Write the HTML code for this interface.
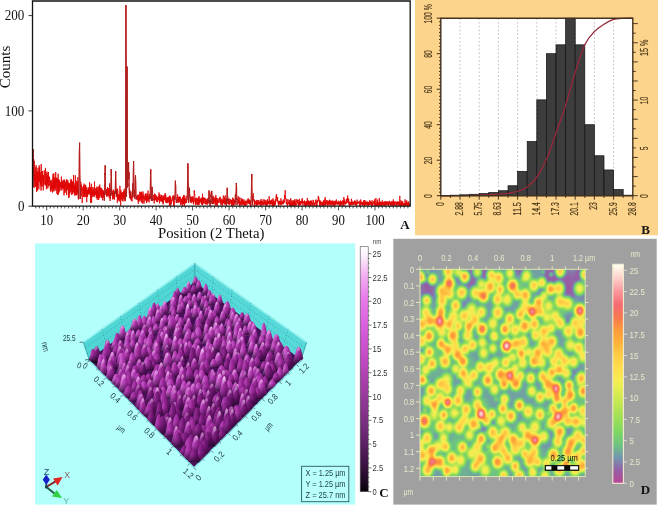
<!DOCTYPE html>
<html><head><meta charset="utf-8"><title>Figure</title>
<style>
html,body{margin:0;padding:0;background:#fff;}
body{width:658px;height:506px;overflow:hidden;font-family:"Liberation Sans",sans-serif;}
svg{display:block;filter:blur(0.4px);}
</style></head><body>
<svg width="658" height="506" viewBox="0 0 658 506">
<rect width="658" height="506" fill="#ffffff"/>
<g id="panel_a">
<rect x="0" y="0" width="414" height="243" fill="#fff"/>
<polyline points="33.2,149 33.3,158.5 33.5,164.3 33.6,174.2 33.7,159.1 33.8,176.8 34,176.9 34.1,187.9 34.2,160.8 34.4,173.3 34.5,180.9 34.6,178.2 34.7,174 34.9,178.8 35,178.7 35.1,186.3 35.2,173.9 35.4,176.6 35.5,175.7 35.6,186.9 35.8,167.4 35.9,176.6 36,180 36.1,165.2 36.3,178 36.4,185.8 36.5,180.3 36.6,191.8 36.8,171.5 36.9,180.5 37,182.5 37.2,171.5 37.3,188.1 37.4,174.9 37.5,190.7 37.7,182.2 37.8,185.5 37.9,169.4 38.1,167.7 38.2,180.4 38.3,171.9 38.4,179.5 38.6,175.1 38.7,183.1 38.8,188.8 38.9,189.4 39.1,176.4 39.2,165.3 39.3,177.2 39.5,181.9 39.6,167.5 39.7,177.5 39.8,178.3 40,177.5 40.1,179.8 40.2,180.9 40.4,185.4 40.5,176.2 40.6,179.8 40.7,172.2 40.9,181.5 41,190.6 41.1,180 41.2,164 41.4,181.7 41.5,184.7 41.6,186.5 41.8,185.7 41.9,181.4 42,186.6 42.1,171 42.3,181.4 42.4,179.2 42.5,171.5 42.7,171.1 42.8,181.2 42.9,178 43,175.3 43.2,181.2 43.3,190.4 43.4,176.3 43.5,175 43.7,177.8 43.8,185.6 43.9,181.4 44.1,183.7 44.2,182.1 44.3,170.3 44.4,171.7 44.6,176.7 44.7,177.4 44.8,176.7 44.9,180.7 45.1,181.1 45.2,184.5 45.3,179.4 45.5,167.9 45.6,175.9 45.7,182.8 45.8,183.6 46,185.8 46.1,178.9 46.2,178.8 46.4,189.2 46.5,178.4 46.6,184.3 46.7,173.2 46.9,180.3 47,171.6 47.1,183.9 47.2,182.9 47.4,179.7 47.5,175.3 47.6,178.3 47.8,188.4 47.9,180.5 48,181.4 48.1,184 48.3,185.2 48.4,172 48.5,183.9 48.7,186.4 48.8,178.3 48.9,181.1 49,182.3 49.2,177.6 49.3,179.3 49.4,180 49.5,176.7 49.7,180.5 49.8,185.5 49.9,184.1 50.1,185 50.2,181.1 50.3,188.1 50.4,190.7 50.6,181.8 50.7,189.6 50.8,191.8 50.9,180.4 51.1,186.3 51.2,179.8 51.3,185.4 51.5,188.7 51.6,189.4 51.7,185.4 51.8,184.2 52,187.2 52.1,184.3 52.2,191.1 52.4,182.8 52.5,192.5 52.6,184 52.7,179.2 52.9,177.1 53,173.9 53.1,191.4 53.2,179 53.4,176.7 53.5,177.9 53.6,188.2 53.8,175 53.9,173.4 54,191.3 54.1,180.8 54.3,177.5 54.4,187.1 54.5,180.4 54.7,189.2 54.8,187.8 54.9,187.9 55,182.6 55.2,184.1 55.3,178.7 55.4,188.6 55.5,184.4 55.7,172 55.8,180.9 55.9,190.8 56.1,180.4 56.2,178.8 56.3,181.9 56.4,182.4 56.6,177.7 56.7,183.4 56.8,193.7 57,191.2 57.1,180.4 57.2,185.5 57.3,178.3 57.5,182.8 57.6,188.2 57.7,178.7 57.8,184.1 58,195 58.1,173.8 58.2,194.3 58.4,181.2 58.5,179.7 58.6,183.8 58.7,193.2 58.9,179.4 59,192 59.1,191.6 59.2,186.6 59.4,180.7 59.5,183.3 59.6,180.7 59.8,187.1 59.9,185.8 60,190.7 60.1,186.6 60.3,182 60.4,186.5 60.5,182.7 60.7,188 60.8,188.1 60.9,185 61,186.2 61.2,182.2 61.3,184.4 61.4,176.6 61.5,186.4 61.7,186.5 61.8,190.6 61.9,185.3 62.1,182 62.2,189.2 62.3,185.8 62.4,182 62.6,186.2 62.7,188.2 62.8,180.8 63,185.2 63.1,183.7 63.2,179.9 63.3,180.1 63.5,187.5 63.6,188.4 63.7,184.5 63.8,186.5 64,195.3 64.1,179.7 64.2,185.9 64.4,182.4 64.5,191.8 64.6,179.8 64.7,189 64.9,186.7 65,193 65.1,187 65.3,187.3 65.4,187.2 65.5,184.2 65.6,186 65.8,181.6 65.9,188.7 66,191.2 66.1,186.5 66.3,183.4 66.4,180.5 66.5,179.4 66.7,195.1 66.8,184.8 66.9,179.6 67,186.4 67.2,189.2 67.3,185.2 67.4,189.2 67.5,183.7 67.7,186.9 67.8,180.2 67.9,184.5 68.1,190.3 68.2,184 68.3,182.5 68.4,189.7 68.6,189 68.7,198 68.8,182.8 69,189.9 69.1,197.2 69.2,195.5 69.3,188.2 69.5,183.6 69.6,187.7 69.7,185 69.8,192.5 70,193.6 70.1,183.2 70.2,185.1 70.4,187.6 70.5,181.4 70.6,191.9 70.7,189.5 70.9,182.7 71,179 71.1,187.5 71.3,179.8 71.4,190.4 71.5,186.1 71.6,188.5 71.8,195.1 71.9,186.6 72,183.5 72.1,188.5 72.3,188.2 72.4,181.4 72.5,193.7 72.7,192.2 72.8,191 72.9,193.5 73,181.8 73.2,186.6 73.3,192 73.4,190.9 73.5,175 73.7,190.9 73.8,191.7 73.9,186.8 74.1,185.3 74.2,187.2 74.3,192.4 74.4,193.6 74.6,185.6 74.7,188.6 74.8,195.8 75,183.1 75.1,184.9 75.2,189.6 75.3,175.4 75.5,187.5 75.6,191.6 75.7,194.7 75.8,187.1 76,195.1 76.1,186.9 76.2,195.2 76.4,189.1 76.5,189.3 76.6,180.8 76.7,193.5 76.9,195.1 77,187 77.1,193.9 77.3,191.5 77.4,187 77.5,185.5 77.6,181.6 77.8,192.3 77.9,177.3 78,180.2 78.1,190 78.3,199.2 78.4,189.5 78.5,188.8 78.7,199.2 78.8,188.2 78.9,187.7 79,185.6 79.2,170 79.3,155.1 79.4,149.7 79.6,142.7 79.7,153.4 79.8,167.1 79.9,175.8 80.1,181.8 80.2,190.3 80.3,198.8 80.4,186.9 80.6,196.5 80.7,189 80.8,181.9 81,189.7 81.1,194.8 81.2,196 81.3,184.6 81.5,189.8 81.6,187.4 81.7,185.8 81.8,190 82,191.1 82.1,193.9 82.2,203.1 82.4,190.9 82.5,190.2 82.6,190.7 82.7,188.2 82.9,190.5 83,189.3 83.1,186.7 83.3,193.8 83.4,191.3 83.5,197 83.6,186 83.8,190 83.9,188.1 84,183.6 84.1,185.6 84.3,190.5 84.4,186.9 84.5,196.4 84.7,188.5 84.8,189.8 84.9,197.2 85,184.7 85.2,193.4 85.3,187.5 85.4,192.2 85.6,186.3 85.7,185 85.8,194 85.9,197 86.1,191.1 86.2,187 86.3,192.2 86.4,193.2 86.6,188.6 86.7,202.2 86.8,193.5 87,196.5 87.1,189.5 87.2,193.8 87.3,195.4 87.5,192.3 87.6,196.9 87.7,190.9 87.8,193.7 88,192.5 88.1,193.9 88.2,187.2 88.4,191.4 88.5,188.8 88.6,189 88.7,194.4 88.9,188.7 89,189.7 89.1,189.8 89.3,192.8 89.4,192.9 89.5,188 89.6,182.3 89.8,194.6 89.9,189.1 90,192.8 90.1,188.1 90.3,189.5 90.4,187 90.5,202.7 90.7,193.8 90.8,195.4 90.9,191.9 91,194.4 91.2,192.4 91.3,188.7 91.4,183.8 91.6,202.9 91.7,192.8 91.8,190.3 91.9,191.6 92.1,193 92.2,197.1 92.3,195.4 92.4,188.8 92.6,187.4 92.7,191.3 92.8,195.1 93,191.4 93.1,192.7 93.2,189.6 93.3,191.3 93.5,191.5 93.6,191.1 93.7,196.6 93.9,188.6 94,187.2 94.1,196.6 94.2,190.3 94.4,195.9 94.5,181.5 94.6,188.4 94.7,193 94.9,188.1 95,193.8 95.1,194.6 95.3,194.4 95.4,192.7 95.5,193.4 95.6,191.6 95.8,194.6 95.9,189.2 96,188.2 96.1,194.2 96.3,197.9 96.4,189.5 96.5,187.9 96.7,193 96.8,197.4 96.9,191.3 97,186.5 97.2,199.7 97.3,190.6 97.4,193.7 97.6,195.8 97.7,190.6 97.8,197.6 97.9,191.4 98.1,187.5 98.2,191.9 98.3,196 98.4,199.5 98.6,197.6 98.7,199.8 98.8,186.5 99,193.7 99.1,196.7 99.2,197.7 99.3,196.9 99.5,194.1 99.6,197.7 99.7,184.6 99.9,195.7 100,195.8 100.1,191.7 100.2,187.4 100.4,187.9 100.5,194.8 100.6,192 100.7,192.4 100.9,191 101,189.4 101.1,196.6 101.3,197.8 101.4,192.4 101.5,197.6 101.6,187.9 101.8,193 101.9,197 102,194.4 102.1,195.1 102.3,193.7 102.4,189.7 102.5,198.7 102.7,200.3 102.8,192 102.9,193.9 103,192.7 103.2,191.7 103.3,194 103.4,190.4 103.6,196.7 103.7,193.2 103.8,196.5 103.9,197.6 104.1,191.2 104.2,191.3 104.3,200.6 104.4,197.2 104.6,190.5 104.7,183.6 104.8,182.8 105,173.2 105.1,175.1 105.2,165.3 105.3,181 105.5,185.9 105.6,190 105.7,190 105.9,191.4 106,194.9 106.1,191 106.2,193.5 106.4,189 106.5,196.5 106.6,195.8 106.7,191.4 106.9,189.2 107,193.3 107.1,196.5 107.3,194.3 107.4,195.7 107.5,187 107.6,190.7 107.8,189.4 107.9,192.9 108,196 108.2,189.8 108.3,188 108.4,191.9 108.5,194.1 108.7,190.2 108.8,195.4 108.9,191.3 109,196.7 109.2,197.6 109.3,192.1 109.4,193 109.6,183.4 109.7,195.2 109.8,194.1 109.9,198.3 110.1,201 110.2,199 110.3,192.6 110.4,198.5 110.6,190.2 110.7,188.5 110.8,192.4 111,180.4 111.1,178.1 111.2,169.2 111.3,174.5 111.5,176.6 111.6,190.7 111.7,189.8 111.9,195.5 112,194.9 112.1,192.3 112.2,193.9 112.4,191 112.5,192 112.6,191.8 112.7,199.5 112.9,192.6 113,192.3 113.1,197.3 113.3,193.3 113.4,198.7 113.5,189.6 113.6,195.5 113.8,195 113.9,190.6 114,195.3 114.2,192.7 114.3,198.4 114.4,196.8 114.5,199.7 114.7,195.6 114.8,191.3 114.9,194 115,191.3 115.2,193.5 115.3,191.4 115.4,182.7 115.6,172 115.7,171.2 115.8,177.8 115.9,183.4 116.1,191.9 116.2,194.1 116.3,190.3 116.4,197 116.6,194.4 116.7,189.5 116.8,194.7 117,192.7 117.1,197.2 117.2,188.4 117.3,202.9 117.5,199.1 117.6,198.8 117.7,189.7 117.9,194 118,196.1 118.1,199.6 118.2,194 118.4,194.9 118.5,197.6 118.6,200.4 118.7,199.1 118.9,194.6 119,194.3 119.1,195.1 119.3,195.9 119.4,201.4 119.5,195.2 119.6,198.9 119.8,195.3 119.9,185.9 120,197.7 120.2,198.9 120.3,192.2 120.4,194.3 120.5,197.7 120.7,205.6 120.8,195.7 120.9,189.8 121,191.8 121.2,197.9 121.3,197.8 121.4,197.1 121.6,192.8 121.7,199.6 121.8,196 121.9,198.8 122.1,194.8 122.2,200.9 122.3,194.5 122.5,197.4 122.6,196.5 122.7,194 122.8,192 123,201.4 123.1,192.5 123.2,194 123.3,196.8 123.5,191.2 123.6,195.2 123.7,191.6 123.9,197.8 124,198.8 124.1,191.9 124.2,188.8 124.4,193.9 124.5,193 124.6,197.5 124.7,200.3 124.9,196.7 125,191.1 125.1,201.2 125.3,197.5 125.4,200.2 125.5,182.2 125.6,140.2 125.8,73 125.9,5.1 126,23.6 126.2,103.6 126.3,168.8 126.4,193.4 126.5,196.9 126.7,167 126.8,120.2 126.9,66.6 127,81.9 127.2,142.2 127.3,180.5 127.4,186.1 127.6,187.3 127.7,183.7 127.8,186 127.9,173.8 128.1,175.7 128.2,177.2 128.3,170.1 128.5,166.5 128.6,162.3 128.7,172.8 128.8,179.3 129,172.3 129.1,182.6 129.2,187.5 129.3,193.1 129.5,195.3 129.6,189 129.7,195.8 129.9,197.3 130,197.7 130.1,191.3 130.2,198.3 130.4,194.5 130.5,195.7 130.6,195.8 130.7,199.4 130.9,194.5 131,191.5 131.1,196.8 131.3,199.5 131.4,200.7 131.5,196.1 131.6,197.5 131.8,197 131.9,196.7 132,201.4 132.2,194.3 132.3,196 132.4,197 132.5,196 132.7,183.6 132.8,196 132.9,197.2 133,186.7 133.2,183.8 133.3,174 133.4,167.7 133.6,161 133.7,168.1 133.8,179.7 133.9,186.1 134.1,193.2 134.2,192.7 134.3,195.7 134.5,198.2 134.6,190.8 134.7,198.5 134.8,194.8 135,196.1 135.1,195.1 135.2,185.7 135.3,179.9 135.5,175.4 135.6,179.2 135.7,180.1 135.9,188.6 136,194.2 136.1,197.8 136.2,199.5 136.4,197.8 136.5,196.4 136.6,197.5 136.8,197.6 136.9,198.6 137,196.1 137.1,196.5 137.3,199.5 137.4,194.9 137.5,194.8 137.6,194.8 137.8,197.6 137.9,197.8 138,200.5 138.2,195 138.3,203.8 138.4,198.5 138.5,198.3 138.7,194.7 138.8,197.3 138.9,200.3 139,201.7 139.2,199.6 139.3,197.1 139.4,197.2 139.6,198 139.7,199.5 139.8,191.7 139.9,194.4 140.1,200.8 140.2,197.4 140.3,192.6 140.5,195.8 140.6,198.9 140.7,195.5 140.8,199.8 141,197.5 141.1,192.9 141.2,191.9 141.3,202.7 141.5,195.5 141.6,191.8 141.7,199.2 141.9,196.8 142,193.1 142.1,199.1 142.2,196.3 142.4,197.8 142.5,203.4 142.6,196.6 142.8,196.3 142.9,194.9 143,191.5 143.1,195.7 143.3,198.8 143.4,196.4 143.5,197.1 143.6,194.7 143.8,202 143.9,201.2 144,203.8 144.2,196 144.3,197.9 144.4,199.7 144.5,199.9 144.7,199.5 144.8,200.6 144.9,198.8 145.1,199.3 145.2,193.8 145.3,196.9 145.4,200.3 145.6,199.6 145.7,194.4 145.8,196.6 145.9,197.1 146.1,195.3 146.2,193.3 146.3,201.5 146.5,196.5 146.6,203 146.7,196.6 146.8,199.1 147,200 147.1,200.2 147.2,196 147.3,198.5 147.5,199.6 147.6,194.4 147.7,201.1 147.9,201.7 148,190.6 148.1,199.2 148.2,199.7 148.4,200.2 148.5,198.5 148.6,195.9 148.8,196 148.9,196.6 149,199 149.1,202.4 149.3,197.4 149.4,193.9 149.5,195.2 149.6,198.7 149.8,195.9 149.9,199 150,197.2 150.2,198.2 150.3,190.5 150.4,181.7 150.5,175.2 150.7,169.4 150.8,169.4 150.9,178.4 151.1,190.5 151.2,196.8 151.3,199 151.4,200.7 151.6,197.8 151.7,193.6 151.8,193.7 151.9,189.8 152.1,186.9 152.2,188 152.3,193 152.5,189.9 152.6,194.2 152.7,200.7 152.8,198.1 153,200.1 153.1,198.4 153.2,195 153.3,195.7 153.5,195.5 153.6,195.5 153.7,195.4 153.9,196.5 154,197.3 154.1,198.9 154.2,203.4 154.4,198.7 154.5,193.6 154.6,200.1 154.8,200.3 154.9,195.8 155,198.4 155.1,200 155.3,194.3 155.4,196.9 155.5,196 155.6,200.2 155.8,197.3 155.9,197.6 156,196.5 156.2,195.5 156.3,195.6 156.4,198.2 156.5,196.8 156.7,201.9 156.8,197 156.9,196.9 157.1,199.8 157.2,200.9 157.3,198.9 157.4,202.1 157.6,197.9 157.7,198 157.8,201.4 157.9,198.7 158.1,195.9 158.2,195.9 158.3,196.1 158.5,199.3 158.6,199.8 158.7,199.9 158.8,197.3 159,192.5 159.1,195.1 159.2,194.6 159.4,195.2 159.5,203.3 159.6,199.5 159.7,200.1 159.9,195.6 160,194.4 160.1,200.8 160.2,198.9 160.4,197.5 160.5,200.3 160.6,200.7 160.8,200 160.9,196.6 161,201.5 161.1,196 161.3,198.8 161.4,197 161.5,194.9 161.6,200.9 161.8,201.3 161.9,197.9 162,201.8 162.2,201 162.3,199.4 162.4,198.7 162.5,202.4 162.7,200.1 162.8,197.6 162.9,195.6 163.1,204.4 163.2,195.7 163.3,196.8 163.4,201.9 163.6,203.1 163.7,198.1 163.8,200.3 163.9,198.8 164.1,196.9 164.2,200.2 164.3,198.8 164.5,198 164.6,196.9 164.7,194.6 164.8,194.8 165,198.6 165.1,199.9 165.2,193 165.4,197.6 165.5,198.2 165.6,202.2 165.7,195 165.9,201.4 166,200.5 166.1,202.8 166.2,199.6 166.4,199.2 166.5,197.7 166.6,201.7 166.8,199.6 166.9,202.7 167,202.6 167.1,201.6 167.3,203.1 167.4,197.8 167.5,202 167.6,197.4 167.8,197 167.9,202.5 168,199.3 168.2,200.7 168.3,202.4 168.4,200.3 168.5,200.1 168.7,197.6 168.8,196.8 168.9,200.2 169.1,200.6 169.2,198.1 169.3,196.5 169.4,205.8 169.6,196.2 169.7,200 169.8,195.6 169.9,200.6 170.1,201.7 170.2,199.5 170.3,196.6 170.5,199.5 170.6,205.6 170.7,197.8 170.8,203.7 171,202.1 171.1,202.6 171.2,204.3 171.4,202.8 171.5,201.2 171.6,201.2 171.7,199.8 171.9,200.5 172,201.6 172.1,200.1 172.2,197.2 172.4,197.3 172.5,199.4 172.6,198.1 172.8,197.4 172.9,196.3 173,195.4 173.1,200.5 173.3,200.4 173.4,196 173.5,195.8 173.7,195.9 173.8,205.7 173.9,196.4 174,205.9 174.2,197.9 174.3,199.7 174.4,199.7 174.5,200.1 174.7,196.4 174.8,200 174.9,195.3 175.1,193.5 175.2,189 175.3,183.2 175.4,180.7 175.6,184.7 175.7,184.9 175.8,190.5 175.9,196.8 176.1,196.9 176.2,197.3 176.3,203 176.5,200.3 176.6,201 176.7,202.2 176.8,199.1 177,202 177.1,201 177.2,199.3 177.4,199.1 177.5,199.2 177.6,194.4 177.7,201.2 177.9,199.4 178,203 178.1,198.8 178.2,197.1 178.4,197 178.5,201.6 178.6,200.7 178.8,196.9 178.9,200.3 179,197.7 179.1,202.5 179.3,196.6 179.4,197.5 179.5,198.9 179.7,202 179.8,200.5 179.9,199.7 180,199.4 180.2,200.4 180.3,200.6 180.4,199.6 180.5,196.7 180.7,205.1 180.8,203.5 180.9,203.9 181.1,201.8 181.2,204.4 181.3,198.8 181.4,199.9 181.6,200.8 181.7,201.8 181.8,199.8 181.9,199.8 182.1,199.4 182.2,202 182.3,198.6 182.5,203.8 182.6,197.2 182.7,205.9 182.8,201.7 183,203.2 183.1,198.3 183.2,203.9 183.4,195.8 183.5,204 183.6,195.3 183.7,199.2 183.9,200.2 184,199.2 184.1,195 184.2,198.1 184.4,205.7 184.5,197.4 184.6,199.8 184.8,204.2 184.9,198.5 185,203.3 185.1,199.9 185.3,199.8 185.4,201.9 185.5,198.8 185.7,202.8 185.8,199.9 185.9,201.7 186,200.8 186.2,195.8 186.3,200.1 186.4,203 186.5,200.7 186.7,202.3 186.8,200.3 186.9,200 187.1,200 187.2,199.3 187.3,198.5 187.4,190.8 187.6,180.1 187.7,173.1 187.8,163.3 188,164.6 188.1,170.2 188.2,181.6 188.3,194.6 188.5,197.4 188.6,202.8 188.7,201.2 188.8,197.2 189,191.2 189.1,188.7 189.2,188.8 189.4,190.4 189.5,187.8 189.6,192.4 189.7,194.4 189.9,197.6 190,197.8 190.1,198.7 190.2,198.5 190.4,201.6 190.5,198.2 190.6,201.8 190.8,200.4 190.9,196.2 191,199.8 191.1,203.3 191.3,197.1 191.4,198.3 191.5,197.9 191.7,200.2 191.8,199.8 191.9,201.2 192,202.3 192.2,197.1 192.3,201.5 192.4,201.8 192.5,201.7 192.7,196.3 192.8,198.6 192.9,201.5 193.1,197.2 193.2,199.5 193.3,198.6 193.4,204.4 193.6,198.5 193.7,200.9 193.8,201.4 194,199.6 194.1,195 194.2,190.5 194.3,192.4 194.5,190.9 194.6,195.1 194.7,194.1 194.8,195.5 195,202.6 195.1,201.3 195.2,198.7 195.4,204.8 195.5,201.3 195.6,199.4 195.7,204.7 195.9,201.7 196,200.7 196.1,197.8 196.2,203.8 196.4,198.3 196.5,200.1 196.6,198.1 196.8,198.2 196.9,200.1 197,199.7 197.1,204.8 197.3,204 197.4,203.2 197.5,201.7 197.7,198.7 197.8,205 197.9,201.6 198,203.9 198.2,204.5 198.3,197.5 198.4,200.7 198.5,197.2 198.7,198.2 198.8,203 198.9,205.1 199.1,196.2 199.2,201.9 199.3,203.5 199.4,199.4 199.6,200.6 199.7,202.5 199.8,201.7 200,200.6 200.1,200.8 200.2,199.3 200.3,201.8 200.5,201.8 200.6,199.6 200.7,200.3 200.8,198.5 201,201.6 201.1,199.6 201.2,203.6 201.4,197.6 201.5,204.2 201.6,200.6 201.7,203 201.9,200.3 202,199.4 202.1,204.7 202.3,201.5 202.4,205 202.5,193.8 202.6,202.1 202.8,204.6 202.9,202.6 203,198.1 203.1,197.7 203.3,198.2 203.4,202.8 203.5,201.4 203.7,197.4 203.8,202.7 203.9,201.9 204,203.2 204.2,203.7 204.3,198.4 204.4,199.7 204.5,200.1 204.7,199.8 204.8,198 204.9,197.8 205.1,201.2 205.2,201.9 205.3,203.4 205.4,198.8 205.6,202.3 205.7,204.5 205.8,201.8 206,201.1 206.1,199.3 206.2,199 206.3,202.8 206.5,203 206.6,201.9 206.7,203.9 206.8,201.5 207,200.2 207.1,201.1 207.2,204.8 207.4,203.9 207.5,198.4 207.6,203.5 207.7,199.6 207.9,199.8 208,201.9 208.1,203.4 208.3,200.5 208.4,202.3 208.5,199.4 208.6,196.6 208.8,195.5 208.9,191.7 209,190.5 209.1,192.2 209.3,193.5 209.4,197.5 209.5,202.5 209.7,200.8 209.8,201.5 209.9,202.5 210,205.8 210.2,199.6 210.3,199.8 210.4,199.9 210.5,200.6 210.7,204 210.8,200.7 210.9,202.4 211.1,194.2 211.2,197.7 211.3,191.9 211.4,193.8 211.6,191.6 211.7,191 211.8,190.9 212,194.5 212.1,197.8 212.2,204.1 212.3,198.5 212.5,203.3 212.6,197.9 212.7,197.4 212.8,199.6 213,199.3 213.1,204.1 213.2,195.8 213.4,201 213.5,199.3 213.6,203.3 213.7,201.6 213.9,204 214,199.7 214.1,201.4 214.3,200.9 214.4,198.5 214.5,200.4 214.6,200.9 214.8,201.4 214.9,197.2 215,202.7 215.1,198.9 215.3,205.7 215.4,203.4 215.5,200.6 215.7,201.8 215.8,195.1 215.9,196 216,204.8 216.2,203.8 216.3,201.8 216.4,197.8 216.6,199.1 216.7,200.8 216.8,204.6 216.9,203.3 217.1,205.9 217.2,204.8 217.3,200.6 217.4,199.9 217.6,204.3 217.7,201.3 217.8,198.1 218,201.2 218.1,202.2 218.2,200.3 218.3,200.4 218.5,201.4 218.6,202.7 218.7,202.5 218.8,201.4 219,202.7 219.1,198.8 219.2,199.7 219.4,199.3 219.5,197.3 219.6,198.3 219.7,198.6 219.9,200.8 220,202 220.1,196.8 220.3,203 220.4,202.9 220.5,203.5 220.6,201.2 220.8,200.8 220.9,199.5 221,202.1 221.1,205.3 221.3,201 221.4,199.6 221.5,201.6 221.7,201.9 221.8,200.5 221.9,198.7 222,201.8 222.2,204.7 222.3,202.9 222.4,202 222.6,205.5 222.7,199.9 222.8,203.3 222.9,200.6 223.1,201.3 223.2,202.4 223.3,195.5 223.4,202.9 223.6,203.1 223.7,201.1 223.8,200 224,201.7 224.1,203.8 224.2,200.3 224.3,200.5 224.5,197.4 224.6,202.2 224.7,201.3 224.9,202.9 225,204.9 225.1,201.6 225.2,195.4 225.4,203.9 225.5,203.2 225.6,204.2 225.7,199 225.9,203.1 226,200.6 226.1,203.6 226.3,201.6 226.4,203.1 226.5,205.9 226.6,200.9 226.8,198.5 226.9,200.9 227,192.4 227.1,188.4 227.3,187.8 227.4,188 227.5,196 227.7,196.1 227.8,197.2 227.9,203.7 228,201.8 228.2,198.9 228.3,201.6 228.4,202.9 228.6,203.7 228.7,201.5 228.8,202.1 228.9,200.6 229.1,205 229.2,199.7 229.3,198.6 229.4,200.6 229.6,203.4 229.7,204.5 229.8,203 230,203.8 230.1,202.7 230.2,200.6 230.3,199.3 230.5,201.5 230.6,203 230.7,202.8 230.9,200.7 231,199.6 231.1,202.6 231.2,202.2 231.4,203.5 231.5,201.5 231.6,200 231.7,205.9 231.9,200.8 232,203.1 232.1,205.9 232.3,201.3 232.4,202.1 232.5,201.2 232.6,204.7 232.8,197.6 232.9,201.7 233,202.7 233.1,198.9 233.3,200.7 233.4,200.3 233.5,199.6 233.7,205.9 233.8,198.6 233.9,202.7 234,201.4 234.2,200.1 234.3,203.4 234.4,201.4 234.6,200.5 234.7,202.1 234.8,201 234.9,205.2 235.1,204.4 235.2,204.3 235.3,201.3 235.4,194.4 235.6,201.2 235.7,201.3 235.8,199.5 236,194.5 236.1,190.9 236.2,190.2 236.3,183.1 236.5,185.5 236.6,186.9 236.7,197 236.9,200.1 237,198.5 237.1,204.8 237.2,201 237.4,201.3 237.5,201.8 237.6,201.4 237.7,201.5 237.9,201.2 238,202.9 238.1,196.9 238.3,196.2 238.4,199.8 238.5,200.9 238.6,199.5 238.8,203.6 238.9,201.7 239,202.6 239.2,200.2 239.3,203.9 239.4,205.9 239.5,203.2 239.7,200.7 239.8,197.2 239.9,200.1 240,204.1 240.2,202.6 240.3,204 240.4,202.5 240.6,203.9 240.7,205.4 240.8,201.3 240.9,201.8 241.1,202.5 241.2,201.5 241.3,198.1 241.4,201.9 241.6,202.9 241.7,200.5 241.8,205.4 242,200.7 242.1,203.7 242.2,203.8 242.3,202 242.5,198.9 242.6,203.7 242.7,200.3 242.9,201.4 243,204.9 243.1,200.4 243.2,203.8 243.4,205.1 243.5,203.8 243.6,203.6 243.7,201 243.9,203.6 244,199.3 244.1,201.8 244.3,203.6 244.4,203.9 244.5,201.8 244.6,205.9 244.8,202.7 244.9,204 245,201 245.2,201.9 245.3,202.2 245.4,202.7 245.5,205.9 245.7,202.9 245.8,205.7 245.9,200.6 246,202.3 246.2,202.4 246.3,201.5 246.4,201.6 246.6,201.8 246.7,201.6 246.8,203.4 246.9,204.9 247.1,201.6 247.2,199.5 247.3,200.3 247.4,202.7 247.6,201.1 247.7,203.1 247.8,201.5 248,203.5 248.1,202 248.2,198.4 248.3,200.8 248.5,199.4 248.6,203.8 248.7,203.6 248.9,202.4 249,201.2 249.1,202.7 249.2,200.4 249.4,203.4 249.5,199.7 249.6,200.5 249.7,204.5 249.9,201.2 250,202.8 250.1,200.4 250.3,203.4 250.4,201.7 250.5,201.3 250.6,205.9 250.8,205.9 250.9,202 251,201.9 251.2,198.2 251.3,196 251.4,192.5 251.5,181.8 251.7,178.7 251.8,174 251.9,184.4 252,190.4 252.2,199.7 252.3,202.2 252.4,205.1 252.6,196.1 252.7,200.8 252.8,198.8 252.9,197.7 253.1,195.4 253.2,194.7 253.3,193.3 253.5,195.6 253.6,197.1 253.7,200.5 253.8,200.8 254,199.2 254.1,202.1 254.2,201.7 254.3,205.9 254.5,201.4 254.6,201.9 254.7,200 254.9,205.9 255,202.4 255.1,202.7 255.2,202.3 255.4,203.6 255.5,202.1 255.6,201.1 255.7,202.4 255.9,203 256,202.9 256.1,203.2 256.3,202.4 256.4,203.8 256.5,205.9 256.6,199.9 256.8,205.8 256.9,202.7 257,205 257.2,203.1 257.3,204.3 257.4,202.6 257.5,204.1 257.7,205 257.8,201.9 257.9,200 258,201.9 258.2,202.3 258.3,204.5 258.4,202.7 258.6,201.7 258.7,203.8 258.8,200.2 258.9,202.6 259.1,201.9 259.2,203.5 259.3,203.5 259.5,202.2 259.6,201.9 259.7,201.9 259.8,204.5 260,204 260.1,202.6 260.2,205.9 260.3,200.6 260.5,202 260.6,202.5 260.7,204 260.9,201.1 261,203.1 261.1,199 261.2,201.9 261.4,205.4 261.5,201.3 261.6,203.6 261.7,203.6 261.9,203.1 262,202.9 262.1,202.2 262.3,201.2 262.4,201.8 262.5,204 262.6,205.2 262.8,204.2 262.9,202 263,201 263.2,199.3 263.3,205.2 263.4,202.5 263.5,203.1 263.7,203.4 263.8,202.4 263.9,203.1 264,203.2 264.2,203.9 264.3,202 264.4,200.7 264.6,199.6 264.7,203.7 264.8,204.7 264.9,203.2 265.1,204.3 265.2,200.8 265.3,204.2 265.5,202.6 265.6,205.2 265.7,203.4 265.8,202.4 266,199.9 266.1,203.7 266.2,202 266.3,205.9 266.5,205 266.6,204.2 266.7,203.7 266.9,201.9 267,201.6 267.1,205.7 267.2,201.8 267.4,204.8 267.5,199.3 267.6,202.2 267.8,202.5 267.9,203.1 268,202.8 268.1,202.8 268.3,204 268.4,201.4 268.5,202.3 268.6,201.4 268.8,202.9 268.9,201.5 269,204.2 269.2,196.2 269.3,204.1 269.4,203.6 269.5,201 269.7,200.5 269.8,204.2 269.9,205.8 270,205.4 270.2,204.6 270.3,204.2 270.4,203.1 270.6,200.9 270.7,200.8 270.8,203.9 270.9,201.8 271.1,201.2 271.2,200.2 271.3,203.1 271.5,204.2 271.6,201.4 271.7,200 271.8,203.8 272,199.2 272.1,199.7 272.2,203.3 272.3,205.7 272.5,203.9 272.6,202.8 272.7,201.9 272.9,205.9 273,198.4 273.1,198.5 273.2,204.2 273.4,205.9 273.5,203.1 273.6,202.1 273.8,200.4 273.9,201.5 274,203.2 274.1,205.9 274.3,201.9 274.4,201.3 274.5,203.4 274.6,202.3 274.8,202.4 274.9,203.2 275,204.8 275.2,201.9 275.3,204.9 275.4,199.4 275.5,203 275.7,199.7 275.8,201.1 275.9,198 276,198 276.2,195.7 276.3,195 276.4,198.3 276.6,194.2 276.7,196.2 276.8,199 276.9,198.5 277.1,201.3 277.2,199.1 277.3,201 277.5,201.1 277.6,197 277.7,201.9 277.8,201.8 278,201.5 278.1,203 278.2,203.9 278.3,201.3 278.5,201 278.6,205.9 278.7,203.2 278.9,203.5 279,203.9 279.1,200.7 279.2,203.9 279.4,201.4 279.5,203.9 279.6,202.7 279.8,201.6 279.9,204.3 280,203.2 280.1,204.9 280.3,204.5 280.4,201.6 280.5,201.9 280.6,205 280.8,205.1 280.9,198.4 281,204.1 281.2,204.5 281.3,202 281.4,204.4 281.5,203.6 281.7,201.4 281.8,201.2 281.9,203.3 282.1,200.6 282.2,203.2 282.3,203.4 282.4,203 282.6,203.5 282.7,202 282.8,202.5 282.9,204.4 283.1,202.7 283.2,203.9 283.3,204 283.5,203.2 283.6,199.6 283.7,202.4 283.8,200.5 284,199.7 284.1,202.2 284.2,202.8 284.3,202.4 284.5,199.6 284.6,197.4 284.7,195 284.9,198.9 285,193.9 285.1,192.9 285.2,190.1 285.4,194.2 285.5,195.1 285.6,198.7 285.8,198.5 285.9,200.3 286,201.3 286.1,202.1 286.3,204 286.4,202.1 286.5,201.7 286.6,201.3 286.8,198.9 286.9,201 287,201.1 287.2,205.7 287.3,203.5 287.4,205.2 287.5,204.8 287.7,202.7 287.8,203.2 287.9,200.4 288.1,199.4 288.2,202.3 288.3,203.4 288.4,203.3 288.6,203 288.7,202 288.8,204.3 288.9,202 289.1,203.5 289.2,201.1 289.3,200.6 289.5,199.9 289.6,203.3 289.7,205.4 289.8,205.9 290,203.5 290.1,205.5 290.2,205.9 290.3,203.6 290.5,204.8 290.6,201.8 290.7,198.2 290.9,203.4 291,202.5 291.1,205.8 291.2,202.7 291.4,204.3 291.5,205 291.6,205.9 291.8,200.2 291.9,205.9 292,205.2 292.1,203 292.3,202.5 292.4,202.5 292.5,202.8 292.6,204.6 292.8,201.7 292.9,202.7 293,205.6 293.2,200.2 293.3,203.6 293.4,201.4 293.5,205.6 293.7,205.1 293.8,204 293.9,204.2 294.1,201.2 294.2,205.9 294.3,202.7 294.4,204.8 294.6,200.2 294.7,202.7 294.8,204 294.9,199.1 295.1,203.1 295.2,201.1 295.3,205.4 295.5,203.3 295.6,202.9 295.7,202.8 295.8,203.6 296,204.5 296.1,205.9 296.2,204 296.4,204.7 296.5,203.5 296.6,201.5 296.7,199.2 296.9,202.1 297,201.3 297.1,201.9 297.2,201.8 297.4,202 297.5,203.5 297.6,203.6 297.8,202.5 297.9,199.9 298,201.1 298.1,200.2 298.3,205.3 298.4,202.6 298.5,202.3 298.6,202.1 298.8,205.4 298.9,205.9 299,205.9 299.2,203.7 299.3,198.9 299.4,202.7 299.5,205.1 299.7,202.4 299.8,203.6 299.9,202.7 300.1,203.8 300.2,205.3 300.3,204 300.4,201.8 300.6,202.5 300.7,200.9 300.8,204.9 300.9,201.2 301.1,202.9 301.2,202.7 301.3,200.9 301.5,203.2 301.6,202.6 301.7,201.9 301.8,201.9 302,201.6 302.1,198.3 302.2,202.1 302.4,203.8 302.5,198.8 302.6,203.1 302.7,202.3 302.9,204.3 303,205.9 303.1,204.3 303.2,202.9 303.4,202.1 303.5,202.9 303.6,201.6 303.8,201.3 303.9,201.3 304,203 304.1,202.9 304.3,203.4 304.4,204.5 304.5,200.5 304.7,205.1 304.8,202.5 304.9,202.6 305,205.9 305.2,201.7 305.3,203.6 305.4,202.6 305.5,203.6 305.7,205.7 305.8,202.7 305.9,202.8 306.1,201.3 306.2,202.2 306.3,205.9 306.4,201.1 306.6,201.6 306.7,201.7 306.8,202.2 306.9,204.2 307.1,202.1 307.2,203.6 307.3,198 307.5,203.4 307.6,204.9 307.7,203.6 307.8,200.5 308,204 308.1,205.9 308.2,200.5 308.4,202.5 308.5,203.9 308.6,201.8 308.7,204.6 308.9,205 309,201.4 309.1,203.9 309.2,202.1 309.4,203 309.5,201.6 309.6,202.8 309.8,205.9 309.9,201.9 310,203.9 310.1,201.5 310.3,202.8 310.4,200.6 310.5,203.6 310.7,205.9 310.8,203.6 310.9,202.2 311,203.6 311.2,203.9 311.3,200.5 311.4,203.3 311.5,201.2 311.7,202.8 311.8,205.5 311.9,204.7 312.1,203.6 312.2,202.5 312.3,204.4 312.4,205.5 312.6,204.8 312.7,204 312.8,204.6 312.9,204.1 313.1,199.9 313.2,202.6 313.3,204.5 313.5,203.1 313.6,200.4 313.7,202 313.8,203.3 314,205.4 314.1,205.9 314.2,203.7 314.4,203.3 314.5,205.9 314.6,205.4 314.7,203.2 314.9,205.9 315,205.9 315.1,203.2 315.2,202.1 315.4,202.6 315.5,201.4 315.6,200.4 315.8,201.6 315.9,203.6 316,199.5 316.1,200.2 316.3,201.5 316.4,204.5 316.5,202.4 316.7,205.9 316.8,203.7 316.9,205.9 317,203.8 317.2,201.3 317.3,202.9 317.4,200.1 317.5,201.1 317.7,202 317.8,202.2 317.9,200 318.1,200.1 318.2,197.2 318.3,195.9 318.4,197.7 318.6,200.3 318.7,197.9 318.8,197.3 319,199.3 319.1,200.7 319.2,200.3 319.3,200.2 319.5,205.9 319.6,200.3 319.7,201.7 319.8,202.2 320,204 320.1,202.7 320.2,202.1 320.4,205.6 320.5,201.8 320.6,203 320.7,200.6 320.9,201.9 321,203.4 321.1,203 321.2,202 321.4,202.8 321.5,202.2 321.6,204.3 321.8,205.2 321.9,204.1 322,205.5 322.1,204.4 322.3,202.5 322.4,205.9 322.5,205.2 322.7,201.9 322.8,204 322.9,203.1 323,205.2 323.2,204.9 323.3,203.6 323.4,200.4 323.5,202.2 323.7,205.9 323.8,202.4 323.9,201.6 324.1,202 324.2,205.2 324.3,203.2 324.4,199.5 324.6,204.7 324.7,202.6 324.8,204.4 325,205.3 325.1,203.9 325.2,197.1 325.3,201.2 325.5,204.6 325.6,203.9 325.7,204.6 325.8,205.9 326,202.1 326.1,200.5 326.2,200.6 326.4,203.9 326.5,200.9 326.6,201.3 326.7,203.7 326.9,203.1 327,203.7 327.1,202.7 327.2,200.1 327.4,204.7 327.5,205.1 327.6,201.7 327.8,203 327.9,205.9 328,204.8 328.1,202.3 328.3,204.1 328.4,202.6 328.5,201.5 328.7,203.2 328.8,201.3 328.9,204.4 329,200.5 329.2,200.9 329.3,203.6 329.4,204.4 329.5,199.7 329.7,201.6 329.8,204.6 329.9,205.9 330.1,203.6 330.2,201.1 330.3,204 330.4,203.5 330.6,200.7 330.7,202 330.8,200.8 331,205.2 331.1,203.6 331.2,203.5 331.3,204.2 331.5,205.1 331.6,201.8 331.7,202.9 331.8,201.9 332,200.6 332.1,203.7 332.2,202.2 332.4,203.8 332.5,203.3 332.6,202.6 332.7,203.4 332.9,205.7 333,200.6 333.1,202.9 333.3,205 333.4,205.9 333.5,203.2 333.6,202 333.8,201.4 333.9,201.3 334,203.8 334.1,202.1 334.3,205.7 334.4,202.9 334.5,201.6 334.7,204.2 334.8,203.4 334.9,203 335,202.9 335.2,200.7 335.3,204.9 335.4,200.9 335.5,205.2 335.7,204.3 335.8,204.4 335.9,203.3 336.1,204 336.2,202.3 336.3,203.1 336.4,199.5 336.6,202.5 336.7,203.6 336.8,202.5 337,202.2 337.1,203.5 337.2,205 337.3,204.5 337.5,202.9 337.6,201.8 337.7,202.4 337.8,203.3 338,202.2 338.1,204 338.2,202.7 338.4,200.8 338.5,201.3 338.6,200.9 338.7,203.8 338.9,202.8 339,204.8 339.1,201.6 339.3,203.9 339.4,205.4 339.5,204 339.6,202.8 339.8,205.9 339.9,205.5 340,201.5 340.1,203 340.3,203.3 340.4,205.8 340.5,200.6 340.7,201.5 340.8,202 340.9,205 341,202.2 341.2,201.3 341.3,203.7 341.4,203.6 341.5,204 341.7,202.2 341.8,203.6 341.9,203.7 342.1,205.6 342.2,205.9 342.3,201.6 342.4,200.6 342.6,201.8 342.7,200.9 342.8,204.1 343,203.3 343.1,202.6 343.2,203.5 343.3,200.4 343.5,205.4 343.6,204.2 343.7,203.8 343.8,197 344,201.8 344.1,205.9 344.2,201.3 344.4,201.7 344.5,202.7 344.6,200.9 344.7,199.3 344.9,202.9 345,202 345.1,202.5 345.3,202.3 345.4,204 345.5,204.3 345.6,202.1 345.8,203.9 345.9,201.4 346,201.5 346.1,203.4 346.3,201.8 346.4,202 346.5,202 346.7,198.9 346.8,200.8 346.9,200 347,203.1 347.2,198.4 347.3,201.4 347.4,199.3 347.6,195.8 347.7,195.5 347.8,199.2 347.9,200.8 348.1,198.4 348.2,200.2 348.3,199.5 348.4,202.7 348.6,199.2 348.7,198.9 348.8,204.2 349,203.5 349.1,203.6 349.2,201.5 349.3,205.9 349.5,202.6 349.6,203.4 349.7,204.4 349.8,202 350,205.9 350.1,205.4 350.2,204.5 350.4,202 350.5,203.8 350.6,204.6 350.7,202.4 350.9,204 351,204.3 351.1,203.7 351.3,202.6 351.4,198.8 351.5,205 351.6,202.7 351.8,203.4 351.9,203.6 352,200.7 352.1,201.9 352.3,202.1 352.4,203.9 352.5,204.6 352.7,202.7 352.8,203.6 352.9,204.1 353,202.1 353.2,205.1 353.3,204.4 353.4,201.9 353.6,203.3 353.7,202.1 353.8,204.6 353.9,202 354.1,204.3 354.2,201 354.3,201.9 354.4,202.4 354.6,200.7 354.7,202.6 354.8,204.2 355,200.6 355.1,202.6 355.2,201.2 355.3,202.9 355.5,201.3 355.6,204.6 355.7,205.2 355.8,205.4 356,201.9 356.1,205.9 356.2,205.9 356.4,205.5 356.5,202.8 356.6,202.4 356.7,204.5 356.9,201.9 357,202.6 357.1,199.6 357.3,201.6 357.4,204.3 357.5,202.8 357.6,203.4 357.8,202.4 357.9,202.8 358,203.1 358.1,202 358.3,203 358.4,202 358.5,203.1 358.7,203.4 358.8,201.6 358.9,201.6 359,201.1 359.2,202.1 359.3,203.5 359.4,202.8 359.6,202.9 359.7,205.9 359.8,205 359.9,200.7 360.1,201.1 360.2,205.9 360.3,203.3 360.4,202.9 360.6,205.1 360.7,199.5 360.8,201.3 361,201.8 361.1,203.5 361.2,202.4 361.3,201.8 361.5,202.4 361.6,204.2 361.7,202.9 361.9,202.9 362,202.7 362.1,204.9 362.2,202.7 362.4,203.2 362.5,202.8 362.6,202.9 362.7,205.5 362.9,201.8 363,202 363.1,205.4 363.3,203.3 363.4,204.6 363.5,203.6 363.6,201.6 363.8,202.3 363.9,200 364,203.1 364.1,205 364.3,203 364.4,205.9 364.5,200.3 364.7,202.8 364.8,202.5 364.9,203 365,204.6 365.2,203.4 365.3,204.5 365.4,204.1 365.6,202.7 365.7,205.2 365.8,200.6 365.9,205 366.1,202 366.2,204.3 366.3,205.3 366.4,202.7 366.6,203.1 366.7,203.7 366.8,202.5 367,204.4 367.1,202.7 367.2,204.1 367.3,203.3 367.5,201.6 367.6,205.5 367.7,204.3 367.9,204.5 368,204.7 368.1,202 368.2,203.8 368.4,203.2 368.5,203.6 368.6,205.9 368.7,202.3 368.9,202.3 369,203.3 369.1,205 369.3,204.8 369.4,200.3 369.5,200.7 369.6,202.7 369.8,204.9 369.9,201.4 370,202.6 370.1,200.8 370.3,204.4 370.4,202.7 370.5,203.8 370.7,201.6 370.8,204.5 370.9,202 371,204.1 371.2,204.9 371.3,202.5 371.4,203.1 371.6,205.9 371.7,203.5 371.8,203.3 371.9,203.2 372.1,200.2 372.2,204.5 372.3,203.5 372.4,205.9 372.6,205.8 372.7,204.4 372.8,203.7 373,203.8 373.1,202.4 373.2,202.3 373.3,201.8 373.5,203.7 373.6,202.7 373.7,201.3 373.9,202.9 374,202.7 374.1,204.3 374.2,205.9 374.4,204.5 374.5,199.3 374.6,203.6 374.7,204.5 374.9,203.3 375,201.7 375.1,202.9 375.3,203.8 375.4,205.5 375.5,204 375.6,205.4 375.8,199.1 375.9,198 376,201.8 376.2,204.4 376.3,205.1 376.4,205.7 376.5,202.8 376.7,202.6 376.8,202.2 376.9,202.9 377,205.4 377.2,205.9 377.3,199.5 377.4,204.8 377.6,200.5 377.7,205.9 377.8,204.2 377.9,205 378.1,203.1 378.2,202.4 378.3,204.4 378.4,202.6 378.6,205.6 378.7,202.9 378.8,205.5 379,204.4 379.1,204.5 379.2,203 379.3,198 379.5,205.7 379.6,203.8 379.7,202.4 379.9,203.4 380,201.2 380.1,205.2 380.2,202.3 380.4,204.8 380.5,202.2 380.6,203.3 380.7,203.1 380.9,204.5 381,205.9 381.1,205.3 381.3,202.4 381.4,203.9 381.5,202.3 381.6,205.6 381.8,202.5 381.9,201.9 382,205.9 382.2,203 382.3,200.4 382.4,204.7 382.5,201.9 382.7,203.5 382.8,202.2 382.9,204.1 383,204.8 383.2,204.2 383.3,204.1 383.4,204.5 383.6,204.9 383.7,201.8 383.8,204.5 383.9,205.5 384.1,205 384.2,202.7 384.3,205.9 384.5,202.7 384.6,202.4 384.7,201.5 384.8,204.2 385,204.8 385.1,203.2 385.2,203.3 385.3,201.4 385.5,203.4 385.6,204.2 385.7,205.7 385.9,203.9 386,203.4 386.1,201.6 386.2,203.4 386.4,201.4 386.5,201.5 386.6,204.7 386.7,205.3 386.9,204.5 387,203.9 387.1,204.8 387.3,202.4 387.4,202.4 387.5,201.6 387.6,203.1 387.8,204.2 387.9,202.9 388,205 388.2,203.3 388.3,204.7 388.4,201.7 388.5,205.9 388.7,202.2 388.8,202.1 388.9,203.6 389,203 389.2,203.2 389.3,201.5 389.4,200.9 389.6,203.5 389.7,200.9 389.8,204.5 389.9,202.9 390.1,202.8 390.2,205.5 390.3,203 390.5,204.6 390.6,202.3 390.7,204.9 390.8,205.9 391,205.6 391.1,203.5 391.2,202.9 391.3,203 391.5,204.7 391.6,201.3 391.7,204.4 391.9,203.9 392,202 392.1,203.8 392.2,205.9 392.4,202.4 392.5,203.5 392.6,204.1 392.7,201.5 392.9,204.5 393,202.5 393.1,203.3 393.3,199.4 393.4,205.9 393.5,203.2 393.6,203 393.8,201.8 393.9,204.2 394,204.5 394.2,201.3 394.3,204.2 394.4,203.1 394.5,203.6 394.7,202.9 394.8,205.7 394.9,204.4 395,203.6 395.2,203.4 395.3,201.8 395.4,202.7 395.6,202.6 395.7,202.6 395.8,201.5 395.9,204.5 396.1,203.7 396.2,205.9 396.3,205.2 396.5,202.2 396.6,203.6 396.7,205.9 396.8,203.6 397,203.9 397.1,205.3 397.2,203 397.3,204 397.5,201.6 397.6,202.1 397.7,204.5 397.9,201.8 398,204 398.1,204 398.2,201.5 398.4,203 398.5,204.2 398.6,203.7 398.8,203.2 398.9,205.9 399,202.5 399.1,203.6 399.3,205.6 399.4,205.1 399.5,202.2 399.6,205.6 399.8,195.9 399.9,205.3 400,203.2 400.2,205.9 400.3,203.7 400.4,204.4 400.5,202.8 400.7,203.3 400.8,204.1 400.9,200.2 401,202.4 401.2,204.7 401.3,203 401.4,205.9 401.6,204.5 401.7,201.6 401.8,204.5 401.9,203.4 402.1,205.4 402.2,202.4 402.3,203.4 402.5,203.6 402.6,202.1 402.7,201 402.8,202.3 403,205.9 403.1,203 403.2,203.2 403.3,205.4 403.5,205.9 403.6,204.3 403.7,204.1 403.9,203.7 404,204.8 404.1,203.4 404.2,203.2 404.4,204.1 404.5,203 404.6,204.6 404.8,205.9 404.9,203.7 405,202.3 405.1,199.4 405.3,205.9 405.4,204.5 405.5,205 405.6,203.2 405.8,205 405.9,203.5 406,202.1 406.2,204.8 406.3,203.8 406.4,201.1 406.5,202.2 406.7,205.9 406.8,200.4 406.9,204.7 407,203.2 407.2,204.3 407.3,204.4 407.4,204.7 407.6,202.7 407.7,204.9 407.8,205.6 407.9,204.5 408.1,203.6 408.2,205.9 408.3,202.4 408.5,204.8 408.6,202.5 408.7,201.5 408.8,203.1 409,202.8 409.1,204.4 409.2,204.7 409.3,205.9 409.5,203.9 409.6,204.5" fill="none" stroke="#e00505" stroke-width="0.85" stroke-linejoin="round"/>
<polyline points="78.4,189.5 78.5,188.8 78.7,199.2 78.8,188.2 78.9,187.7 79,185.6 79.2,170 79.3,155.1 79.4,149.7 79.6,142.7 79.7,153.4 79.8,167.1 79.9,175.8 80.1,181.8 80.2,190.3 80.3,198.8 80.4,186.9 80.6,196.5" fill="none" stroke="#a82020" stroke-width="0.75"/>
<polyline points="104.1,191.2 104.2,191.3 104.3,200.6 104.4,197.2 104.6,190.5 104.7,183.6 104.8,182.8 105,173.2 105.1,175.1 105.2,165.3 105.3,181 105.5,185.9 105.6,190 105.7,190 105.9,191.4 106,194.9" fill="none" stroke="#a82020" stroke-width="0.75"/>
<polyline points="110.3,192.6 110.4,198.5 110.6,190.2 110.7,188.5 110.8,192.4 111,180.4 111.1,178.1 111.2,169.2 111.3,174.5 111.5,176.6 111.6,190.7 111.7,189.8 111.9,195.5 112,194.9 112.1,192.3 112.2,193.9" fill="none" stroke="#a82020" stroke-width="0.75"/>
<polyline points="114.7,195.6 114.8,191.3 114.9,194 115,191.3 115.2,193.5 115.3,191.4 115.4,182.7 115.6,172 115.7,171.2 115.8,177.8 115.9,183.4 116.1,191.9 116.2,194.1 116.3,190.3 116.4,197 116.6,194.4" fill="none" stroke="#a82020" stroke-width="0.75"/>
<polyline points="125.1,201.2 125.3,197.5 125.4,200.2 125.5,182.2 125.6,140.2 125.8,73 125.9,5.1 126,23.6 126.2,103.6 126.3,168.8 126.4,193.4 126.5,196.9 126.7,167 126.8,120.2" fill="none" stroke="#a82020" stroke-width="0.75"/>
<polyline points="126.2,103.6 126.3,168.8 126.4,193.4 126.5,196.9 126.7,167 126.8,120.2 126.9,66.6 127,81.9 127.2,142.2 127.3,180.5 127.4,186.1 127.6,187.3 127.7,183.7" fill="none" stroke="#a82020" stroke-width="0.75"/>
<polyline points="126.4,193.4 126.5,196.9 126.7,167 126.8,120.2 126.9,66.6 127,81.9 127.2,142.2 127.3,180.5 127.4,186.1 127.6,187.3 127.7,183.7 127.8,186 127.9,173.8 128.1,175.7 128.2,177.2 128.3,170.1 128.5,166.5 128.6,162.3 128.7,172.8 128.8,179.3 129,172.3 129.1,182.6 129.2,187.5 129.3,193.1 129.5,195.3 129.6,189 129.7,195.8 129.9,197.3 130,197.7 130.1,191.3 130.2,198.3 130.4,194.5" fill="none" stroke="#a82020" stroke-width="0.75"/>
<polyline points="132.4,197 132.5,196 132.7,183.6 132.8,196 132.9,197.2 133,186.7 133.2,183.8 133.3,174 133.4,167.7 133.6,161 133.7,168.1 133.8,179.7 133.9,186.1 134.1,193.2 134.2,192.7 134.3,195.7 134.5,198.2 134.6,190.8" fill="none" stroke="#a82020" stroke-width="0.75"/>
<polyline points="134.6,190.8 134.7,198.5 134.8,194.8 135,196.1 135.1,195.1 135.2,185.7 135.3,179.9 135.5,175.4 135.6,179.2 135.7,180.1 135.9,188.6 136,194.2 136.1,197.8 136.2,199.5 136.4,197.8 136.5,196.4" fill="none" stroke="#a82020" stroke-width="0.75"/>
<polyline points="149.6,198.7 149.8,195.9 149.9,199 150,197.2 150.2,198.2 150.3,190.5 150.4,181.7 150.5,175.2 150.7,169.4 150.8,169.4 150.9,178.4 151.1,190.5 151.2,196.8 151.3,199 151.4,200.7 151.6,197.8 151.7,193.6" fill="none" stroke="#a82020" stroke-width="0.75"/>
<polyline points="151.2,196.8 151.3,199 151.4,200.7 151.6,197.8 151.7,193.6 151.8,193.7 151.9,189.8 152.1,186.9 152.2,188 152.3,193 152.5,189.9 152.6,194.2 152.7,200.7 152.8,198.1 153,200.1 153.1,198.4" fill="none" stroke="#a82020" stroke-width="0.75"/>
<polyline points="174.4,199.7 174.5,200.1 174.7,196.4 174.8,200 174.9,195.3 175.1,193.5 175.2,189 175.3,183.2 175.4,180.7 175.6,184.7 175.7,184.9 175.8,190.5 175.9,196.8 176.1,196.9 176.2,197.3 176.3,203 176.5,200.3 176.6,201" fill="none" stroke="#a82020" stroke-width="0.75"/>
<polyline points="186.8,200.3 186.9,200 187.1,200 187.2,199.3 187.3,198.5 187.4,190.8 187.6,180.1 187.7,173.1 187.8,163.3 188,164.6 188.1,170.2 188.2,181.6 188.3,194.6 188.5,197.4 188.6,202.8 188.7,201.2 188.8,197.2 189,191.2" fill="none" stroke="#a82020" stroke-width="0.75"/>
<polyline points="188.2,181.6 188.3,194.6 188.5,197.4 188.6,202.8 188.7,201.2 188.8,197.2 189,191.2 189.1,188.7 189.2,188.8 189.4,190.4 189.5,187.8 189.6,192.4 189.7,194.4 189.9,197.6 190,197.8 190.1,198.7 190.2,198.5 190.4,201.6 190.5,198.2" fill="none" stroke="#a82020" stroke-width="0.75"/>
<polyline points="207.9,199.8 208,201.9 208.1,203.4 208.3,200.5 208.4,202.3 208.5,199.4 208.6,196.6 208.8,195.5 208.9,191.7 209,190.5 209.1,192.2 209.3,193.5 209.4,197.5 209.5,202.5 209.7,200.8 209.8,201.5 209.9,202.5 210,205.8 210.2,199.6" fill="none" stroke="#a82020" stroke-width="0.75"/>
<polyline points="210.4,199.9 210.5,200.6 210.7,204 210.8,200.7 210.9,202.4 211.1,194.2 211.2,197.7 211.3,191.9 211.4,193.8 211.6,191.6 211.7,191 211.8,190.9 212,194.5 212.1,197.8 212.2,204.1 212.3,198.5 212.5,203.3 212.6,197.9 212.7,197.4" fill="none" stroke="#a82020" stroke-width="0.75"/>
<polyline points="226.3,201.6 226.4,203.1 226.5,205.9 226.6,200.9 226.8,198.5 226.9,200.9 227,192.4 227.1,188.4 227.3,187.8 227.4,188 227.5,196 227.7,196.1 227.8,197.2 227.9,203.7 228,201.8 228.2,198.9 228.3,201.6" fill="none" stroke="#a82020" stroke-width="0.75"/>
<polyline points="235.2,204.3 235.3,201.3 235.4,194.4 235.6,201.2 235.7,201.3 235.8,199.5 236,194.5 236.1,190.9 236.2,190.2 236.3,183.1 236.5,185.5 236.6,186.9 236.7,197 236.9,200.1 237,198.5 237.1,204.8 237.2,201 237.4,201.3 237.5,201.8 237.6,201.4" fill="none" stroke="#a82020" stroke-width="0.75"/>
<polyline points="250.6,205.9 250.8,205.9 250.9,202 251,201.9 251.2,198.2 251.3,196 251.4,192.5 251.5,181.8 251.7,178.7 251.8,174 251.9,184.4 252,190.4 252.2,199.7 252.3,202.2 252.4,205.1 252.6,196.1 252.7,200.8 252.8,198.8" fill="none" stroke="#a82020" stroke-width="0.75"/>
<path d="M33.202400000000004,149.01999999999998 V187.14" stroke="#8a1010" stroke-width="1" fill="none"/>
<path d="M32.5,206.2 V1.0 H410.2 V206.2 Z" fill="none" stroke="#111" stroke-width="1.3"/>
<path d="M28.5,206.2 H32.5" stroke="#333" stroke-width="1"/>
<text x="24.4" y="210.8" text-anchor="end" font-family="Liberation Serif, serif" font-size="14.2" fill="#111" textLength="6.5" lengthAdjust="spacingAndGlyphs">0</text>
<path d="M28.5,110.9 H32.5" stroke="#333" stroke-width="1"/>
<text x="24.4" y="115.5" text-anchor="end" font-family="Liberation Serif, serif" font-size="14.2" fill="#111" textLength="19.6" lengthAdjust="spacingAndGlyphs">100</text>
<path d="M28.5,15.6 H32.5" stroke="#333" stroke-width="1"/>
<text x="24.4" y="20.2" text-anchor="end" font-family="Liberation Serif, serif" font-size="14.2" fill="#111" textLength="19.6" lengthAdjust="spacingAndGlyphs">200</text>
<path d="M35.8,206.2 v2.2 M39.4,206.2 v2.2 M43.1,206.2 v2.2 M46.7,206.2 v4.2 M50.3,206.2 v2.2 M54,206.2 v2.2 M57.6,206.2 v2.2 M61.3,206.2 v2.2 M64.9,206.2 v2.2 M68.6,206.2 v2.2 M72.2,206.2 v2.2 M75.9,206.2 v2.2 M79.5,206.2 v2.2 M83.2,206.2 v4.2 M86.8,206.2 v2.2 M90.5,206.2 v2.2 M94.1,206.2 v2.2 M97.8,206.2 v2.2 M101.4,206.2 v2.2 M105.1,206.2 v2.2 M108.7,206.2 v2.2 M112.4,206.2 v2.2 M116,206.2 v2.2 M119.7,206.2 v4.2 M123.3,206.2 v2.2 M127,206.2 v2.2 M130.6,206.2 v2.2 M134.3,206.2 v2.2 M137.9,206.2 v2.2 M141.5,206.2 v2.2 M145.2,206.2 v2.2 M148.8,206.2 v2.2 M152.5,206.2 v2.2 M156.1,206.2 v4.2 M159.8,206.2 v2.2 M163.4,206.2 v2.2 M167.1,206.2 v2.2 M170.7,206.2 v2.2 M174.4,206.2 v2.2 M178,206.2 v2.2 M181.7,206.2 v2.2 M185.3,206.2 v2.2 M189,206.2 v2.2 M192.6,206.2 v4.2 M196.3,206.2 v2.2 M199.9,206.2 v2.2 M203.6,206.2 v2.2 M207.2,206.2 v2.2 M210.9,206.2 v2.2 M214.5,206.2 v2.2 M218.2,206.2 v2.2 M221.8,206.2 v2.2 M225.5,206.2 v2.2 M229.1,206.2 v4.2 M232.7,206.2 v2.2 M236.4,206.2 v2.2 M240,206.2 v2.2 M243.7,206.2 v2.2 M247.3,206.2 v2.2 M251,206.2 v2.2 M254.6,206.2 v2.2 M258.3,206.2 v2.2 M261.9,206.2 v2.2 M265.6,206.2 v4.2 M269.2,206.2 v2.2 M272.9,206.2 v2.2 M276.5,206.2 v2.2 M280.2,206.2 v2.2 M283.8,206.2 v2.2 M287.5,206.2 v2.2 M291.1,206.2 v2.2 M294.8,206.2 v2.2 M298.4,206.2 v2.2 M302.1,206.2 v4.2 M305.7,206.2 v2.2 M309.4,206.2 v2.2 M313,206.2 v2.2 M316.7,206.2 v2.2 M320.3,206.2 v2.2 M323.9,206.2 v2.2 M327.6,206.2 v2.2 M331.2,206.2 v2.2 M334.9,206.2 v2.2 M338.5,206.2 v4.2 M342.2,206.2 v2.2 M345.8,206.2 v2.2 M349.5,206.2 v2.2 M353.1,206.2 v2.2 M356.8,206.2 v2.2 M360.4,206.2 v2.2 M364.1,206.2 v2.2 M367.7,206.2 v2.2 M371.4,206.2 v2.2 M375,206.2 v4.2 M378.7,206.2 v2.2 M382.3,206.2 v2.2 M386,206.2 v2.2 M389.6,206.2 v2.2 M393.3,206.2 v2.2 M396.9,206.2 v2.2 M400.6,206.2 v2.2 M404.2,206.2 v2.2 M407.9,206.2 v2.2" stroke="#222" stroke-width="0.8" fill="none"/>
<text x="46.7" y="224.6" text-anchor="middle" font-family="Liberation Serif, serif" font-size="14" fill="#111" textLength="12.8" lengthAdjust="spacingAndGlyphs">10</text>
<text x="83.2" y="224.6" text-anchor="middle" font-family="Liberation Serif, serif" font-size="14" fill="#111" textLength="12.8" lengthAdjust="spacingAndGlyphs">20</text>
<text x="119.7" y="224.6" text-anchor="middle" font-family="Liberation Serif, serif" font-size="14" fill="#111" textLength="12.8" lengthAdjust="spacingAndGlyphs">30</text>
<text x="156.1" y="224.6" text-anchor="middle" font-family="Liberation Serif, serif" font-size="14" fill="#111" textLength="12.8" lengthAdjust="spacingAndGlyphs">40</text>
<text x="192.6" y="224.6" text-anchor="middle" font-family="Liberation Serif, serif" font-size="14" fill="#111" textLength="12.8" lengthAdjust="spacingAndGlyphs">50</text>
<text x="229.1" y="224.6" text-anchor="middle" font-family="Liberation Serif, serif" font-size="14" fill="#111" textLength="12.8" lengthAdjust="spacingAndGlyphs">60</text>
<text x="265.6" y="224.6" text-anchor="middle" font-family="Liberation Serif, serif" font-size="14" fill="#111" textLength="12.8" lengthAdjust="spacingAndGlyphs">70</text>
<text x="302.1" y="224.6" text-anchor="middle" font-family="Liberation Serif, serif" font-size="14" fill="#111" textLength="12.8" lengthAdjust="spacingAndGlyphs">80</text>
<text x="338.5" y="224.6" text-anchor="middle" font-family="Liberation Serif, serif" font-size="14" fill="#111" textLength="12.8" lengthAdjust="spacingAndGlyphs">90</text>
<text x="375" y="224.6" text-anchor="middle" font-family="Liberation Serif, serif" font-size="14" fill="#111" textLength="19.2" lengthAdjust="spacingAndGlyphs">100</text>
<text x="211.2" y="238.3" text-anchor="middle" font-family="Liberation Serif, serif" font-size="14.8" fill="#111" textLength="106.5" lengthAdjust="spacingAndGlyphs">Position (2 Theta)</text>
<text transform="translate(10.4,67) rotate(-90)" text-anchor="middle" font-family="Liberation Serif, serif" font-size="14.5" fill="#111" textLength="42.4" lengthAdjust="spacingAndGlyphs">Counts</text>
<text x="405" y="229.4" text-anchor="middle" font-family="Liberation Serif, serif" font-weight="bold" font-size="13" fill="#111">A</text>
</g>
<g id="panel_b">
<rect x="415" y="0" width="243" height="235.3" fill="#fdd48c"/>
<rect x="440.8" y="18.2" width="191.99999999999994" height="177.5" fill="#ffffff"/>
<path d="M460,18.2 V195.7 M479.2,18.2 V195.7 M498.4,18.2 V195.7 M517.6,18.2 V195.7 M536.8,18.2 V195.7 M556,18.2 V195.7 M575.2,18.2 V195.7 M594.4,18.2 V195.7 M613.6,18.2 V195.7" stroke="#b8b8b8" stroke-width="0.9" stroke-dasharray="1.6 2.2" fill="none"/>
<rect x="450.4" y="195.17" width="9.60" height="0.53" fill="#3d3d3d" stroke="#111" stroke-width="0.7"/>
<rect x="460" y="194.81" width="9.60" height="0.89" fill="#3d3d3d" stroke="#111" stroke-width="0.7"/>
<rect x="469.6" y="194.28" width="9.60" height="1.42" fill="#3d3d3d" stroke="#111" stroke-width="0.7"/>
<rect x="479.2" y="193.57" width="9.60" height="2.13" fill="#3d3d3d" stroke="#111" stroke-width="0.7"/>
<rect x="488.8" y="192.50" width="9.60" height="3.20" fill="#3d3d3d" stroke="#111" stroke-width="0.7"/>
<rect x="498.4" y="190.73" width="9.60" height="4.97" fill="#3d3d3d" stroke="#111" stroke-width="0.7"/>
<rect x="508" y="185.76" width="9.60" height="9.94" fill="#3d3d3d" stroke="#111" stroke-width="0.7"/>
<rect x="517.6" y="171.38" width="9.60" height="24.32" fill="#3d3d3d" stroke="#111" stroke-width="0.7"/>
<rect x="527.2" y="141.56" width="9.60" height="54.14" fill="#3d3d3d" stroke="#111" stroke-width="0.7"/>
<rect x="536.8" y="99.85" width="9.60" height="95.85" fill="#3d3d3d" stroke="#111" stroke-width="0.7"/>
<rect x="546.4" y="53.70" width="9.60" height="142.00" fill="#3d3d3d" stroke="#111" stroke-width="0.7"/>
<rect x="556" y="44.82" width="9.60" height="150.88" fill="#3d3d3d" stroke="#111" stroke-width="0.7"/>
<rect x="565.6" y="18.20" width="9.60" height="177.50" fill="#3d3d3d" stroke="#111" stroke-width="0.7"/>
<rect x="575.2" y="44.82" width="9.60" height="150.88" fill="#3d3d3d" stroke="#111" stroke-width="0.7"/>
<rect x="584.8" y="124.70" width="9.60" height="71.00" fill="#3d3d3d" stroke="#111" stroke-width="0.7"/>
<rect x="594.4" y="155.76" width="9.60" height="39.94" fill="#3d3d3d" stroke="#111" stroke-width="0.7"/>
<rect x="604" y="169.96" width="9.60" height="25.74" fill="#3d3d3d" stroke="#111" stroke-width="0.7"/>
<rect x="613.6" y="189.49" width="9.60" height="6.21" fill="#3d3d3d" stroke="#111" stroke-width="0.7"/>
<rect x="623.2" y="195.17" width="9.60" height="0.53" fill="#3d3d3d" stroke="#111" stroke-width="0.7"/>
<path d="M440.8,195.7 C442.4,195.7 447.2,195.7 450.4,195.7 C453.6,195.7 456.8,195.6 460.0,195.6 C463.2,195.6 466.4,195.5 469.6,195.4 C472.8,195.4 476.0,195.3 479.2,195.2 C482.4,195.1 485.6,194.9 488.8,194.8 C492.0,194.6 495.2,194.4 498.4,194.2 C501.6,193.9 504.8,193.7 508.0,193.3 C511.2,192.8 514.4,192.5 517.6,191.4 C520.8,190.4 524.0,189.4 527.2,187.0 C530.4,184.5 533.6,181.6 536.8,177.0 C540.0,172.4 543.2,166.6 546.4,159.3 C549.6,152.0 552.8,142.1 556.0,133.1 C559.2,124.1 562.4,115.3 565.6,105.2 C568.8,95.1 572.0,82.6 575.2,72.5 C578.4,62.4 581.6,51.5 584.8,44.7 C588.0,37.8 591.2,35.0 594.4,31.6 C597.6,28.2 600.8,26.2 604.0,24.2 C607.2,22.2 610.4,20.4 613.6,19.4 C616.8,18.5 620.0,18.5 623.2,18.3 C626.4,18.1 631.2,18.2 632.8,18.2" fill="none" stroke="#96283a" stroke-width="1.35"/>
<path d="M440.8,18.2 H632.8 V195.7 H440.8 Z" fill="none" stroke="#43321f" stroke-width="1.4"/>
<path d="M440.8,195.70 h-4.0 M440.8,192.15 h-1.8 M440.8,188.60 h-1.8 M440.8,185.05 h-1.8 M440.8,181.50 h-1.8 M440.8,177.95 h-1.8 M440.8,174.40 h-1.8 M440.8,170.85 h-1.8 M440.8,167.30 h-1.8 M440.8,163.75 h-1.8 M440.8,160.20 h-4.0 M440.8,156.65 h-1.8 M440.8,153.10 h-1.8 M440.8,149.55 h-1.8 M440.8,146.00 h-1.8 M440.8,142.45 h-1.8 M440.8,138.90 h-1.8 M440.8,135.35 h-1.8 M440.8,131.80 h-1.8 M440.8,128.25 h-1.8 M440.8,124.70 h-4.0 M440.8,121.15 h-1.8 M440.8,117.60 h-1.8 M440.8,114.05 h-1.8 M440.8,110.50 h-1.8 M440.8,106.95 h-1.8 M440.8,103.40 h-1.8 M440.8,99.85 h-1.8 M440.8,96.30 h-1.8 M440.8,92.75 h-1.8 M440.8,89.20 h-4.0 M440.8,85.65 h-1.8 M440.8,82.10 h-1.8 M440.8,78.55 h-1.8 M440.8,75.00 h-1.8 M440.8,71.45 h-1.8 M440.8,67.90 h-1.8 M440.8,64.35 h-1.8 M440.8,60.80 h-1.8 M440.8,57.25 h-1.8 M440.8,53.70 h-4.0 M440.8,50.15 h-1.8 M440.8,46.60 h-1.8 M440.8,43.05 h-1.8 M440.8,39.50 h-1.8 M440.8,35.95 h-1.8 M440.8,32.40 h-1.8 M440.8,28.85 h-1.8 M440.8,25.30 h-1.8 M440.8,21.75 h-1.8 M440.8,18.20 h-4.0" stroke="#3a2a1a" stroke-width="1.0" fill="none"/>
<path d="M632.8,195.70 h5.0 M632.8,186.14 h3.0 M632.8,176.58 h5.0 M632.8,167.02 h3.0 M632.8,157.46 h5.0 M632.8,147.90 h3.0 M632.8,138.34 h5.0 M632.8,128.78 h3.0 M632.8,119.22 h5.0 M632.8,109.66 h3.0 M632.8,100.10 h5.0 M632.8,90.54 h3.0 M632.8,80.98 h5.0 M632.8,71.42 h3.0 M632.8,61.86 h5.0 M632.8,52.30 h3.0 M632.8,42.74 h5.0 M632.8,33.18 h3.0 M632.8,23.62 h5.0" stroke="#3a2a1a" stroke-width="0.9" fill="none"/>
<path d="M440.80,195.7 v4.0 M450.40,195.7 v2.2 M460.00,195.7 v4.0 M469.60,195.7 v2.2 M479.20,195.7 v4.0 M488.80,195.7 v2.2 M498.40,195.7 v4.0 M508.00,195.7 v2.2 M517.60,195.7 v4.0 M527.20,195.7 v2.2 M536.80,195.7 v4.0 M546.40,195.7 v2.2 M556.00,195.7 v4.0 M565.60,195.7 v2.2 M575.20,195.7 v4.0 M584.80,195.7 v2.2 M594.40,195.7 v4.0 M604.00,195.7 v2.2 M613.60,195.7 v4.0 M623.20,195.7 v2.2 M632.80,195.7 v4.0" stroke="#3a2a1a" stroke-width="0.9" fill="none"/>
<text transform="translate(443.7,202.3) rotate(-90)" text-anchor="end" font-family="Liberation Sans, sans-serif" font-size="10.4" fill="#4a3818" stroke="#4a3818" stroke-width="0.2" textLength="3.8" lengthAdjust="spacingAndGlyphs">0</text>
<text transform="translate(462.9,202.3) rotate(-90)" text-anchor="end" font-family="Liberation Sans, sans-serif" font-size="10.4" fill="#4a3818" stroke="#4a3818" stroke-width="0.2" textLength="13.2" lengthAdjust="spacingAndGlyphs">2.88</text>
<text transform="translate(482.1,202.3) rotate(-90)" text-anchor="end" font-family="Liberation Sans, sans-serif" font-size="10.4" fill="#4a3818" stroke="#4a3818" stroke-width="0.2" textLength="13.2" lengthAdjust="spacingAndGlyphs">5.75</text>
<text transform="translate(501.3,202.3) rotate(-90)" text-anchor="end" font-family="Liberation Sans, sans-serif" font-size="10.4" fill="#4a3818" stroke="#4a3818" stroke-width="0.2" textLength="13.2" lengthAdjust="spacingAndGlyphs">8.63</text>
<text transform="translate(520.5,202.3) rotate(-90)" text-anchor="end" font-family="Liberation Sans, sans-serif" font-size="10.4" fill="#4a3818" stroke="#4a3818" stroke-width="0.2" textLength="13.2" lengthAdjust="spacingAndGlyphs">11.5</text>
<text transform="translate(539.7,202.3) rotate(-90)" text-anchor="end" font-family="Liberation Sans, sans-serif" font-size="10.4" fill="#4a3818" stroke="#4a3818" stroke-width="0.2" textLength="13.2" lengthAdjust="spacingAndGlyphs">14.4</text>
<text transform="translate(558.9,202.3) rotate(-90)" text-anchor="end" font-family="Liberation Sans, sans-serif" font-size="10.4" fill="#4a3818" stroke="#4a3818" stroke-width="0.2" textLength="13.2" lengthAdjust="spacingAndGlyphs">17.3</text>
<text transform="translate(578.1,202.3) rotate(-90)" text-anchor="end" font-family="Liberation Sans, sans-serif" font-size="10.4" fill="#4a3818" stroke="#4a3818" stroke-width="0.2" textLength="13.2" lengthAdjust="spacingAndGlyphs">20.1</text>
<text transform="translate(597.3,202.3) rotate(-90)" text-anchor="end" font-family="Liberation Sans, sans-serif" font-size="10.4" fill="#4a3818" stroke="#4a3818" stroke-width="0.2" textLength="7.5" lengthAdjust="spacingAndGlyphs">23</text>
<text transform="translate(616.5,202.3) rotate(-90)" text-anchor="end" font-family="Liberation Sans, sans-serif" font-size="10.4" fill="#4a3818" stroke="#4a3818" stroke-width="0.2" textLength="13.2" lengthAdjust="spacingAndGlyphs">25.9</text>
<text transform="translate(635.7,202.3) rotate(-90)" text-anchor="end" font-family="Liberation Sans, sans-serif" font-size="10.4" fill="#4a3818" stroke="#4a3818" stroke-width="0.2" textLength="13.2" lengthAdjust="spacingAndGlyphs">28.8</text>
<text transform="translate(432.1,196.1) rotate(-90)" text-anchor="middle" font-family="Liberation Sans, sans-serif" font-size="10.4" fill="#4a3818" stroke="#4a3818" stroke-width="0.2" textLength="3.8" lengthAdjust="spacingAndGlyphs">0</text>
<text transform="translate(432.1,160.6) rotate(-90)" text-anchor="middle" font-family="Liberation Sans, sans-serif" font-size="10.4" fill="#4a3818" stroke="#4a3818" stroke-width="0.2" textLength="7.5" lengthAdjust="spacingAndGlyphs">20</text>
<text transform="translate(432.1,125.1) rotate(-90)" text-anchor="middle" font-family="Liberation Sans, sans-serif" font-size="10.4" fill="#4a3818" stroke="#4a3818" stroke-width="0.2" textLength="7.5" lengthAdjust="spacingAndGlyphs">40</text>
<text transform="translate(432.1,89.6) rotate(-90)" text-anchor="middle" font-family="Liberation Sans, sans-serif" font-size="10.4" fill="#4a3818" stroke="#4a3818" stroke-width="0.2" textLength="7.5" lengthAdjust="spacingAndGlyphs">60</text>
<text transform="translate(432.1,54.1) rotate(-90)" text-anchor="middle" font-family="Liberation Sans, sans-serif" font-size="10.4" fill="#4a3818" stroke="#4a3818" stroke-width="0.2" textLength="7.5" lengthAdjust="spacingAndGlyphs">80</text>
<text transform="translate(432.1,23.6) rotate(-90)" text-anchor="start" font-family="Liberation Sans, sans-serif" font-size="10.4" fill="#4a3818" stroke="#4a3818" stroke-width="0.2" textLength="19.4" lengthAdjust="spacingAndGlyphs">100 %</text>
<text transform="translate(648.3,196.1) rotate(-90)" text-anchor="middle" font-family="Liberation Sans, sans-serif" font-size="10.4" fill="#4a3818" stroke="#4a3818" stroke-width="0.2" textLength="3.8" lengthAdjust="spacingAndGlyphs">0</text>
<text transform="translate(648.3,148.3) rotate(-90)" text-anchor="middle" font-family="Liberation Sans, sans-serif" font-size="10.4" fill="#4a3818" stroke="#4a3818" stroke-width="0.2" textLength="3.8" lengthAdjust="spacingAndGlyphs">5</text>
<text transform="translate(648.3,100.5) rotate(-90)" text-anchor="middle" font-family="Liberation Sans, sans-serif" font-size="10.4" fill="#4a3818" stroke="#4a3818" stroke-width="0.2" textLength="7.5" lengthAdjust="spacingAndGlyphs">10</text>
<text transform="translate(648.3,56.0) rotate(-90)" text-anchor="start" font-family="Liberation Sans, sans-serif" font-size="10.4" fill="#4a3818" stroke="#4a3818" stroke-width="0.2" textLength="16.3" lengthAdjust="spacingAndGlyphs">15 %</text>
<text x="645.7" y="234" text-anchor="middle" font-family="Liberation Serif, serif" font-weight="bold" font-size="13" fill="#111">B</text>
</g>
<g id="panel_c">
<rect x="35" y="243.3" width="320.2" height="261.3" fill="#b2fffb"/>
<defs><linearGradient id="cg0" x1="0" y1="0" x2="1" y2="0"><stop offset="0" stop-color="#e69ce6"/><stop offset="0.36" stop-color="#d262d2"/><stop offset="0.6" stop-color="#a82ea6"/><stop offset="1" stop-color="#6c146c"/></linearGradient>
<linearGradient id="cg1" x1="0" y1="0" x2="1" y2="0"><stop offset="0" stop-color="#d678d6"/><stop offset="0.36" stop-color="#ba40ba"/><stop offset="0.6" stop-color="#8e228b"/><stop offset="1" stop-color="#540e56"/></linearGradient>
<linearGradient id="cg2" x1="0" y1="0" x2="1" y2="0"><stop offset="0" stop-color="#b654b6"/><stop offset="0.36" stop-color="#982c98"/><stop offset="0.6" stop-color="#6a146c"/><stop offset="1" stop-color="#3a083a"/></linearGradient>
<linearGradient id="cshade" x1="0" y1="0" x2="0" y2="1">
<stop offset="0" stop-color="#2a0634" stop-opacity="0"/><stop offset="0.45" stop-color="#2a0634" stop-opacity="0.05"/><stop offset="0.8" stop-color="#2a0634" stop-opacity="0.55"/><stop offset="1" stop-color="#1c0424" stop-opacity="0.85"/></linearGradient>
<linearGradient id="ctip" x1="0" y1="0" x2="0" y2="1">
<stop offset="0" stop-color="#fbe6fa" stop-opacity="1"/><stop offset="0.5" stop-color="#eeb4ee" stop-opacity="0.6"/><stop offset="1" stop-color="#d884e0" stop-opacity="0"/></linearGradient>
<path id="pk" d="M-6.2,3.5 C-4.8,2.6 -3.9,0 -3.1,-3.4 C-2.3,-6.9 -1.4,-9.6 0,-9.6 C1.4,-9.6 2.3,-6.9 3.1,-3.4 C3.9,0 4.8,2.6 6.2,3.5 Z"/>
<path id="tp" d="M-2.7,-3.2 C-2.1,-6.4 -1.2,-9.4 0,-9.4 C0.7,-9.4 1.1,-8.3 1.3,-7 C0.3,-6.6 -1.2,-4.6 -2.7,-3.2 Z"/>
<g id="pa"><use href="#pk" fill="url(#cg0)"/><use href="#pk" fill="url(#cshade)"/></g>
<g id="pb"><use href="#pk" fill="url(#cg1)"/><use href="#pk" fill="url(#cshade)"/></g>
<g id="pc"><use href="#pk" fill="url(#cg2)"/><use href="#pk" fill="url(#cshade)"/></g>
<filter id="csoft" x="-5%" y="-10%" width="110%" height="120%"><feGaussianBlur stdDeviation="0.55"/></filter></defs>
<path d="M83.3,342.3 L194.8,263.3 L194.8,286.0 L89.2,359.6 Z" fill="#4fd6d5"/>
<path d="M306.7,342.3 L194.8,263.3 L194.8,286.0 L301.0,359.6 Z" fill="#56d9d8"/>
<path d="M83.3,342.3 L194.8,263.3 L306.7,342.3" fill="none" stroke="#8fefec" stroke-width="1.6" stroke-linejoin="miter"/>
<path d="M83.3,342.3 L89.2,359.6 M306.7,342.3 L301.0,359.6 M194.8,263.3 L194.8,282.0" fill="none" stroke="#2f9aa0" stroke-width="0.8"/>
<path d="M85.2,348.0 L194.8,269.5 L304.8,348.0 M87.2,353.7 L194.8,275.6 L302.9,353.7 M101.9,329.1 L106.8,346.7 M288.1,329.1 L283.3,346.7 M120.5,316.0 L124.4,333.7 M269.4,316.0 L265.6,333.7 M139.1,302.8 L142.0,320.8 M250.8,302.8 L247.9,320.8 M157.6,289.6 L159.6,307.9 M232.1,289.6 L230.2,307.9 M176.2,276.5 L177.2,294.9 M213.4,276.5 L212.5,294.9" fill="none" stroke="#1f7f88" stroke-width="0.7" stroke-dasharray="1 2.2" opacity="0.8"/>
<path d="M89.2,359.6 L194.8,282.0 L301.0,359.6 L194.0,467.0 Z" fill="#46105a"/>
<path d="M88.2,361.1 L99.2,350.6 L105.2,367.6 Z" fill="#1c0a24"/>
<clipPath id="cclip"><path d="M74.5,345.8 L194.0,468.2 L316.0,345.8 V240 H74.5 Z"/></clipPath>
<g clip-path="url(#cclip)"><g filter="url(#csoft)"><use href="#pa" transform="translate(195.5,283.0) scale(0.81,0.67)"/>
<use href="#pa" transform="translate(198.7,287.4) scale(0.79,0.74)"/>
<use href="#pa" transform="translate(188.6,290.1) scale(0.71,0.93)"/>
<use href="#tp" fill="url(#ctip)" opacity="0.68" transform="translate(188.6,290.1) scale(0.71,0.93)"/>
<use href="#pb" transform="translate(193.8,291.1) scale(0.81,0.66)"/>
<use href="#pa" transform="translate(205.8,291.6) scale(0.74,0.82)"/>
<use href="#pa" transform="translate(184.5,292.8) scale(0.80,0.63)"/>
<use href="#pb" transform="translate(177.6,295.1) scale(0.75,0.74)"/>
<use href="#tp" fill="url(#ctip)" opacity="0.42" transform="translate(177.6,295.1) scale(0.75,0.74)"/>
<use href="#pa" transform="translate(209.5,296.9) scale(0.75,0.72)"/>
<use href="#pa" transform="translate(199.7,299.2) scale(0.86,0.77)"/>
<use href="#tp" fill="url(#ctip)" opacity="0.44" transform="translate(199.7,299.2) scale(0.86,0.77)"/>
<use href="#pa" transform="translate(189.3,299.4) scale(0.84,0.70)"/>
<use href="#pa" transform="translate(185.8,302.1) scale(0.91,0.64)"/>
<use href="#pa" transform="translate(213.1,302.1) scale(0.82,0.93)"/>
<use href="#tp" fill="url(#ctip)" opacity="0.61" transform="translate(213.1,302.1) scale(0.82,0.93)"/>
<use href="#pa" transform="translate(219.7,302.1) scale(0.76,0.76)"/>
<use href="#tp" fill="url(#ctip)" opacity="0.42" transform="translate(219.7,302.1) scale(0.76,0.76)"/>
<use href="#pa" transform="translate(211.4,302.5) scale(0.73,0.85)"/>
<use href="#pa" transform="translate(194.2,303.0) scale(0.82,0.96)"/>
<use href="#tp" fill="url(#ctip)" opacity="0.65" transform="translate(194.2,303.0) scale(0.82,0.96)"/>
<use href="#pb" transform="translate(175.1,303.4) scale(0.91,1.28)"/>
<use href="#pb" transform="translate(205.1,304.0) scale(0.78,0.94)"/>
<use href="#tp" fill="url(#ctip)" opacity="0.62" transform="translate(205.1,304.0) scale(0.78,0.94)"/>
<use href="#pa" transform="translate(172.5,303.9) scale(0.71,0.80)"/>
<use href="#tp" fill="url(#ctip)" opacity="0.46" transform="translate(172.5,303.9) scale(0.71,0.80)"/>
<use href="#pa" transform="translate(203.1,304.6) scale(0.72,0.90)"/>
<use href="#pa" transform="translate(180.9,304.6) scale(0.78,1.06)"/>
<use href="#tp" fill="url(#ctip)" opacity="0.74" transform="translate(180.9,304.6) scale(0.78,1.06)"/>
<use href="#pa" transform="translate(189.6,306.0) scale(0.71,0.66)"/>
<use href="#pa" transform="translate(173.5,307.0) scale(0.87,1.07)"/>
<use href="#tp" fill="url(#ctip)" opacity="0.75" transform="translate(173.5,307.0) scale(0.87,1.07)"/>
<use href="#pa" transform="translate(195.7,308.4) scale(0.72,0.72)"/>
<use href="#pa" transform="translate(206.3,308.3) scale(0.75,0.83)"/>
<use href="#pa" transform="translate(182.2,308.4) scale(0.73,0.72)"/>
<use href="#pa" transform="translate(217.6,308.4) scale(0.73,0.66)"/>
<use href="#pb" transform="translate(226.4,309.4) scale(0.71,0.76)"/>
<use href="#pa" transform="translate(164.8,310.8) scale(0.88,1.01)"/>
<use href="#tp" fill="url(#ctip)" opacity="0.66" transform="translate(164.8,310.8) scale(0.88,1.01)"/>
<use href="#pa" transform="translate(227.4,310.8) scale(0.93,1.01)"/>
<use href="#pa" transform="translate(216.8,311.5) scale(0.79,1.05)"/>
<use href="#tp" fill="url(#ctip)" opacity="0.70" transform="translate(216.8,311.5) scale(0.79,1.05)"/>
<use href="#pa" transform="translate(179.3,311.7) scale(0.76,0.78)"/>
<use href="#tp" fill="url(#ctip)" opacity="0.40" transform="translate(179.3,311.7) scale(0.76,0.78)"/>
<use href="#pa" transform="translate(172.7,311.6) scale(0.86,0.68)"/>
<use href="#pa" transform="translate(157.5,311.0) scale(0.87,0.79)"/>
<use href="#tp" fill="url(#ctip)" opacity="0.42" transform="translate(157.5,311.0) scale(0.87,0.79)"/>
<use href="#pa" transform="translate(192.5,313.4) scale(0.74,0.56)"/>
<use href="#pb" transform="translate(154.1,312.4) scale(0.82,1.03)"/>
<use href="#pa" transform="translate(198.7,314.9) scale(0.76,0.85)"/>
<use href="#pa" transform="translate(225.3,314.3) scale(0.86,1.09)"/>
<use href="#tp" fill="url(#ctip)" opacity="0.73" transform="translate(225.3,314.3) scale(0.86,1.09)"/>
<use href="#pa" transform="translate(209.4,314.9) scale(0.78,0.96)"/>
<use href="#pa" transform="translate(195.4,315.2) scale(0.76,1.08)"/>
<use href="#tp" fill="url(#ctip)" opacity="0.72" transform="translate(195.4,315.2) scale(0.76,1.08)"/>
<use href="#pb" transform="translate(206.8,315.4) scale(0.72,0.83)"/>
<use href="#tp" fill="url(#ctip)" opacity="0.45" transform="translate(206.8,315.4) scale(0.72,0.83)"/>
<use href="#pa" transform="translate(232.8,314.7) scale(0.87,0.76)"/>
<use href="#pa" transform="translate(161.2,315.1) scale(0.72,0.98)"/>
<use href="#tp" fill="url(#ctip)" opacity="0.61" transform="translate(161.2,315.1) scale(0.72,0.98)"/>
<use href="#pa" transform="translate(173.6,315.9) scale(0.74,0.72)"/>
<use href="#pa" transform="translate(187.9,317.2) scale(0.88,1.43)"/>
<use href="#tp" fill="url(#ctip)" opacity="1.00" transform="translate(187.9,317.2) scale(0.88,1.43)"/>
<use href="#pa" transform="translate(213.8,317.4) scale(0.83,0.75)"/>
<use href="#pa" transform="translate(150.3,317.4) scale(0.87,1.08)"/>
<use href="#tp" fill="url(#ctip)" opacity="0.70" transform="translate(150.3,317.4) scale(0.87,1.08)"/>
<use href="#pb" transform="translate(242.2,318.1) scale(0.81,0.62)"/>
<use href="#pa" transform="translate(222.6,319.4) scale(0.80,0.89)"/>
<use href="#tp" fill="url(#ctip)" opacity="0.49" transform="translate(222.6,319.4) scale(0.80,0.89)"/>
<use href="#pa" transform="translate(210.8,319.8) scale(0.98,1.06)"/>
<use href="#tp" fill="url(#ctip)" opacity="0.67" transform="translate(210.8,319.8) scale(0.98,1.06)"/>
<use href="#pb" transform="translate(186.3,320.2) scale(0.86,0.81)"/>
<use href="#tp" fill="url(#ctip)" opacity="0.40" transform="translate(186.3,320.2) scale(0.86,0.81)"/>
<use href="#pa" transform="translate(157.8,319.7) scale(0.83,1.10)"/>
<use href="#tp" fill="url(#ctip)" opacity="0.71" transform="translate(157.8,319.7) scale(0.83,1.10)"/>
<use href="#pa" transform="translate(201.0,320.6) scale(0.81,1.06)"/>
<use href="#tp" fill="url(#ctip)" opacity="0.67" transform="translate(201.0,320.6) scale(0.81,1.06)"/>
<use href="#pa" transform="translate(170.0,321.1) scale(0.85,0.69)"/>
<use href="#pa" transform="translate(232.7,320.6) scale(0.92,0.92)"/>
<use href="#tp" fill="url(#ctip)" opacity="0.52" transform="translate(232.7,320.6) scale(0.92,0.92)"/>
<use href="#pa" transform="translate(177.3,321.8) scale(0.82,0.83)"/>
<use href="#tp" fill="url(#ctip)" opacity="0.42" transform="translate(177.3,321.8) scale(0.82,0.83)"/>
<use href="#pa" transform="translate(165.1,322.4) scale(0.95,0.79)"/>
<use href="#pa" transform="translate(217.1,323.0) scale(0.83,0.69)"/>
<use href="#pa" transform="translate(247.1,322.2) scale(1.00,0.92)"/>
<use href="#tp" fill="url(#ctip)" opacity="0.51" transform="translate(247.1,322.2) scale(1.00,0.92)"/>
<use href="#pb" transform="translate(208.0,324.6) scale(0.89,0.64)"/>
<use href="#pa" transform="translate(180.8,324.7) scale(0.88,0.80)"/>
<use href="#pb" transform="translate(198.0,325.2) scale(0.89,0.88)"/>
<use href="#tp" fill="url(#ctip)" opacity="0.46" transform="translate(198.0,325.2) scale(0.89,0.88)"/>
<use href="#pa" transform="translate(236.6,324.3) scale(1.01,1.09)"/>
<use href="#tp" fill="url(#ctip)" opacity="0.67" transform="translate(236.6,324.3) scale(1.01,1.09)"/>
<use href="#pb" transform="translate(227.6,325.4) scale(0.84,0.78)"/>
<use href="#pa" transform="translate(173.2,326.3) scale(0.90,1.09)"/>
<use href="#pa" transform="translate(144.2,325.1) scale(0.91,0.99)"/>
<use href="#pa" transform="translate(153.7,326.0) scale(0.80,1.09)"/>
<use href="#pa" transform="translate(139.6,325.5) scale(0.90,1.09)"/>
<use href="#pa" transform="translate(188.7,327.7) scale(0.93,1.04)"/>
<use href="#tp" fill="url(#ctip)" opacity="0.61" transform="translate(188.7,327.7) scale(0.93,1.04)"/>
<use href="#pb" transform="translate(207.3,327.7) scale(0.78,0.60)"/>
<use href="#pa" transform="translate(149.7,326.5) scale(1.00,1.08)"/>
<use href="#tp" fill="url(#ctip)" opacity="0.65" transform="translate(149.7,326.5) scale(1.00,1.08)"/>
<use href="#pb" transform="translate(199.0,327.9) scale(0.96,0.83)"/>
<use href="#pa" transform="translate(171.1,327.5) scale(1.00,1.14)"/>
<use href="#pa" transform="translate(229.4,327.9) scale(0.80,0.90)"/>
<use href="#pb" transform="translate(239.4,327.4) scale(0.93,1.01)"/>
<use href="#tp" fill="url(#ctip)" opacity="0.58" transform="translate(239.4,327.4) scale(0.93,1.01)"/>
<use href="#pa" transform="translate(162.1,328.6) scale(0.80,1.16)"/>
<use href="#tp" fill="url(#ctip)" opacity="0.74" transform="translate(162.1,328.6) scale(0.80,1.16)"/>
<use href="#pa" transform="translate(134.6,327.5) scale(1.02,0.95)"/>
<use href="#tp" fill="url(#ctip)" opacity="0.51" transform="translate(134.6,327.5) scale(1.02,0.95)"/>
<use href="#pa" transform="translate(218.1,330.3) scale(0.94,0.61)"/>
<use href="#pa" transform="translate(251.7,328.8) scale(0.88,0.80)"/>
<use href="#pa" transform="translate(178.8,330.9) scale(0.97,0.89)"/>
<use href="#tp" fill="url(#ctip)" opacity="0.45" transform="translate(178.8,330.9) scale(0.97,0.89)"/>
<use href="#pa" transform="translate(156.1,330.1) scale(1.00,0.65)"/>
<use href="#pa" transform="translate(186.2,331.7) scale(0.84,0.85)"/>
<use href="#tp" fill="url(#ctip)" opacity="0.41" transform="translate(186.2,331.7) scale(0.84,0.85)"/>
<use href="#pa" transform="translate(237.5,330.6) scale(1.02,0.95)"/>
<use href="#tp" fill="url(#ctip)" opacity="0.51" transform="translate(237.5,330.6) scale(1.02,0.95)"/>
<use href="#pa" transform="translate(198.2,332.8) scale(0.97,0.65)"/>
<use href="#pa" transform="translate(177.5,332.7) scale(0.86,1.00)"/>
<use href="#tp" fill="url(#ctip)" opacity="0.55" transform="translate(177.5,332.7) scale(0.86,1.00)"/>
<use href="#pa" transform="translate(221.8,332.6) scale(0.89,0.97)"/>
<use href="#tp" fill="url(#ctip)" opacity="0.52" transform="translate(221.8,332.6) scale(0.89,0.97)"/>
<use href="#pa" transform="translate(216.0,333.4) scale(1.03,1.19)"/>
<use href="#tp" fill="url(#ctip)" opacity="0.74" transform="translate(216.0,333.4) scale(1.03,1.19)"/>
<use href="#pa" transform="translate(165.5,333.2) scale(0.96,0.78)"/>
<use href="#pa" transform="translate(250.1,331.8) scale(0.92,1.09)"/>
<use href="#tp" fill="url(#ctip)" opacity="0.64" transform="translate(250.1,331.8) scale(0.92,1.09)"/>
<use href="#pa" transform="translate(206.4,333.8) scale(0.81,1.07)"/>
<use href="#tp" fill="url(#ctip)" opacity="0.62" transform="translate(206.4,333.8) scale(0.81,1.07)"/>
<use href="#pa" transform="translate(245.2,332.6) scale(0.80,0.74)"/>
<use href="#pa" transform="translate(253.6,332.4) scale(0.86,1.00)"/>
<use href="#tp" fill="url(#ctip)" opacity="0.55" transform="translate(253.6,332.4) scale(0.86,1.00)"/>
<use href="#pa" transform="translate(150.5,333.4) scale(0.78,0.68)"/>
<use href="#pb" transform="translate(144.7,333.3) scale(1.03,0.94)"/>
<use href="#tp" fill="url(#ctip)" opacity="0.49" transform="translate(144.7,333.3) scale(1.03,0.94)"/>
<use href="#pb" transform="translate(161.3,335.0) scale(1.02,0.68)"/>
<use href="#pa" transform="translate(229.0,335.0) scale(0.94,0.98)"/>
<use href="#tp" fill="url(#ctip)" opacity="0.52" transform="translate(229.0,335.0) scale(0.94,0.98)"/>
<use href="#pa" transform="translate(218.1,335.4) scale(1.03,0.80)"/>
<use href="#pa" transform="translate(188.9,336.5) scale(0.94,0.84)"/>
<use href="#pb" transform="translate(178.4,337.0) scale(0.95,1.03)"/>
<use href="#tp" fill="url(#ctip)" opacity="0.57" transform="translate(178.4,337.0) scale(0.95,1.03)"/>
<use href="#pa" transform="translate(263.8,334.1) scale(0.81,1.18)"/>
<use href="#pa" transform="translate(198.5,337.4) scale(0.99,1.04)"/>
<use href="#pb" transform="translate(166.1,337.0) scale(0.87,1.07)"/>
<use href="#tp" fill="url(#ctip)" opacity="0.60" transform="translate(166.1,337.0) scale(0.87,1.07)"/>
<use href="#pa" transform="translate(211.3,337.7) scale(1.03,1.18)"/>
<use href="#tp" fill="url(#ctip)" opacity="0.71" transform="translate(211.3,337.7) scale(1.03,1.18)"/>
<use href="#pa" transform="translate(129.9,335.4) scale(0.88,0.65)"/>
<use href="#pa" transform="translate(236.4,337.5) scale(0.87,1.10)"/>
<use href="#pa" transform="translate(138.7,336.7) scale(0.98,0.74)"/>
<use href="#pa" transform="translate(193.9,338.8) scale(0.84,0.75)"/>
<use href="#pa" transform="translate(176.5,339.2) scale(0.86,1.21)"/>
<use href="#tp" fill="url(#ctip)" opacity="0.73" transform="translate(176.5,339.2) scale(0.86,1.21)"/>
<use href="#pa" transform="translate(122.5,336.0) scale(0.99,1.12)"/>
<use href="#tp" fill="url(#ctip)" opacity="0.65" transform="translate(122.5,336.0) scale(0.99,1.12)"/>
<use href="#pa" transform="translate(264.4,336.6) scale(0.93,0.67)"/>
<use href="#pa" transform="translate(240.4,338.7) scale(0.84,1.17)"/>
<use href="#tp" fill="url(#ctip)" opacity="0.69" transform="translate(240.4,338.7) scale(0.84,1.17)"/>
<use href="#pa" transform="translate(187.4,340.4) scale(1.03,0.96)"/>
<use href="#tp" fill="url(#ctip)" opacity="0.49" transform="translate(187.4,340.4) scale(1.03,0.96)"/>
<use href="#pa" transform="translate(207.2,340.9) scale(1.02,0.84)"/>
<use href="#pa" transform="translate(254.6,338.8) scale(0.90,1.03)"/>
<use href="#tp" fill="url(#ctip)" opacity="0.55" transform="translate(254.6,338.8) scale(0.90,1.03)"/>
<use href="#pb" transform="translate(242.6,339.8) scale(0.83,0.89)"/>
<use href="#tp" fill="url(#ctip)" opacity="0.42" transform="translate(242.6,339.8) scale(0.83,0.89)"/>
<use href="#pa" transform="translate(142.8,339.6) scale(1.02,1.01)"/>
<use href="#tp" fill="url(#ctip)" opacity="0.53" transform="translate(142.8,339.6) scale(1.02,1.01)"/>
<use href="#pb" transform="translate(151.0,340.2) scale(1.06,0.94)"/>
<use href="#tp" fill="url(#ctip)" opacity="0.47" transform="translate(151.0,340.2) scale(1.06,0.94)"/>
<use href="#pa" transform="translate(162.3,340.8) scale(0.92,0.97)"/>
<use href="#tp" fill="url(#ctip)" opacity="0.49" transform="translate(162.3,340.8) scale(0.92,0.97)"/>
<use href="#pa" transform="translate(218.8,341.2) scale(0.85,0.70)"/>
<use href="#pb" transform="translate(223.6,342.1) scale(0.84,0.68)"/>
<use href="#pb" transform="translate(159.0,342.6) scale(0.87,0.83)"/>
<use href="#pa" transform="translate(133.0,341.0) scale(0.82,1.15)"/>
<use href="#tp" fill="url(#ctip)" opacity="0.66" transform="translate(133.0,341.0) scale(0.82,1.15)"/>
<use href="#pa" transform="translate(240.1,342.2) scale(0.94,1.19)"/>
<use href="#pa" transform="translate(229.8,343.3) scale(1.02,1.19)"/>
<use href="#tp" fill="url(#ctip)" opacity="0.70" transform="translate(229.8,343.3) scale(1.02,1.19)"/>
<use href="#pa" transform="translate(197.5,344.2) scale(1.03,0.64)"/>
<use href="#pa" transform="translate(252.0,342.4) scale(0.99,0.87)"/>
<use href="#pa" transform="translate(169.6,344.4) scale(0.96,0.66)"/>
<use href="#pa" transform="translate(269.0,341.7) scale(1.06,1.23)"/>
<use href="#tp" fill="url(#ctip)" opacity="0.73" transform="translate(269.0,341.7) scale(1.06,1.23)"/>
<use href="#pa" transform="translate(127.6,342.7) scale(0.84,1.16)"/>
<use href="#tp" fill="url(#ctip)" opacity="0.66" transform="translate(127.6,342.7) scale(0.84,1.16)"/>
<use href="#pa" transform="translate(261.9,342.9) scale(1.04,0.80)"/>
<use href="#pa" transform="translate(184.9,346.0) scale(1.07,0.78)"/>
<use href="#pb" transform="translate(117.3,342.4) scale(0.98,1.00)"/>
<use href="#pa" transform="translate(180.6,346.5) scale(0.98,0.88)"/>
<use href="#pb" transform="translate(219.0,346.5) scale(1.01,1.44)"/>
<use href="#tp" fill="url(#ctip)" opacity="0.92" transform="translate(219.0,346.5) scale(1.01,1.44)"/>
<use href="#pa" transform="translate(276.3,342.6) scale(1.06,0.89)"/>
<use href="#tp" fill="url(#ctip)" opacity="0.40" transform="translate(276.3,342.6) scale(1.06,0.89)"/>
<use href="#pa" transform="translate(145.9,345.8) scale(0.88,0.84)"/>
<use href="#pa" transform="translate(166.5,347.1) scale(1.01,1.41)"/>
<use href="#tp" fill="url(#ctip)" opacity="0.89" transform="translate(166.5,347.1) scale(1.01,1.41)"/>
<use href="#pa" transform="translate(141.0,345.8) scale(0.95,1.15)"/>
<use href="#pa" transform="translate(215.8,347.7) scale(0.83,1.14)"/>
<use href="#tp" fill="url(#ctip)" opacity="0.63" transform="translate(215.8,347.7) scale(0.83,1.14)"/>
<use href="#pa" transform="translate(208.7,347.9) scale(0.86,0.96)"/>
<use href="#pa" transform="translate(224.1,348.0) scale(0.83,0.88)"/>
<use href="#pa" transform="translate(189.6,348.7) scale(0.90,0.84)"/>
<use href="#pa" transform="translate(149.4,347.6) scale(1.07,1.24)"/>
<use href="#pa" transform="translate(242.0,347.7) scale(1.09,1.18)"/>
<use href="#tp" fill="url(#ctip)" opacity="0.66" transform="translate(242.0,347.7) scale(1.09,1.18)"/>
<use href="#pa" transform="translate(252.4,347.0) scale(0.91,0.88)"/>
<use href="#pa" transform="translate(175.3,349.1) scale(0.99,1.40)"/>
<use href="#tp" fill="url(#ctip)" opacity="0.87" transform="translate(175.3,349.1) scale(0.99,1.40)"/>
<use href="#pa" transform="translate(156.4,348.4) scale(1.03,0.95)"/>
<use href="#pa" transform="translate(132.7,346.8) scale(0.86,0.82)"/>
<use href="#pa" transform="translate(195.1,349.6) scale(1.07,0.69)"/>
<use href="#pa" transform="translate(127.1,347.7) scale(0.95,0.86)"/>
<use href="#pa" transform="translate(233.3,349.8) scale(1.04,1.00)"/>
<use href="#pa" transform="translate(114.9,346.7) scale(0.91,0.78)"/>
<use href="#pa" transform="translate(207.8,350.9) scale(0.83,0.95)"/>
<use href="#tp" fill="url(#ctip)" opacity="0.45" transform="translate(207.8,350.9) scale(0.83,0.95)"/>
<use href="#pa" transform="translate(267.4,347.6) scale(0.91,0.73)"/>
<use href="#pa" transform="translate(211.1,351.1) scale(0.93,0.77)"/>
<use href="#pb" transform="translate(239.0,350.9) scale(1.04,1.26)"/>
<use href="#tp" fill="url(#ctip)" opacity="0.73" transform="translate(239.0,350.9) scale(1.04,1.26)"/>
<use href="#pa" transform="translate(251.7,350.6) scale(0.90,0.95)"/>
<use href="#tp" fill="url(#ctip)" opacity="0.44" transform="translate(251.7,350.6) scale(0.90,0.95)"/>
<use href="#pa" transform="translate(229.3,352.2) scale(1.07,1.26)"/>
<use href="#tp" fill="url(#ctip)" opacity="0.72" transform="translate(229.3,352.2) scale(1.07,1.26)"/>
<use href="#pa" transform="translate(274.2,349.4) scale(0.95,0.89)"/>
<use href="#pb" transform="translate(120.4,350.2) scale(1.00,1.06)"/>
<use href="#tp" fill="url(#ctip)" opacity="0.54" transform="translate(120.4,350.2) scale(1.00,1.06)"/>
<use href="#pb" transform="translate(186.1,354.1) scale(0.93,1.29)"/>
<use href="#tp" fill="url(#ctip)" opacity="0.75" transform="translate(186.1,354.1) scale(0.93,1.29)"/>
<use href="#pb" transform="translate(280.1,349.6) scale(0.90,0.83)"/>
<use href="#pc" transform="translate(223.4,353.9) scale(1.06,0.76)"/>
<use href="#pc" transform="translate(167.0,354.3) scale(0.98,1.05)"/>
<use href="#tp" fill="url(#ctip)" opacity="0.52" transform="translate(167.0,354.3) scale(0.98,1.05)"/>
<use href="#pc" transform="translate(181.1,354.7) scale(0.87,1.18)"/>
<use href="#tp" fill="url(#ctip)" opacity="0.64" transform="translate(181.1,354.7) scale(0.87,1.18)"/>
<use href="#pa" transform="translate(156.5,353.9) scale(0.93,1.22)"/>
<use href="#tp" fill="url(#ctip)" opacity="0.68" transform="translate(156.5,353.9) scale(0.93,1.22)"/>
<use href="#pa" transform="translate(262.4,352.0) scale(1.13,0.74)"/>
<use href="#pb" transform="translate(138.6,353.0) scale(1.07,1.08)"/>
<use href="#pb" transform="translate(128.5,352.8) scale(1.02,0.87)"/>
<use href="#pb" transform="translate(107.5,350.8) scale(1.05,1.14)"/>
<use href="#tp" fill="url(#ctip)" opacity="0.61" transform="translate(107.5,350.8) scale(1.05,1.14)"/>
<use href="#pb" transform="translate(198.4,356.2) scale(0.98,1.16)"/>
<use href="#tp" fill="url(#ctip)" opacity="0.62" transform="translate(198.4,356.2) scale(0.98,1.16)"/>
<use href="#pa" transform="translate(148.9,355.0) scale(0.93,0.86)"/>
<use href="#pb" transform="translate(116.1,352.4) scale(0.99,0.78)"/>
<use href="#pa" transform="translate(243.2,355.1) scale(0.98,1.23)"/>
<use href="#pb" transform="translate(144.5,355.1) scale(1.03,1.16)"/>
<use href="#tp" fill="url(#ctip)" opacity="0.62" transform="translate(144.5,355.1) scale(1.03,1.16)"/>
<use href="#pb" transform="translate(263.0,353.9) scale(1.04,1.27)"/>
<use href="#tp" fill="url(#ctip)" opacity="0.72" transform="translate(263.0,353.9) scale(1.04,1.27)"/>
<use href="#pa" transform="translate(137.1,354.9) scale(0.91,1.33)"/>
<use href="#tp" fill="url(#ctip)" opacity="0.77" transform="translate(137.1,354.9) scale(0.91,1.33)"/>
<use href="#pa" transform="translate(256.2,355.1) scale(0.86,1.17)"/>
<use href="#tp" fill="url(#ctip)" opacity="0.63" transform="translate(256.2,355.1) scale(0.86,1.17)"/>
<use href="#pc" transform="translate(225.0,357.6) scale(0.91,1.06)"/>
<use href="#pa" transform="translate(203.6,358.3) scale(0.92,1.25)"/>
<use href="#pb" transform="translate(278.6,353.8) scale(1.07,1.28)"/>
<use href="#tp" fill="url(#ctip)" opacity="0.72" transform="translate(278.6,353.8) scale(1.07,1.28)"/>
<use href="#pb" transform="translate(180.8,358.5) scale(1.00,1.01)"/>
<use href="#pb" transform="translate(168.3,358.5) scale(0.95,0.74)"/>
<use href="#pa" transform="translate(286.3,353.6) scale(1.13,0.81)"/>
<use href="#pc" transform="translate(212.9,358.9) scale(0.95,1.28)"/>
<use href="#tp" fill="url(#ctip)" opacity="0.72" transform="translate(212.9,358.9) scale(0.95,1.28)"/>
<use href="#pb" transform="translate(107.2,354.5) scale(1.12,0.71)"/>
<use href="#pa" transform="translate(175.2,359.6) scale(0.97,0.92)"/>
<use href="#pa" transform="translate(122.6,356.6) scale(1.02,0.87)"/>
<use href="#pa" transform="translate(235.5,359.0) scale(0.87,1.14)"/>
<use href="#tp" fill="url(#ctip)" opacity="0.59" transform="translate(235.5,359.0) scale(0.87,1.14)"/>
<use href="#pb" transform="translate(193.7,360.3) scale(1.08,0.68)"/>
<use href="#pb" transform="translate(137.6,358.3) scale(1.00,0.93)"/>
<use href="#pb" transform="translate(208.9,360.5) scale(1.04,1.28)"/>
<use href="#pc" transform="translate(259.9,358.1) scale(1.03,0.90)"/>
<use href="#pb" transform="translate(179.8,360.9) scale(1.13,0.95)"/>
<use href="#pb" transform="translate(119.9,357.7) scale(1.08,1.27)"/>
<use href="#tp" fill="url(#ctip)" opacity="0.70" transform="translate(119.9,357.7) scale(1.08,1.27)"/>
<use href="#pa" transform="translate(154.2,360.4) scale(1.08,1.08)"/>
<use href="#tp" fill="url(#ctip)" opacity="0.53" transform="translate(154.2,360.4) scale(1.08,1.08)"/>
<use href="#pc" transform="translate(192.7,361.6) scale(1.11,1.49)"/>
<use href="#pb" transform="translate(105.9,356.5) scale(1.12,0.95)"/>
<use href="#pb" transform="translate(157.4,361.3) scale(0.94,0.85)"/>
<use href="#pb" transform="translate(127.2,359.4) scale(0.98,1.14)"/>
<use href="#tp" fill="url(#ctip)" opacity="0.58" transform="translate(127.2,359.4) scale(0.98,1.14)"/>
<use href="#pa" transform="translate(287.1,356.9) scale(1.06,1.06)"/>
<use href="#pc" transform="translate(96.7,356.4) scale(1.05,1.09)"/>
<use href="#tp" fill="url(#ctip)" opacity="0.54" transform="translate(96.7,356.4) scale(1.05,1.09)"/>
<use href="#pa" transform="translate(202.6,362.9) scale(1.10,1.52)"/>
<use href="#tp" fill="url(#ctip)" opacity="0.92" transform="translate(202.6,362.9) scale(1.10,1.52)"/>
<use href="#pa" transform="translate(247.2,361.2) scale(0.94,0.77)"/>
<use href="#pa" transform="translate(237.8,361.8) scale(1.13,0.99)"/>
<use href="#tp" fill="url(#ctip)" opacity="0.45" transform="translate(237.8,361.8) scale(1.13,0.99)"/>
<use href="#pb" transform="translate(269.8,359.4) scale(1.04,0.87)"/>
<use href="#pa" transform="translate(168.4,362.8) scale(1.07,1.05)"/>
<use href="#tp" fill="url(#ctip)" opacity="0.50" transform="translate(168.4,362.8) scale(1.07,1.05)"/>
<use href="#pb" transform="translate(150.9,362.1) scale(0.98,0.88)"/>
<use href="#pb" transform="translate(228.3,362.7) scale(0.88,1.01)"/>
<use href="#tp" fill="url(#ctip)" opacity="0.46" transform="translate(228.3,362.7) scale(0.88,1.01)"/>
<use href="#pa" transform="translate(218.4,363.3) scale(1.14,1.15)"/>
<use href="#tp" fill="url(#ctip)" opacity="0.59" transform="translate(218.4,363.3) scale(1.14,1.15)"/>
<use href="#pb" transform="translate(235.8,362.7) scale(0.93,1.23)"/>
<use href="#tp" fill="url(#ctip)" opacity="0.66" transform="translate(235.8,362.7) scale(0.93,1.23)"/>
<use href="#pb" transform="translate(279.3,359.9) scale(0.99,0.76)"/>
<use href="#pb" transform="translate(92.9,357.8) scale(0.87,0.93)"/>
<use href="#pb" transform="translate(298.7,358.4) scale(1.13,1.21)"/>
<use href="#tp" fill="url(#ctip)" opacity="0.63" transform="translate(298.7,358.4) scale(1.13,1.21)"/>
<use href="#pa" transform="translate(167.2,365.0) scale(1.14,1.30)"/>
<use href="#tp" fill="url(#ctip)" opacity="0.71" transform="translate(167.2,365.0) scale(1.14,1.30)"/>
<use href="#pa" transform="translate(132.1,363.0) scale(0.94,1.13)"/>
<use href="#pa" transform="translate(213.6,365.6) scale(1.02,0.71)"/>
<use href="#pb" transform="translate(268.4,362.4) scale(0.87,0.96)"/>
<use href="#tp" fill="url(#ctip)" opacity="0.41" transform="translate(268.4,362.4) scale(0.87,0.96)"/>
<use href="#pa" transform="translate(246.8,364.7) scale(0.96,0.99)"/>
<use href="#tp" fill="url(#ctip)" opacity="0.43" transform="translate(246.8,364.7) scale(0.96,0.99)"/>
<use href="#pb" transform="translate(120.7,363.0) scale(0.97,1.04)"/>
<use href="#tp" fill="url(#ctip)" opacity="0.48" transform="translate(120.7,363.0) scale(0.97,1.04)"/>
<use href="#pb" transform="translate(288.3,361.2) scale(1.15,1.01)"/>
<use href="#tp" fill="url(#ctip)" opacity="0.45" transform="translate(288.3,361.2) scale(1.15,1.01)"/>
<use href="#pa" transform="translate(103.5,361.8) scale(0.93,0.77)"/>
<use href="#pb" transform="translate(257.0,365.3) scale(1.04,0.94)"/>
<use href="#pa" transform="translate(278.5,363.3) scale(1.13,1.15)"/>
<use href="#tp" fill="url(#ctip)" opacity="0.57" transform="translate(278.5,363.3) scale(1.13,1.15)"/>
<use href="#pa" transform="translate(147.3,366.5) scale(1.12,1.03)"/>
<use href="#pc" transform="translate(182.2,367.9) scale(0.93,1.23)"/>
<use href="#tp" fill="url(#ctip)" opacity="0.64" transform="translate(182.2,367.9) scale(0.93,1.23)"/>
<use href="#pb" transform="translate(203.8,368.3) scale(0.87,0.83)"/>
<use href="#pa" transform="translate(112.4,364.3) scale(1.08,1.31)"/>
<use href="#tp" fill="url(#ctip)" opacity="0.71" transform="translate(112.4,364.3) scale(1.08,1.31)"/>
<use href="#pb" transform="translate(194.5,368.9) scale(1.15,1.14)"/>
<use href="#tp" fill="url(#ctip)" opacity="0.56" transform="translate(194.5,368.9) scale(1.15,1.14)"/>
<use href="#pc" transform="translate(227.4,368.2) scale(1.04,1.07)"/>
<use href="#pc" transform="translate(154.2,368.3) scale(0.94,0.94)"/>
<use href="#pc" transform="translate(149.8,368.2) scale(0.88,0.88)"/>
<use href="#pa" transform="translate(174.5,370.4) scale(0.90,0.89)"/>
<use href="#pa" transform="translate(179.8,370.9) scale(1.00,0.98)"/>
<use href="#tp" fill="url(#ctip)" opacity="0.41" transform="translate(179.8,370.9) scale(1.00,0.98)"/>
<use href="#pb" transform="translate(240.8,369.8) scale(1.12,1.24)"/>
<use href="#pb" transform="translate(263.9,368.3) scale(0.96,0.73)"/>
<use href="#pb" transform="translate(206.5,371.4) scale(0.99,1.34)"/>
<use href="#pb" transform="translate(252.3,369.3) scale(1.08,1.25)"/>
<use href="#tp" fill="url(#ctip)" opacity="0.65" transform="translate(252.3,369.3) scale(1.08,1.25)"/>
<use href="#pc" transform="translate(288.6,365.8) scale(1.01,1.26)"/>
<use href="#pb" transform="translate(281.3,366.7) scale(1.13,0.91)"/>
<use href="#pb" transform="translate(202.5,371.9) scale(1.01,1.08)"/>
<use href="#tp" fill="url(#ctip)" opacity="0.49" transform="translate(202.5,371.9) scale(1.01,1.08)"/>
<use href="#pa" transform="translate(100.6,366.2) scale(0.93,1.30)"/>
<use href="#pb" transform="translate(139.4,370.2) scale(1.13,1.16)"/>
<use href="#tp" fill="url(#ctip)" opacity="0.57" transform="translate(139.4,370.2) scale(1.13,1.16)"/>
<use href="#pb" transform="translate(110.3,367.6) scale(0.97,1.12)"/>
<use href="#tp" fill="url(#ctip)" opacity="0.53" transform="translate(110.3,367.6) scale(0.97,1.12)"/>
<use href="#pa" transform="translate(122.6,368.9) scale(1.10,1.72)"/>
<use href="#pb" transform="translate(129.8,369.7) scale(1.04,0.99)"/>
<use href="#tp" fill="url(#ctip)" opacity="0.42" transform="translate(129.8,369.7) scale(1.04,0.99)"/>
<use href="#pb" transform="translate(245.5,371.0) scale(0.94,1.16)"/>
<use href="#pb" transform="translate(232.3,371.8) scale(0.91,0.89)"/>
<use href="#pb" transform="translate(157.6,371.9) scale(1.06,0.86)"/>
<use href="#pa" transform="translate(221.6,372.6) scale(1.19,0.77)"/>
<use href="#pc" transform="translate(272.2,369.1) scale(1.14,0.96)"/>
<use href="#pc" transform="translate(143.0,371.9) scale(0.96,1.09)"/>
<use href="#tp" fill="url(#ctip)" opacity="0.50" transform="translate(143.0,371.9) scale(0.96,1.09)"/>
<use href="#pb" transform="translate(175.2,373.5) scale(1.17,1.00)"/>
<use href="#pc" transform="translate(188.4,374.1) scale(1.01,1.25)"/>
<use href="#tp" fill="url(#ctip)" opacity="0.64" transform="translate(188.4,374.1) scale(1.01,1.25)"/>
<use href="#pb" transform="translate(168.4,373.6) scale(1.05,0.87)"/>
<use href="#pb" transform="translate(135.2,372.3) scale(1.03,0.75)"/>
<use href="#pb" transform="translate(232.1,373.9) scale(1.07,1.64)"/>
<use href="#pa" transform="translate(267.9,371.4) scale(1.03,1.06)"/>
<use href="#tp" fill="url(#ctip)" opacity="0.47" transform="translate(267.9,371.4) scale(1.03,1.06)"/>
<use href="#pb" transform="translate(272.1,371.3) scale(1.03,0.80)"/>
<use href="#pc" transform="translate(185.2,376.0) scale(0.90,0.96)"/>
<use href="#pb" transform="translate(161.4,375.3) scale(1.15,1.36)"/>
<use href="#tp" fill="url(#ctip)" opacity="0.73" transform="translate(161.4,375.3) scale(1.15,1.36)"/>
<use href="#pa" transform="translate(110.0,371.3) scale(1.18,0.78)"/>
<use href="#pa" transform="translate(103.5,371.0) scale(0.95,1.27)"/>
<use href="#tp" fill="url(#ctip)" opacity="0.65" transform="translate(103.5,371.0) scale(0.95,1.27)"/>
<use href="#pb" transform="translate(124.3,373.4) scale(0.91,1.12)"/>
<use href="#tp" fill="url(#ctip)" opacity="0.52" transform="translate(124.3,373.4) scale(0.91,1.12)"/>
<use href="#pc" transform="translate(212.2,377.2) scale(1.20,0.86)"/>
<use href="#pb" transform="translate(197.0,377.5) scale(1.08,0.85)"/>
<use href="#pb" transform="translate(189.5,377.5) scale(1.13,1.18)"/>
<use href="#pc" transform="translate(202.2,377.6) scale(1.15,0.84)"/>
<use href="#pa" transform="translate(226.3,377.0) scale(0.97,0.79)"/>
<use href="#pa" transform="translate(155.0,376.6) scale(1.14,0.72)"/>
<use href="#pa" transform="translate(285.6,372.7) scale(0.92,1.02)"/>
<use href="#pa" transform="translate(182.0,378.5) scale(0.98,1.26)"/>
<use href="#tp" fill="url(#ctip)" opacity="0.63" transform="translate(182.0,378.5) scale(0.98,1.26)"/>
<use href="#pb" transform="translate(255.3,376.4) scale(1.19,1.07)"/>
<use href="#tp" fill="url(#ctip)" opacity="0.47" transform="translate(255.3,376.4) scale(1.19,1.07)"/>
<use href="#pa" transform="translate(201.8,379.8) scale(1.09,1.11)"/>
<use href="#pb" transform="translate(212.7,379.8) scale(0.95,1.11)"/>
<use href="#tp" fill="url(#ctip)" opacity="0.50" transform="translate(212.7,379.8) scale(0.95,1.11)"/>
<use href="#pb" transform="translate(160.9,379.3) scale(1.08,1.17)"/>
<use href="#pa" transform="translate(243.4,378.7) scale(1.13,0.98)"/>
<use href="#pc" transform="translate(269.2,376.6) scale(1.18,1.24)"/>
<use href="#pb" transform="translate(127.9,377.3) scale(1.01,1.32)"/>
<use href="#tp" fill="url(#ctip)" opacity="0.68" transform="translate(127.9,377.3) scale(1.01,1.32)"/>
<use href="#pa" transform="translate(170.7,380.3) scale(1.03,0.85)"/>
<use href="#pa" transform="translate(250.6,379.0) scale(1.01,1.31)"/>
<use href="#tp" fill="url(#ctip)" opacity="0.67" transform="translate(250.6,379.0) scale(1.01,1.31)"/>
<use href="#pb" transform="translate(110.6,376.6) scale(1.15,1.12)"/>
<use href="#tp" fill="url(#ctip)" opacity="0.50" transform="translate(110.6,376.6) scale(1.15,1.12)"/>
<use href="#pa" transform="translate(134.0,378.9) scale(1.08,1.02)"/>
<use href="#tp" fill="url(#ctip)" opacity="0.42" transform="translate(134.0,378.9) scale(1.08,1.02)"/>
<use href="#pa" transform="translate(279.8,377.0) scale(1.00,1.06)"/>
<use href="#pa" transform="translate(234.7,380.8) scale(1.13,1.21)"/>
<use href="#tp" fill="url(#ctip)" opacity="0.58" transform="translate(234.7,380.8) scale(1.13,1.21)"/>
<use href="#pb" transform="translate(257.9,379.2) scale(1.04,1.14)"/>
<use href="#tp" fill="url(#ctip)" opacity="0.52" transform="translate(257.9,379.2) scale(1.04,1.14)"/>
<use href="#pb" transform="translate(120.9,378.5) scale(1.03,1.01)"/>
<use href="#tp" fill="url(#ctip)" opacity="0.41" transform="translate(120.9,378.5) scale(1.03,1.01)"/>
<use href="#pb" transform="translate(137.9,380.0) scale(0.94,0.79)"/>
<use href="#pb" transform="translate(148.5,380.8) scale(1.07,0.81)"/>
<use href="#pb" transform="translate(214.0,382.1) scale(1.10,1.07)"/>
<use href="#tp" fill="url(#ctip)" opacity="0.46" transform="translate(214.0,382.1) scale(1.10,1.07)"/>
<use href="#pb" transform="translate(231.2,381.5) scale(0.92,0.79)"/>
<use href="#pc" transform="translate(172.3,382.6) scale(1.02,0.90)"/>
<use href="#pb" transform="translate(223.7,382.6) scale(1.21,1.31)"/>
<use href="#tp" fill="url(#ctip)" opacity="0.66" transform="translate(223.7,382.6) scale(1.21,1.31)"/>
<use href="#pb" transform="translate(123.9,380.1) scale(0.95,0.86)"/>
<use href="#pb" transform="translate(143.9,381.9) scale(1.10,0.76)"/>
<use href="#pa" transform="translate(156.6,382.8) scale(1.13,1.34)"/>
<use href="#tp" fill="url(#ctip)" opacity="0.68" transform="translate(156.6,382.8) scale(1.13,1.34)"/>
<use href="#pb" transform="translate(219.6,383.3) scale(1.03,1.52)"/>
<use href="#pc" transform="translate(245.0,382.2) scale(0.97,1.16)"/>
<use href="#tp" fill="url(#ctip)" opacity="0.53" transform="translate(245.0,382.2) scale(0.97,1.16)"/>
<use href="#pb" transform="translate(276.1,379.5) scale(1.06,0.76)"/>
<use href="#pa" transform="translate(205.5,384.5) scale(1.08,0.99)"/>
<use href="#pa" transform="translate(168.2,384.2) scale(1.00,1.41)"/>
<use href="#tp" fill="url(#ctip)" opacity="0.74" transform="translate(168.2,384.2) scale(1.00,1.41)"/>
<use href="#pa" transform="translate(116.5,381.7) scale(1.22,0.86)"/>
<use href="#pb" transform="translate(197.5,385.8) scale(0.99,1.23)"/>
<use href="#tp" fill="url(#ctip)" opacity="0.59" transform="translate(197.5,385.8) scale(0.99,1.23)"/>
<use href="#pb" transform="translate(182.9,385.9) scale(0.96,1.25)"/>
<use href="#tp" fill="url(#ctip)" opacity="0.60" transform="translate(182.9,385.9) scale(0.96,1.25)"/>
<use href="#pa" transform="translate(257.7,383.8) scale(1.07,0.85)"/>
<use href="#pb" transform="translate(178.9,386.4) scale(1.01,1.23)"/>
<use href="#tp" fill="url(#ctip)" opacity="0.58" transform="translate(178.9,386.4) scale(1.01,1.23)"/>
<use href="#pa" transform="translate(220.0,386.5) scale(1.20,1.38)"/>
<use href="#tp" fill="url(#ctip)" opacity="0.71" transform="translate(220.0,386.5) scale(1.20,1.38)"/>
<use href="#pa" transform="translate(170.5,387.1) scale(1.25,0.88)"/>
<use href="#pb" transform="translate(264.9,384.8) scale(1.01,0.89)"/>
<use href="#pb" transform="translate(119.3,384.4) scale(1.06,0.79)"/>
<use href="#pb" transform="translate(162.9,388.7) scale(1.16,1.25)"/>
<use href="#pb" transform="translate(260.7,386.5) scale(1.07,1.38)"/>
<use href="#pb" transform="translate(206.3,390.0) scale(1.23,0.86)"/>
<use href="#pb" transform="translate(246.9,388.5) scale(1.14,1.16)"/>
<use href="#pa" transform="translate(272.3,386.4) scale(1.08,0.75)"/>
<use href="#pa" transform="translate(229.2,389.6) scale(1.22,1.00)"/>
<use href="#pb" transform="translate(254.8,388.1) scale(1.09,1.11)"/>
<use href="#tp" fill="url(#ctip)" opacity="0.48" transform="translate(254.8,388.1) scale(1.09,1.11)"/>
<use href="#pa" transform="translate(198.5,390.5) scale(1.12,0.85)"/>
<use href="#pb" transform="translate(129.1,388.0) scale(1.04,1.67)"/>
<use href="#pa" transform="translate(124.3,387.6) scale(1.26,1.43)"/>
<use href="#tp" fill="url(#ctip)" opacity="0.74" transform="translate(124.3,387.6) scale(1.26,1.43)"/>
<use href="#pa" transform="translate(184.2,391.1) scale(1.18,1.07)"/>
<use href="#pb" transform="translate(189.0,391.1) scale(1.15,1.04)"/>
<use href="#tp" fill="url(#ctip)" opacity="0.41" transform="translate(189.0,391.1) scale(1.15,1.04)"/>
<use href="#pb" transform="translate(150.0,390.0) scale(1.21,1.11)"/>
<use href="#tp" fill="url(#ctip)" opacity="0.47" transform="translate(150.0,390.0) scale(1.21,1.11)"/>
<use href="#pa" transform="translate(143.8,389.6) scale(1.26,0.89)"/>
<use href="#pa" transform="translate(138.4,389.2) scale(1.07,1.34)"/>
<use href="#tp" fill="url(#ctip)" opacity="0.66" transform="translate(138.4,389.2) scale(1.07,1.34)"/>
<use href="#pb" transform="translate(241.3,390.4) scale(1.15,1.32)"/>
<use href="#pb" transform="translate(134.9,389.6) scale(0.95,0.97)"/>
<use href="#pb" transform="translate(235.5,392.2) scale(1.05,1.07)"/>
<use href="#tp" fill="url(#ctip)" opacity="0.43" transform="translate(235.5,392.2) scale(1.05,1.07)"/>
<use href="#pa" transform="translate(193.4,393.8) scale(1.15,1.09)"/>
<use href="#tp" fill="url(#ctip)" opacity="0.44" transform="translate(193.4,393.8) scale(1.15,1.09)"/>
<use href="#pa" transform="translate(163.1,393.4) scale(1.07,0.73)"/>
<use href="#pa" transform="translate(261.6,391.5) scale(1.20,1.31)"/>
<use href="#tp" fill="url(#ctip)" opacity="0.63" transform="translate(261.6,391.5) scale(1.20,1.31)"/>
<use href="#pb" transform="translate(224.3,394.0) scale(1.20,1.90)"/>
<use href="#tp" fill="url(#ctip)" opacity="1.00" transform="translate(224.3,394.0) scale(1.20,1.90)"/>
<use href="#pc" transform="translate(212.1,394.7) scale(1.21,1.20)"/>
<use href="#tp" fill="url(#ctip)" opacity="0.54" transform="translate(212.1,394.7) scale(1.21,1.20)"/>
<use href="#pb" transform="translate(156.0,394.3) scale(1.11,0.80)"/>
<use href="#pa" transform="translate(170.1,395.2) scale(1.22,1.07)"/>
<use href="#tp" fill="url(#ctip)" opacity="0.42" transform="translate(170.1,395.2) scale(1.22,1.07)"/>
<use href="#pb" transform="translate(243.1,394.4) scale(1.28,0.83)"/>
<use href="#pa" transform="translate(203.6,396.6) scale(0.99,0.78)"/>
<use href="#pa" transform="translate(174.3,396.4) scale(0.98,1.18)"/>
<use href="#tp" fill="url(#ctip)" opacity="0.51" transform="translate(174.3,396.4) scale(0.98,1.18)"/>
<use href="#pa" transform="translate(237.5,395.9) scale(1.05,1.27)"/>
<use href="#tp" fill="url(#ctip)" opacity="0.59" transform="translate(237.5,395.9) scale(1.05,1.27)"/>
<use href="#pa" transform="translate(188.6,397.4) scale(1.16,1.08)"/>
<use href="#tp" fill="url(#ctip)" opacity="0.43" transform="translate(188.6,397.4) scale(1.16,1.08)"/>
<use href="#pb" transform="translate(128.4,394.6) scale(1.27,0.94)"/>
<use href="#pc" transform="translate(138.4,395.6) scale(1.09,1.17)"/>
<use href="#tp" fill="url(#ctip)" opacity="0.50" transform="translate(138.4,395.6) scale(1.09,1.17)"/>
<use href="#pb" transform="translate(179.8,397.7) scale(1.06,0.87)"/>
<use href="#pb" transform="translate(257.4,395.7) scale(1.18,0.91)"/>
<use href="#pb" transform="translate(252.6,396.1) scale(1.15,1.33)"/>
<use href="#pc" transform="translate(159.9,397.6) scale(1.01,1.02)"/>
<use href="#pc" transform="translate(150.6,398.2) scale(1.06,1.21)"/>
<use href="#tp" fill="url(#ctip)" opacity="0.53" transform="translate(150.6,398.2) scale(1.06,1.21)"/>
<use href="#pc" transform="translate(218.7,399.3) scale(0.99,0.79)"/>
<use href="#pc" transform="translate(236.2,399.2) scale(1.10,1.39)"/>
<use href="#tp" fill="url(#ctip)" opacity="0.67" transform="translate(236.2,399.2) scale(1.10,1.39)"/>
<use href="#pc" transform="translate(209.9,401.2) scale(1.20,1.39)"/>
<use href="#pb" transform="translate(133.9,398.9) scale(1.08,0.79)"/>
<use href="#pb" transform="translate(174.6,401.4) scale(1.07,1.27)"/>
<use href="#tp" fill="url(#ctip)" opacity="0.57" transform="translate(174.6,401.4) scale(1.07,1.27)"/>
<use href="#pc" transform="translate(200.5,401.9) scale(1.01,1.36)"/>
<use href="#tp" fill="url(#ctip)" opacity="0.65" transform="translate(200.5,401.9) scale(1.01,1.36)"/>
<use href="#pc" transform="translate(246.7,400.3) scale(1.06,1.22)"/>
<use href="#tp" fill="url(#ctip)" opacity="0.53" transform="translate(246.7,400.3) scale(1.06,1.22)"/>
<use href="#pb" transform="translate(216.7,402.1) scale(1.27,0.83)"/>
<use href="#pc" transform="translate(230.2,401.8) scale(1.24,1.31)"/>
<use href="#tp" fill="url(#ctip)" opacity="0.60" transform="translate(230.2,401.8) scale(1.24,1.31)"/>
<use href="#pb" transform="translate(157.5,401.7) scale(1.20,1.52)"/>
<use href="#tp" fill="url(#ctip)" opacity="0.77" transform="translate(157.5,401.7) scale(1.20,1.52)"/>
<use href="#pc" transform="translate(208.4,403.4) scale(1.08,1.40)"/>
<use href="#tp" fill="url(#ctip)" opacity="0.67" transform="translate(208.4,403.4) scale(1.08,1.40)"/>
<use href="#pc" transform="translate(252.2,401.5) scale(1.14,0.76)"/>
<use href="#pb" transform="translate(140.6,401.9) scale(1.07,1.21)"/>
<use href="#pc" transform="translate(200.4,404.9) scale(1.23,1.01)"/>
<use href="#pb" transform="translate(163.7,404.6) scale(1.11,1.49)"/>
<use href="#pc" transform="translate(185.1,406.0) scale(1.06,1.23)"/>
<use href="#tp" fill="url(#ctip)" opacity="0.53" transform="translate(185.1,406.0) scale(1.06,1.23)"/>
<use href="#pc" transform="translate(157.1,405.3) scale(1.17,1.46)"/>
<use href="#pc" transform="translate(179.8,406.4) scale(1.04,1.23)"/>
<use href="#tp" fill="url(#ctip)" opacity="0.53" transform="translate(179.8,406.4) scale(1.04,1.23)"/>
<use href="#pc" transform="translate(194.2,406.8) scale(1.00,1.25)"/>
<use href="#tp" fill="url(#ctip)" opacity="0.54" transform="translate(194.2,406.8) scale(1.00,1.25)"/>
<use href="#pb" transform="translate(224.8,406.3) scale(1.07,1.00)"/>
<use href="#pb" transform="translate(141.1,405.6) scale(1.18,1.27)"/>
<use href="#tp" fill="url(#ctip)" opacity="0.56" transform="translate(141.1,405.6) scale(1.18,1.27)"/>
<use href="#pb" transform="translate(242.6,406.5) scale(1.00,1.42)"/>
<use href="#tp" fill="url(#ctip)" opacity="0.68" transform="translate(242.6,406.5) scale(1.00,1.42)"/>
<use href="#pc" transform="translate(217.6,408.5) scale(0.98,1.29)"/>
<use href="#tp" fill="url(#ctip)" opacity="0.57" transform="translate(217.6,408.5) scale(0.98,1.29)"/>
<use href="#pc" transform="translate(206.7,409.4) scale(1.04,1.21)"/>
<use href="#tp" fill="url(#ctip)" opacity="0.51" transform="translate(206.7,409.4) scale(1.04,1.21)"/>
<use href="#pc" transform="translate(166.5,409.0) scale(1.18,1.07)"/>
<use href="#pb" transform="translate(188.5,409.9) scale(1.24,1.38)"/>
<use href="#tp" fill="url(#ctip)" opacity="0.64" transform="translate(188.5,409.9) scale(1.24,1.38)"/>
<use href="#pc" transform="translate(227.7,409.2) scale(1.27,1.37)"/>
<use href="#pb" transform="translate(150.1,409.1) scale(1.07,0.90)"/>
<use href="#pc" transform="translate(248.6,408.5) scale(1.12,1.38)"/>
<use href="#tp" fill="url(#ctip)" opacity="0.64" transform="translate(248.6,408.5) scale(1.12,1.38)"/>
<use href="#pb" transform="translate(191.6,411.3) scale(1.06,1.34)"/>
<use href="#pc" transform="translate(225.9,410.7) scale(1.06,0.85)"/>
<use href="#pc" transform="translate(152.1,410.5) scale(1.27,1.27)"/>
<use href="#tp" fill="url(#ctip)" opacity="0.55" transform="translate(152.1,410.5) scale(1.27,1.27)"/>
<use href="#pb" transform="translate(164.3,411.8) scale(1.00,1.10)"/>
<use href="#pb" transform="translate(174.9,412.9) scale(1.00,1.15)"/>
<use href="#tp" fill="url(#ctip)" opacity="0.44" transform="translate(174.9,412.9) scale(1.00,1.15)"/>
<use href="#pb" transform="translate(142.9,411.5) scale(1.04,1.44)"/>
<use href="#tp" fill="url(#ctip)" opacity="0.67" transform="translate(142.9,411.5) scale(1.04,1.44)"/>
<use href="#pb" transform="translate(203.5,413.3) scale(1.21,1.48)"/>
<use href="#tp" fill="url(#ctip)" opacity="0.70" transform="translate(203.5,413.3) scale(1.21,1.48)"/>
<use href="#pb" transform="translate(236.4,412.5) scale(1.03,0.82)"/>
<use href="#pb" transform="translate(149.1,412.9) scale(1.23,0.88)"/>
<use href="#pc" transform="translate(243.9,413.1) scale(1.21,1.44)"/>
<use href="#tp" fill="url(#ctip)" opacity="0.67" transform="translate(243.9,413.1) scale(1.21,1.44)"/>
<use href="#pb" transform="translate(186.7,414.7) scale(1.09,1.16)"/>
<use href="#tp" fill="url(#ctip)" opacity="0.45" transform="translate(186.7,414.7) scale(1.09,1.16)"/>
<use href="#pc" transform="translate(159.5,414.3) scale(1.00,1.32)"/>
<use href="#pc" transform="translate(213.6,415.1) scale(1.02,1.29)"/>
<use href="#tp" fill="url(#ctip)" opacity="0.55" transform="translate(213.6,415.1) scale(1.02,1.29)"/>
<use href="#pc" transform="translate(197.2,416.9) scale(1.04,1.04)"/>
<use href="#pc" transform="translate(177.3,416.8) scale(1.25,1.04)"/>
<use href="#pc" transform="translate(188.7,417.4) scale(1.08,1.04)"/>
<use href="#pc" transform="translate(231.6,417.1) scale(1.35,1.14)"/>
<use href="#tp" fill="url(#ctip)" opacity="0.43" transform="translate(231.6,417.1) scale(1.35,1.14)"/>
<use href="#pb" transform="translate(172.4,418.4) scale(1.13,1.19)"/>
<use href="#tp" fill="url(#ctip)" opacity="0.47" transform="translate(172.4,418.4) scale(1.13,1.19)"/>
<use href="#pb" transform="translate(238.1,417.9) scale(1.03,1.25)"/>
<use href="#pc" transform="translate(173.1,419.3) scale(1.12,1.76)"/>
<use href="#pc" transform="translate(209.1,419.9) scale(1.05,1.48)"/>
<use href="#tp" fill="url(#ctip)" opacity="0.68" transform="translate(209.1,419.9) scale(1.05,1.48)"/>
<use href="#pc" transform="translate(218.9,419.6) scale(1.27,1.35)"/>
<use href="#pc" transform="translate(196.9,421.7) scale(1.34,0.81)"/>
<use href="#pc" transform="translate(216.9,422.0) scale(1.03,1.08)"/>
<use href="#pc" transform="translate(151.3,421.7) scale(1.16,1.08)"/>
<use href="#pc" transform="translate(167.3,422.5) scale(1.34,1.02)"/>
<use href="#pc" transform="translate(187.0,423.0) scale(1.20,1.13)"/>
<use href="#tp" fill="url(#ctip)" opacity="0.41" transform="translate(187.0,423.0) scale(1.20,1.13)"/>
<use href="#pc" transform="translate(232.4,422.8) scale(1.15,1.49)"/>
<use href="#tp" fill="url(#ctip)" opacity="0.68" transform="translate(232.4,422.8) scale(1.15,1.49)"/>
<use href="#pc" transform="translate(205.5,423.9) scale(1.26,0.88)"/>
<use href="#pc" transform="translate(226.8,423.7) scale(1.04,1.63)"/>
<use href="#tp" fill="url(#ctip)" opacity="0.79" transform="translate(226.8,423.7) scale(1.04,1.63)"/>
<use href="#pc" transform="translate(202.2,426.1) scale(1.09,1.34)"/>
<use href="#pc" transform="translate(219.6,426.0) scale(1.23,1.59)"/>
<use href="#tp" fill="url(#ctip)" opacity="0.75" transform="translate(219.6,426.0) scale(1.23,1.59)"/>
<use href="#pb" transform="translate(176.6,427.2) scale(1.13,1.38)"/>
<use href="#pc" transform="translate(167.2,427.5) scale(1.33,1.18)"/>
<use href="#tp" fill="url(#ctip)" opacity="0.44" transform="translate(167.2,427.5) scale(1.33,1.18)"/>
<use href="#pc" transform="translate(191.8,428.6) scale(1.17,1.28)"/>
<use href="#pc" transform="translate(162.8,428.5) scale(1.27,1.30)"/>
<use href="#pb" transform="translate(223.2,428.9) scale(1.08,0.85)"/>
<use href="#pb" transform="translate(209.5,429.4) scale(1.24,1.50)"/>
<use href="#tp" fill="url(#ctip)" opacity="0.68" transform="translate(209.5,429.4) scale(1.24,1.50)"/>
<use href="#pc" transform="translate(228.4,428.9) scale(1.07,1.46)"/>
<use href="#pb" transform="translate(158.8,429.2) scale(1.14,1.58)"/>
<use href="#pb" transform="translate(170.1,431.4) scale(1.08,1.51)"/>
<use href="#tp" fill="url(#ctip)" opacity="0.67" transform="translate(170.1,431.4) scale(1.08,1.51)"/>
<use href="#pb" transform="translate(212.8,431.7) scale(1.35,0.94)"/>
<use href="#pc" transform="translate(182.7,432.0) scale(1.27,1.57)"/>
<use href="#pb" transform="translate(192.4,432.9) scale(1.21,1.52)"/>
<use href="#pb" transform="translate(203.1,432.9) scale(1.35,0.82)"/>
<use href="#pc" transform="translate(198.6,433.6) scale(1.33,1.07)"/>
<use href="#pb" transform="translate(209.5,433.8) scale(1.31,0.85)"/>
<use href="#pb" transform="translate(170.5,433.8) scale(1.16,0.99)"/>
<use href="#pb" transform="translate(188.2,434.4) scale(1.14,1.38)"/>
<use href="#tp" fill="url(#ctip)" opacity="0.57" transform="translate(188.2,434.4) scale(1.14,1.38)"/>
<use href="#pc" transform="translate(222.4,437.1) scale(1.15,0.91)"/>
<use href="#pb" transform="translate(176.4,439.9) scale(1.06,1.47)"/>
<use href="#tp" fill="url(#ctip)" opacity="0.63" transform="translate(176.4,439.9) scale(1.06,1.47)"/>
<use href="#pb" transform="translate(179.5,440.1) scale(1.34,1.08)"/>
<use href="#pc" transform="translate(215.0,441.4) scale(1.26,1.61)"/>
<use href="#tp" fill="url(#ctip)" opacity="0.73" transform="translate(215.0,441.4) scale(1.26,1.61)"/>
<use href="#pc" transform="translate(185.0,442.1) scale(1.43,1.03)"/>
<use href="#pc" transform="translate(209.2,442.4) scale(1.23,1.03)"/>
<use href="#pc" transform="translate(207.7,442.5) scale(1.07,1.10)"/>
<use href="#pc" transform="translate(191.8,443.2) scale(1.34,0.96)"/>
<use href="#pc" transform="translate(178.7,443.3) scale(1.22,1.18)"/>
<use href="#pc" transform="translate(202.5,446.3) scale(1.08,1.48)"/>
<use href="#tp" fill="url(#ctip)" opacity="0.61" transform="translate(202.5,446.3) scale(1.08,1.48)"/>
<use href="#pb" transform="translate(189.3,448.4) scale(1.43,1.16)"/>
<use href="#pb" transform="translate(196.4,450.5) scale(1.40,1.59)"/>
<use href="#tp" fill="url(#ctip)" opacity="0.68" transform="translate(196.4,450.5) scale(1.40,1.59)"/>
<use href="#pc" transform="translate(204.8,451.1) scale(1.32,1.18)"/>
<use href="#pc" transform="translate(184.5,454.2) scale(1.36,0.96)"/>
<use href="#pb" transform="translate(189.2,455.4) scale(1.25,1.32)"/>
<use href="#pc" transform="translate(201.7,457.8) scale(1.33,1.45)"/>
<use href="#pc" transform="translate(194.3,458.6) scale(1.28,0.99)"/></g></g>
<path d="M89.2,360.40000000000003 L194.0,467.8 L301.0,360.40000000000003" fill="none" stroke="#7adfe6" stroke-width="1.1" opacity="0.9"/>
<path d="M89.2,360.4 l-2.2,2.2 M194.0,467.8 l2.2,2.2 M97.6,369.0 l-1.3,1.3 M202.6,459.2 l1.3,1.3 M106.0,377.6 l-2.2,2.2 M211.1,450.6 l2.2,2.2 M114.4,386.2 l-1.3,1.3 M219.7,442.0 l1.3,1.3 M122.7,394.8 l-2.2,2.2 M228.2,433.4 l2.2,2.2 M131.1,403.4 l-1.3,1.3 M236.8,424.8 l1.3,1.3 M139.5,412.0 l-2.2,2.2 M245.4,416.2 l2.2,2.2 M147.9,420.5 l-1.3,1.3 M253.9,407.7 l1.3,1.3 M156.3,429.1 l-2.2,2.2 M262.5,399.1 l2.2,2.2 M164.7,437.7 l-1.3,1.3 M271.0,390.5 l1.3,1.3 M173.0,446.3 l-2.2,2.2 M279.6,381.9 l2.2,2.2 M181.4,454.9 l-1.3,1.3 M288.2,373.3 l1.3,1.3 M189.8,463.5 l-2.2,2.2 M296.7,364.7 l2.2,2.2" fill="none" stroke="#3b5560" stroke-width="0.7"/>
<text transform="translate(97,383.5) rotate(42)" text-anchor="middle" font-family="Liberation Sans, sans-serif" font-size="8.6" fill="#27424a" textLength="10.6" lengthAdjust="spacingAndGlyphs">0.2</text>
<text transform="translate(113.5,400) rotate(42)" text-anchor="middle" font-family="Liberation Sans, sans-serif" font-size="8.6" fill="#27424a" textLength="10.6" lengthAdjust="spacingAndGlyphs">0.4</text>
<text transform="translate(130.5,417.5) rotate(42)" text-anchor="middle" font-family="Liberation Sans, sans-serif" font-size="8.6" fill="#27424a" textLength="10.6" lengthAdjust="spacingAndGlyphs">0.6</text>
<text transform="translate(147.5,435) rotate(42)" text-anchor="middle" font-family="Liberation Sans, sans-serif" font-size="8.6" fill="#27424a" textLength="10.6" lengthAdjust="spacingAndGlyphs">0.8</text>
<text transform="translate(167.5,454) rotate(42)" text-anchor="middle" font-family="Liberation Sans, sans-serif" font-size="8.6" fill="#27424a" textLength="4.4" lengthAdjust="spacingAndGlyphs">1</text>
<text transform="translate(186.5,475.5) rotate(42)" text-anchor="middle" font-family="Liberation Sans, sans-serif" font-size="8.6" fill="#27424a" textLength="10.6" lengthAdjust="spacingAndGlyphs">1.2</text>
<text transform="translate(119.5,431) rotate(42)" text-anchor="middle" font-family="Liberation Sans, sans-serif" font-size="8.6" fill="#27424a" textLength="8" lengthAdjust="spacingAndGlyphs">µm</text>
<text transform="translate(200.6,479.6) rotate(-47)" text-anchor="middle" font-family="Liberation Sans, sans-serif" font-size="8.6" fill="#27424a" textLength="4.4" lengthAdjust="spacingAndGlyphs">0</text>
<text transform="translate(221.2,458.6) rotate(-47)" text-anchor="middle" font-family="Liberation Sans, sans-serif" font-size="8.6" fill="#27424a" textLength="10.6" lengthAdjust="spacingAndGlyphs">0.2</text>
<text transform="translate(239.5,437.5) rotate(-47)" text-anchor="middle" font-family="Liberation Sans, sans-serif" font-size="8.6" fill="#27424a" textLength="10.6" lengthAdjust="spacingAndGlyphs">0.4</text>
<text transform="translate(258.6,418) rotate(-47)" text-anchor="middle" font-family="Liberation Sans, sans-serif" font-size="8.6" fill="#27424a" textLength="10.6" lengthAdjust="spacingAndGlyphs">0.6</text>
<text transform="translate(274.8,401) rotate(-47)" text-anchor="middle" font-family="Liberation Sans, sans-serif" font-size="8.6" fill="#27424a" textLength="10.6" lengthAdjust="spacingAndGlyphs">0.8</text>
<text transform="translate(290.3,385) rotate(-47)" text-anchor="middle" font-family="Liberation Sans, sans-serif" font-size="8.6" fill="#27424a" textLength="4.4" lengthAdjust="spacingAndGlyphs">1</text>
<text transform="translate(306,370.4) rotate(-47)" text-anchor="middle" font-family="Liberation Sans, sans-serif" font-size="8.6" fill="#27424a" textLength="10.6" lengthAdjust="spacingAndGlyphs">1.2</text>
<text transform="translate(270.5,428.5) rotate(-47)" text-anchor="middle" font-family="Liberation Sans, sans-serif" font-size="8.6" fill="#27424a" textLength="8" lengthAdjust="spacingAndGlyphs">µm</text>
<text transform="translate(69.2,341) rotate(0)" text-anchor="middle" font-family="Liberation Sans, sans-serif" font-size="8.4" fill="#27424a" textLength="12.6" lengthAdjust="spacingAndGlyphs">25.5</text>
<text transform="translate(78.4,368) rotate(18)" text-anchor="middle" font-family="Liberation Sans, sans-serif" font-size="8.4" fill="#27424a" textLength="4" lengthAdjust="spacingAndGlyphs">0</text>
<text transform="translate(83.6,368.4) rotate(32)" text-anchor="middle" font-family="Liberation Sans, sans-serif" font-size="8.4" fill="#27424a" textLength="4" lengthAdjust="spacingAndGlyphs">0</text>
<text transform="translate(42.6,347.5) rotate(76)" text-anchor="middle" font-family="Liberation Sans, sans-serif" font-size="8.6" fill="#27424a" textLength="10" lengthAdjust="spacingAndGlyphs">nm</text>
<path d="M79.6,342.2 H83.3 M85,360 L89,359.4" stroke="#3b5560" stroke-width="0.8" fill="none"/>
<rect x="301.6" y="466.3" width="47.2" height="35.4" fill="#b9fffc" stroke="#2a5a62" stroke-width="0.9"/>
<text x="325.5" y="475.9" text-anchor="middle" font-family="Liberation Sans, sans-serif" font-size="8.8" fill="#1c3e44" textLength="40" lengthAdjust="spacingAndGlyphs">X = 1.25 µm</text>
<text x="325.5" y="487.1" text-anchor="middle" font-family="Liberation Sans, sans-serif" font-size="8.8" fill="#1c3e44" textLength="40" lengthAdjust="spacingAndGlyphs">Y = 1.25 µm</text>
<text x="325.5" y="498.3" text-anchor="middle" font-family="Liberation Sans, sans-serif" font-size="8.8" fill="#1c3e44" textLength="40" lengthAdjust="spacingAndGlyphs">Z = 25.7 nm</text>
<g><path d="M46.3,487 L46.3,482" stroke="#1a3a58" stroke-width="1.7"/><path d="M46.3,474.4 L49.9,479.7 L46.3,484.8 L42.7,479.7 Z" fill="#1a20c8"/><path d="M46.3,487 L55.5,481.4" stroke="#8a2222" stroke-width="1.9"/><path d="M62.6,477.1 L53.0,478.4 L57.6,485.4 Z" fill="#e22626"/><path d="M46.3,487 L54.5,493.4" stroke="#1f5a44" stroke-width="1.9"/><path d="M62.0,498.0 L56.8,490.0 L52.0,496.4 Z" fill="#2ed242"/><circle cx="46.3" cy="487" r="1.5" fill="#1c4050"/></g>
<text x="46.6" y="474.6" text-anchor="middle" font-family="Liberation Sans, sans-serif" font-size="9.2" fill="#1e4e6a">Z</text>
<text x="67.3" y="477.8" text-anchor="middle" font-family="Liberation Sans, sans-serif" font-size="8.8" fill="#8a6468">X</text>
<text x="66.3" y="503.5" text-anchor="middle" font-family="Liberation Sans, sans-serif" font-size="8.8" fill="#5ab49e">Y</text>
<defs><linearGradient id="ccb" x1="0" y1="0" x2="0" y2="1">
<stop offset="0" stop-color="#ffffff"/><stop offset="0.04" stop-color="#fbeefb"/><stop offset="0.12" stop-color="#f2aef2"/><stop offset="0.21" stop-color="#e87cea"/><stop offset="0.33" stop-color="#d85edc"/><stop offset="0.46" stop-color="#c04ac4"/><stop offset="0.6" stop-color="#9a3a9e"/><stop offset="0.75" stop-color="#702a78"/><stop offset="0.88" stop-color="#401448"/><stop offset="0.96" stop-color="#1c0820"/><stop offset="1" stop-color="#050006"/></linearGradient></defs>
<rect x="360.2" y="246.7" width="8" height="245" fill="url(#ccb)" stroke="#555" stroke-width="0.6"/>
<path d="M368.2,491.7 h3.2 M368.2,486.9 h1.2 M368.2,482.2 h1.2 M368.2,477.4 h1.2 M368.2,472.7 h1.2 M368.2,467.9 h3.2 M368.2,463.1 h1.2 M368.2,458.4 h1.2 M368.2,453.6 h1.2 M368.2,448.9 h1.2 M368.2,444.1 h3.2 M368.2,439.3 h1.2 M368.2,434.6 h1.2 M368.2,429.8 h1.2 M368.2,425.1 h1.2 M368.2,420.3 h3.2 M368.2,415.5 h1.2 M368.2,410.8 h1.2 M368.2,406.0 h1.2 M368.2,401.3 h1.2 M368.2,396.5 h3.2 M368.2,391.7 h1.2 M368.2,387.0 h1.2 M368.2,382.2 h1.2 M368.2,377.5 h1.2 M368.2,372.7 h3.2 M368.2,367.9 h1.2 M368.2,363.2 h1.2 M368.2,358.4 h1.2 M368.2,353.7 h1.2 M368.2,348.9 h3.2 M368.2,344.1 h1.2 M368.2,339.4 h1.2 M368.2,334.6 h1.2 M368.2,329.9 h1.2 M368.2,325.1 h3.2 M368.2,320.3 h1.2 M368.2,315.6 h1.2 M368.2,310.8 h1.2 M368.2,306.1 h1.2 M368.2,301.3 h3.2 M368.2,296.5 h1.2 M368.2,291.8 h1.2 M368.2,287.0 h1.2 M368.2,282.3 h1.2 M368.2,277.5 h3.2 M368.2,272.7 h1.2 M368.2,268.0 h1.2 M368.2,263.2 h1.2 M368.2,258.5 h1.2 M368.2,253.7 h3.2" stroke="#333" stroke-width="0.7" fill="none"/>
<text x="372.6" y="494.7" font-family="Liberation Sans, sans-serif" font-size="8.8" fill="#333" textLength="4.2" lengthAdjust="spacingAndGlyphs">0</text>
<text x="372.6" y="470.9" font-family="Liberation Sans, sans-serif" font-size="8.8" fill="#333" textLength="10.6" lengthAdjust="spacingAndGlyphs">2.5</text>
<text x="372.6" y="447.1" font-family="Liberation Sans, sans-serif" font-size="8.8" fill="#333" textLength="4.2" lengthAdjust="spacingAndGlyphs">5</text>
<text x="372.6" y="423.3" font-family="Liberation Sans, sans-serif" font-size="8.8" fill="#333" textLength="10.6" lengthAdjust="spacingAndGlyphs">7.5</text>
<text x="372.6" y="399.5" font-family="Liberation Sans, sans-serif" font-size="8.8" fill="#333" textLength="8.6" lengthAdjust="spacingAndGlyphs">10</text>
<text x="372.6" y="375.7" font-family="Liberation Sans, sans-serif" font-size="8.8" fill="#333" textLength="15.0" lengthAdjust="spacingAndGlyphs">12.5</text>
<text x="372.6" y="351.9" font-family="Liberation Sans, sans-serif" font-size="8.8" fill="#333" textLength="8.6" lengthAdjust="spacingAndGlyphs">15</text>
<text x="372.6" y="328.1" font-family="Liberation Sans, sans-serif" font-size="8.8" fill="#333" textLength="15.0" lengthAdjust="spacingAndGlyphs">17.5</text>
<text x="372.6" y="304.3" font-family="Liberation Sans, sans-serif" font-size="8.8" fill="#333" textLength="8.6" lengthAdjust="spacingAndGlyphs">20</text>
<text x="372.6" y="280.5" font-family="Liberation Sans, sans-serif" font-size="8.8" fill="#333" textLength="15.0" lengthAdjust="spacingAndGlyphs">22.5</text>
<text x="372.6" y="256.7" font-family="Liberation Sans, sans-serif" font-size="8.8" fill="#333" textLength="8.6" lengthAdjust="spacingAndGlyphs">25</text>
<text x="372.8" y="244.2" font-family="Liberation Sans, sans-serif" font-size="7.6" fill="#444" textLength="8.5" lengthAdjust="spacingAndGlyphs">nm</text>
<text x="383.9" y="497.4" text-anchor="middle" font-family="Liberation Serif, serif" font-weight="bold" font-size="13" fill="#111">C</text>
</g>
<g id="panel_d">
<rect x="393.3" y="238.8" width="263.4" height="265.8" fill="#a0a0a0"/>
<defs>
<filter id="heat" x="0" y="0" width="1" height="1" color-interpolation-filters="sRGB">
<feGaussianBlur stdDeviation="0.8"/>
<feComponentTransfer><feFuncR type="table" tableValues="0.725 0.588 0.451 0.431 0.490 0.608 0.725 0.843 0.961 0.996 1.000 0.996 0.988 0.965 0.961 0.980 0.992 1.000"/><feFuncG type="table" tableValues="0.275 0.373 0.588 0.765 0.843 0.871 0.902 0.925 0.933 0.871 0.804 0.698 0.608 0.471 0.424 0.588 0.804 0.980"/><feFuncB type="table" tableValues="0.588 0.647 0.686 0.510 0.392 0.345 0.322 0.314 0.314 0.294 0.275 0.227 0.227 0.314 0.451 0.608 0.784 0.925"/></feComponentTransfer>
</filter>
<radialGradient id="hb"><stop offset="0" stop-color="#fff" stop-opacity="1"/><stop offset="0.3" stop-color="#fff" stop-opacity="0.9"/><stop offset="0.55" stop-color="#fff" stop-opacity="0.6"/><stop offset="0.72" stop-color="#fff" stop-opacity="0.32"/><stop offset="0.87" stop-color="#fff" stop-opacity="0.1"/><stop offset="1" stop-color="#fff" stop-opacity="0"/></radialGradient>
<radialGradient id="hd"><stop offset="0" stop-color="#000" stop-opacity="1"/><stop offset="0.5" stop-color="#000" stop-opacity="0.7"/><stop offset="1" stop-color="#000" stop-opacity="0"/></radialGradient>
<radialGradient id="hl"><stop offset="0" stop-color="#fff" stop-opacity="1"/><stop offset="0.5" stop-color="#fff" stop-opacity="0.6"/><stop offset="1" stop-color="#fff" stop-opacity="0"/></radialGradient>
<clipPath id="mapclip"><rect x="420.0" y="269.3" width="165.2" height="207.3"/></clipPath>
<linearGradient id="dcb" x1="0" y1="1" x2="0" y2="0"><stop offset="0.000" stop-color="rgb(185,70,150)"/><stop offset="0.058" stop-color="rgb(150,95,165)"/><stop offset="0.117" stop-color="rgb(115,150,175)"/><stop offset="0.175" stop-color="rgb(110,195,130)"/><stop offset="0.233" stop-color="rgb(125,215,100)"/><stop offset="0.292" stop-color="rgb(155,222,88)"/><stop offset="0.350" stop-color="rgb(185,230,82)"/><stop offset="0.409" stop-color="rgb(215,236,80)"/><stop offset="0.467" stop-color="rgb(245,238,80)"/><stop offset="0.525" stop-color="rgb(254,222,75)"/><stop offset="0.584" stop-color="rgb(255,205,70)"/><stop offset="0.642" stop-color="rgb(254,178,58)"/><stop offset="0.700" stop-color="rgb(252,155,58)"/><stop offset="0.759" stop-color="rgb(246,120,80)"/><stop offset="0.817" stop-color="rgb(245,108,115)"/><stop offset="0.875" stop-color="rgb(250,150,155)"/><stop offset="0.934" stop-color="rgb(253,205,200)"/><stop offset="0.992" stop-color="rgb(255,250,236)"/><stop offset="1" stop-color="#fffffa"/></linearGradient></defs>
<g clip-path="url(#mapclip)"><g filter="url(#heat)"><rect x="410.0" y="259.3" width="185.2" height="227.3" fill="rgb(34,34,34)"/>
<ellipse cx="552.2" cy="275.9" rx="13.9" ry="14.9" fill="url(#hd)" opacity="0.72"/>
<ellipse cx="568.0" cy="287.5" rx="11.9" ry="24.9" fill="url(#hd)" opacity="0.72"/>
<ellipse cx="579.9" cy="275.9" rx="7.9" ry="14.9" fill="url(#hd)" opacity="0.72"/>
<ellipse cx="581.2" cy="302.5" rx="6.9" ry="19.9" fill="url(#hd)" opacity="0.68"/>
<ellipse cx="569.3" cy="319.1" rx="6.9" ry="12.4" fill="url(#hd)" opacity="0.48"/>
<ellipse cx="541.6" cy="289.2" rx="7.9" ry="12.4" fill="url(#hd)" opacity="0.40"/>
<ellipse cx="466.3" cy="279.3" rx="13.9" ry="24.9" fill="url(#hd)" opacity="0.68"/>
<ellipse cx="463.6" cy="302.5" rx="9.9" ry="17.4" fill="url(#hd)" opacity="0.48"/>
<ellipse cx="427.9" cy="285.9" rx="11.9" ry="22.4" fill="url(#hd)" opacity="0.64"/>
<ellipse cx="483.4" cy="272.6" rx="9.9" ry="10.0" fill="url(#hd)" opacity="0.64"/>
<ellipse cx="519.1" cy="272.6" rx="7.9" ry="10.0" fill="url(#hd)" opacity="0.56"/>
<ellipse cx="499.3" cy="294.2" rx="9.9" ry="12.4" fill="url(#hd)" opacity="0.40"/>
<ellipse cx="532.3" cy="343.9" rx="15.9" ry="12.4" fill="url(#hd)" opacity="0.44"/>
<ellipse cx="512.5" cy="372.1" rx="11.9" ry="14.9" fill="url(#hd)" opacity="0.32"/>
<ellipse cx="486.1" cy="426.8" rx="19.8" ry="14.9" fill="url(#hd)" opacity="0.28"/>
<ellipse cx="552.2" cy="435.1" rx="23.8" ry="19.9" fill="url(#hd)" opacity="0.32"/>
<ellipse cx="453.0" cy="327.3" rx="15.9" ry="12.4" fill="url(#hd)" opacity="0.28"/>
<ellipse cx="439.8" cy="426.8" rx="11.9" ry="12.4" fill="url(#hd)" opacity="0.24"/>
<ellipse cx="525.7" cy="460.0" rx="19.8" ry="14.9" fill="url(#hd)" opacity="0.32"/>
<ellipse cx="459.6" cy="468.3" rx="23.8" ry="12.4" fill="url(#hd)" opacity="0.32"/>
<ellipse cx="572.0" cy="368.8" rx="9.9" ry="19.9" fill="url(#hd)" opacity="0.28"/>
<ellipse cx="492.7" cy="360.5" rx="11.9" ry="12.4" fill="url(#hd)" opacity="0.28"/>
<ellipse cx="456.7" cy="451.9" rx="10.5" ry="19.0" fill="url(#hl)" opacity="0.06"/>
<ellipse cx="521.1" cy="432.0" rx="14.2" ry="11.6" fill="url(#hl)" opacity="0.04"/>
<ellipse cx="433.3" cy="426.7" rx="13.3" ry="9.9" fill="url(#hl)" opacity="0.09"/>
<ellipse cx="465.3" cy="364.9" rx="11.6" ry="15.5" fill="url(#hl)" opacity="0.07"/>
<ellipse cx="519.1" cy="336.6" rx="11.4" ry="11.0" fill="url(#hl)" opacity="0.05"/>
<ellipse cx="443.8" cy="317.5" rx="19.6" ry="19.5" fill="url(#hl)" opacity="0.04"/>
<ellipse cx="424.0" cy="324.9" rx="16.4" ry="17.4" fill="url(#hl)" opacity="0.03"/>
<ellipse cx="515.4" cy="286.2" rx="14.2" ry="15.7" fill="url(#hl)" opacity="0.10"/>
<ellipse cx="462.8" cy="438.9" rx="18.4" ry="19.1" fill="url(#hl)" opacity="0.03"/>
<ellipse cx="497.6" cy="473.1" rx="12.8" ry="17.8" fill="url(#hl)" opacity="0.07"/>
<ellipse cx="547.3" cy="378.4" rx="8.3" ry="9.0" fill="url(#hl)" opacity="0.04"/>
<ellipse cx="461.5" cy="469.9" rx="15.6" ry="17.8" fill="url(#hl)" opacity="0.07"/>
<ellipse cx="525.0" cy="440.7" rx="19.1" ry="19.0" fill="url(#hl)" opacity="0.09"/>
<ellipse cx="435.6" cy="354.7" rx="8.4" ry="14.6" fill="url(#hl)" opacity="0.09"/>
<ellipse cx="428.4" cy="321.9" rx="12.4" ry="10.9" fill="url(#hl)" opacity="0.09"/>
<ellipse cx="478.2" cy="407.7" rx="13.9" ry="15.0" fill="url(#hl)" opacity="0.10"/>
<ellipse cx="575.9" cy="307.2" rx="18.1" ry="12.2" fill="url(#hl)" opacity="0.04"/>
<ellipse cx="483.3" cy="383.2" rx="19.5" ry="12.5" fill="url(#hl)" opacity="0.03"/>
<ellipse cx="562.0" cy="307.1" rx="13.7" ry="18.2" fill="url(#hl)" opacity="0.07"/>
<ellipse cx="493.8" cy="438.5" rx="8.2" ry="14.9" fill="url(#hl)" opacity="0.06"/>
<ellipse cx="582.7" cy="438.7" rx="8.6" ry="10.3" fill="url(#hl)" opacity="0.06"/>
<ellipse cx="536.1" cy="349.2" rx="12.3" ry="19.1" fill="url(#hl)" opacity="0.10"/>
<ellipse cx="487.3" cy="457.3" rx="12.0" ry="9.0" fill="url(#hl)" opacity="0.07"/>
<ellipse cx="529.2" cy="456.2" rx="19.6" ry="17.2" fill="url(#hl)" opacity="0.08"/>
<ellipse cx="537.3" cy="419.7" rx="17.2" ry="19.7" fill="url(#hl)" opacity="0.06"/>
<ellipse cx="433.7" cy="331.6" rx="10.7" ry="12.4" fill="url(#hl)" opacity="0.09"/>
<ellipse cx="429.9" cy="371.7" rx="17.8" ry="11.2" fill="url(#hl)" opacity="0.03"/>
<ellipse cx="460.0" cy="302.1" rx="17.7" ry="10.0" fill="url(#hl)" opacity="0.04"/>
<ellipse cx="554.6" cy="440.4" rx="15.1" ry="19.0" fill="url(#hl)" opacity="0.03"/>
<ellipse cx="579.4" cy="394.8" rx="11.6" ry="17.9" fill="url(#hl)" opacity="0.08"/>
<ellipse cx="583.0" cy="306.4" rx="15.0" ry="13.7" fill="url(#hl)" opacity="0.08"/>
<ellipse cx="460.0" cy="291.8" rx="14.5" ry="12.4" fill="url(#hl)" opacity="0.09"/>
<ellipse cx="495.9" cy="365.7" rx="15.6" ry="14.3" fill="url(#hl)" opacity="0.10"/>
<ellipse cx="550.3" cy="380.6" rx="10.5" ry="15.2" fill="url(#hl)" opacity="0.08"/>
<ellipse cx="506.6" cy="345.9" rx="7.5" ry="9.3" fill="url(#hb)" opacity="1.00"/>
<ellipse cx="481.1" cy="413.9" rx="7.5" ry="9.3" fill="url(#hb)" opacity="1.00"/>
<ellipse cx="558.1" cy="416.6" rx="7.4" ry="9.3" fill="url(#hb)" opacity="0.97"/>
<ellipse cx="556.1" cy="388.7" rx="7.3" ry="9.2" fill="url(#hb)" opacity="0.93"/>
<ellipse cx="532.3" cy="311.6" rx="7.3" ry="9.1" fill="url(#hb)" opacity="0.90"/>
<ellipse cx="449.1" cy="283.4" rx="7.2" ry="9.0" fill="url(#hb)" opacity="0.84"/>
<ellipse cx="509.9" cy="375.4" rx="7.3" ry="9.1" fill="url(#hb)" opacity="0.92"/>
<ellipse cx="535.0" cy="440.1" rx="7.3" ry="9.1" fill="url(#hb)" opacity="0.90"/>
<ellipse cx="431.9" cy="461.7" rx="7.2" ry="9.1" fill="url(#hb)" opacity="0.88"/>
<ellipse cx="579.9" cy="310.8" rx="7.3" ry="9.1" fill="url(#hb)" opacity="0.90"/>
<ellipse cx="482.1" cy="329.0" rx="7.1" ry="8.9" fill="url(#hb)" opacity="0.80"/>
<ellipse cx="483.4" cy="295.8" rx="7.1" ry="8.9" fill="url(#hb)" opacity="0.80"/>
<ellipse cx="512.5" cy="285.9" rx="7.1" ry="8.9" fill="url(#hb)" opacity="0.80"/>
<ellipse cx="544.9" cy="475.3" rx="6.1" ry="7.6" fill="url(#hb)" opacity="0.45"/>
<ellipse cx="472.6" cy="345.0" rx="6.0" ry="7.5" fill="url(#hb)" opacity="0.59"/>
<ellipse cx="442.2" cy="331.9" rx="6.5" ry="8.2" fill="url(#hb)" opacity="0.44"/>
<ellipse cx="519.3" cy="476.0" rx="6.8" ry="8.4" fill="url(#hb)" opacity="0.59"/>
<ellipse cx="540.1" cy="397.0" rx="6.2" ry="7.7" fill="url(#hb)" opacity="0.59"/>
<ellipse cx="548.4" cy="394.6" rx="5.6" ry="6.9" fill="url(#hb)" opacity="0.55"/>
<ellipse cx="477.4" cy="272.0" rx="5.7" ry="7.1" fill="url(#hb)" opacity="0.41"/>
<ellipse cx="477.5" cy="391.9" rx="5.8" ry="7.3" fill="url(#hb)" opacity="0.59"/>
<ellipse cx="567.6" cy="420.8" rx="6.5" ry="8.1" fill="url(#hb)" opacity="0.60"/>
<ellipse cx="447.8" cy="402.3" rx="6.4" ry="8.0" fill="url(#hb)" opacity="0.90"/>
<ellipse cx="439.8" cy="462.2" rx="7.3" ry="9.1" fill="url(#hb)" opacity="0.71"/>
<ellipse cx="443.6" cy="437.6" rx="6.0" ry="7.5" fill="url(#hb)" opacity="0.42"/>
<ellipse cx="420.1" cy="444.6" rx="6.4" ry="8.1" fill="url(#hb)" opacity="0.49"/>
<ellipse cx="578.8" cy="348.0" rx="6.9" ry="8.6" fill="url(#hb)" opacity="0.56"/>
<ellipse cx="469.6" cy="434.9" rx="6.1" ry="7.6" fill="url(#hb)" opacity="0.43"/>
<ellipse cx="440.8" cy="311.4" rx="6.1" ry="7.6" fill="url(#hb)" opacity="0.68"/>
<ellipse cx="524.7" cy="453.6" rx="5.4" ry="6.8" fill="url(#hb)" opacity="0.55"/>
<ellipse cx="510.8" cy="416.0" rx="6.9" ry="8.6" fill="url(#hb)" opacity="0.66"/>
<ellipse cx="575.0" cy="322.8" rx="6.6" ry="8.2" fill="url(#hb)" opacity="0.57"/>
<ellipse cx="583.6" cy="391.2" rx="6.6" ry="8.3" fill="url(#hb)" opacity="0.71"/>
<ellipse cx="548.4" cy="306.1" rx="6.5" ry="8.1" fill="url(#hb)" opacity="0.43"/>
<ellipse cx="481.4" cy="312.1" rx="6.2" ry="7.8" fill="url(#hb)" opacity="0.53"/>
<ellipse cx="554.0" cy="361.7" rx="5.9" ry="7.4" fill="url(#hb)" opacity="0.52"/>
<ellipse cx="432.4" cy="279.2" rx="5.8" ry="7.2" fill="url(#hb)" opacity="0.62"/>
<ellipse cx="480.3" cy="458.6" rx="7.5" ry="9.4" fill="url(#hb)" opacity="0.63"/>
<ellipse cx="421.1" cy="359.0" rx="6.2" ry="7.7" fill="url(#hb)" opacity="0.56"/>
<ellipse cx="424.3" cy="420.9" rx="7.7" ry="9.6" fill="url(#hb)" opacity="0.82"/>
<ellipse cx="509.9" cy="273.3" rx="5.5" ry="6.8" fill="url(#hb)" opacity="0.46"/>
<ellipse cx="468.9" cy="326.3" rx="6.2" ry="7.8" fill="url(#hb)" opacity="0.69"/>
<ellipse cx="575.0" cy="469.7" rx="7.1" ry="8.9" fill="url(#hb)" opacity="0.54"/>
<ellipse cx="492.9" cy="432.3" rx="7.0" ry="8.8" fill="url(#hb)" opacity="0.60"/>
<ellipse cx="500.1" cy="289.5" rx="6.0" ry="7.5" fill="url(#hb)" opacity="0.63"/>
<ellipse cx="543.7" cy="436.5" rx="6.6" ry="8.2" fill="url(#hb)" opacity="0.49"/>
<ellipse cx="462.5" cy="447.3" rx="6.2" ry="7.7" fill="url(#hb)" opacity="0.61"/>
<ellipse cx="503.3" cy="450.5" rx="6.2" ry="7.7" fill="url(#hb)" opacity="0.59"/>
<ellipse cx="505.9" cy="362.4" rx="6.1" ry="7.6" fill="url(#hb)" opacity="0.54"/>
<ellipse cx="553.6" cy="455.0" rx="7.5" ry="9.3" fill="url(#hb)" opacity="0.68"/>
<ellipse cx="440.5" cy="426.2" rx="7.0" ry="8.7" fill="url(#hb)" opacity="0.58"/>
<ellipse cx="557.7" cy="441.6" rx="6.6" ry="8.3" fill="url(#hb)" opacity="0.57"/>
<ellipse cx="427.1" cy="438.2" rx="6.7" ry="8.4" fill="url(#hb)" opacity="0.57"/>
<ellipse cx="577.8" cy="436.0" rx="7.3" ry="9.2" fill="url(#hb)" opacity="0.54"/>
<ellipse cx="502.8" cy="408.7" rx="6.2" ry="7.7" fill="url(#hb)" opacity="0.65"/>
<ellipse cx="461.7" cy="292.7" rx="6.8" ry="8.5" fill="url(#hb)" opacity="0.58"/>
<ellipse cx="555.0" cy="316.3" rx="6.9" ry="8.6" fill="url(#hb)" opacity="0.45"/>
<ellipse cx="533.9" cy="361.7" rx="6.2" ry="7.7" fill="url(#hb)" opacity="0.67"/>
<ellipse cx="460.7" cy="460.4" rx="6.5" ry="8.2" fill="url(#hb)" opacity="0.44"/>
<ellipse cx="447.4" cy="389.0" rx="6.6" ry="8.2" fill="url(#hb)" opacity="0.52"/>
<ellipse cx="494.1" cy="335.9" rx="5.8" ry="7.3" fill="url(#hb)" opacity="0.49"/>
<ellipse cx="504.5" cy="399.1" rx="5.6" ry="7.0" fill="url(#hb)" opacity="0.54"/>
<ellipse cx="426.0" cy="312.4" rx="6.8" ry="8.5" fill="url(#hb)" opacity="0.50"/>
<ellipse cx="460.4" cy="390.8" rx="6.1" ry="7.6" fill="url(#hb)" opacity="0.53"/>
<ellipse cx="544.0" cy="296.0" rx="5.2" ry="6.6" fill="url(#hb)" opacity="0.44"/>
<ellipse cx="547.8" cy="351.2" rx="7.0" ry="8.8" fill="url(#hb)" opacity="0.58"/>
<ellipse cx="528.8" cy="352.0" rx="5.3" ry="6.6" fill="url(#hb)" opacity="0.45"/>
<ellipse cx="505.4" cy="432.8" rx="6.9" ry="8.6" fill="url(#hb)" opacity="0.58"/>
<ellipse cx="497.8" cy="312.5" rx="7.3" ry="9.1" fill="url(#hb)" opacity="0.59"/>
<ellipse cx="569.2" cy="385.3" rx="5.8" ry="7.3" fill="url(#hb)" opacity="0.69"/>
<ellipse cx="492.0" cy="414.2" rx="5.5" ry="6.9" fill="url(#hb)" opacity="0.60"/>
<ellipse cx="532.7" cy="472.5" rx="5.7" ry="7.1" fill="url(#hb)" opacity="0.49"/>
<ellipse cx="546.6" cy="463.3" rx="5.9" ry="7.4" fill="url(#hb)" opacity="0.50"/>
<ellipse cx="455.6" cy="345.4" rx="5.7" ry="7.1" fill="url(#hb)" opacity="0.50"/>
<ellipse cx="464.2" cy="315.7" rx="7.0" ry="8.8" fill="url(#hb)" opacity="0.59"/>
<ellipse cx="577.0" cy="457.0" rx="6.1" ry="7.6" fill="url(#hb)" opacity="0.63"/>
<ellipse cx="521.9" cy="427.4" rx="5.8" ry="7.2" fill="url(#hb)" opacity="0.41"/>
<ellipse cx="455.7" cy="305.5" rx="6.5" ry="8.1" fill="url(#hb)" opacity="0.60"/>
<ellipse cx="535.6" cy="335.3" rx="5.8" ry="7.3" fill="url(#hb)" opacity="0.54"/>
<ellipse cx="500.4" cy="440.6" rx="7.4" ry="9.3" fill="url(#hb)" opacity="0.63"/>
<ellipse cx="490.2" cy="286.6" rx="7.5" ry="9.4" fill="url(#hb)" opacity="0.66"/>
<ellipse cx="523.4" cy="342.2" rx="6.9" ry="8.6" fill="url(#hb)" opacity="0.58"/>
<ellipse cx="491.1" cy="275.0" rx="5.8" ry="7.2" fill="url(#hb)" opacity="0.57"/>
<ellipse cx="426.9" cy="401.0" rx="6.1" ry="7.6" fill="url(#hb)" opacity="0.48"/>
<ellipse cx="568.4" cy="331.1" rx="7.3" ry="9.1" fill="url(#hb)" opacity="0.55"/>
<ellipse cx="465.9" cy="409.5" rx="6.7" ry="8.4" fill="url(#hb)" opacity="0.60"/>
<ellipse cx="495.3" cy="362.7" rx="5.5" ry="6.9" fill="url(#hb)" opacity="0.41"/>
<ellipse cx="573.6" cy="408.3" rx="6.1" ry="7.6" fill="url(#hb)" opacity="0.70"/>
<ellipse cx="422.1" cy="379.9" rx="5.8" ry="7.3" fill="url(#hb)" opacity="0.72"/>
<ellipse cx="473.8" cy="374.9" rx="6.2" ry="7.7" fill="url(#hb)" opacity="0.57"/>
<ellipse cx="570.3" cy="345.0" rx="6.8" ry="8.5" fill="url(#hb)" opacity="0.43"/>
<ellipse cx="509.8" cy="319.0" rx="6.6" ry="8.2" fill="url(#hb)" opacity="0.62"/>
<ellipse cx="477.3" cy="447.0" rx="6.6" ry="8.3" fill="url(#hb)" opacity="0.50"/>
<ellipse cx="462.9" cy="361.3" rx="6.3" ry="7.8" fill="url(#hb)" opacity="0.72"/>
<ellipse cx="498.6" cy="278.1" rx="6.8" ry="8.5" fill="url(#hb)" opacity="0.61"/>
<ellipse cx="474.6" cy="319.9" rx="7.2" ry="9.0" fill="url(#hb)" opacity="0.59"/>
<ellipse cx="542.8" cy="376.6" rx="6.3" ry="7.8" fill="url(#hb)" opacity="0.61"/>
<ellipse cx="579.6" cy="288.5" rx="7.2" ry="9.0" fill="url(#hb)" opacity="0.46"/>
<ellipse cx="429.0" cy="336.2" rx="6.6" ry="8.3" fill="url(#hb)" opacity="0.70"/>
<ellipse cx="432.0" cy="363.7" rx="6.3" ry="7.8" fill="url(#hb)" opacity="0.62"/>
<ellipse cx="524.6" cy="326.0" rx="7.4" ry="9.2" fill="url(#hb)" opacity="0.70"/>
<ellipse cx="553.2" cy="408.5" rx="5.7" ry="7.1" fill="url(#hb)" opacity="0.60"/>
<ellipse cx="530.7" cy="378.2" rx="6.0" ry="7.5" fill="url(#hb)" opacity="0.57"/>
<ellipse cx="437.9" cy="446.3" rx="6.6" ry="8.2" fill="url(#hb)" opacity="0.44"/>
<ellipse cx="483.6" cy="353.0" rx="6.4" ry="7.9" fill="url(#hb)" opacity="0.45"/>
<ellipse cx="492.9" cy="348.4" rx="5.3" ry="6.7" fill="url(#hb)" opacity="0.45"/>
<ellipse cx="465.1" cy="348.9" rx="6.0" ry="7.5" fill="url(#hb)" opacity="0.59"/>
<ellipse cx="521.2" cy="353.4" rx="6.0" ry="7.5" fill="url(#hb)" opacity="0.71"/>
<ellipse cx="507.9" cy="458.1" rx="7.0" ry="8.7" fill="url(#hb)" opacity="0.63"/>
<ellipse cx="458.4" cy="325.5" rx="6.1" ry="7.6" fill="url(#hb)" opacity="0.53"/>
<ellipse cx="507.0" cy="299.5" rx="6.8" ry="8.5" fill="url(#hb)" opacity="0.47"/>
<ellipse cx="487.8" cy="380.2" rx="6.9" ry="8.6" fill="url(#hb)" opacity="0.71"/>
<ellipse cx="567.6" cy="303.4" rx="6.9" ry="8.7" fill="url(#hb)" opacity="0.51"/>
<ellipse cx="581.4" cy="378.3" rx="6.8" ry="8.5" fill="url(#hb)" opacity="0.63"/>
<ellipse cx="533.9" cy="452.6" rx="6.7" ry="8.4" fill="url(#hb)" opacity="0.54"/>
<ellipse cx="446.7" cy="379.6" rx="6.9" ry="8.6" fill="url(#hb)" opacity="0.43"/>
<ellipse cx="445.1" cy="361.7" rx="7.1" ry="8.8" fill="url(#hb)" opacity="0.64"/>
<ellipse cx="539.9" cy="414.2" rx="6.4" ry="8.0" fill="url(#hb)" opacity="0.55"/>
<ellipse cx="427.4" cy="469.8" rx="7.4" ry="9.2" fill="url(#hb)" opacity="0.58"/>
<ellipse cx="422.3" cy="455.2" rx="7.4" ry="9.2" fill="url(#hb)" opacity="0.62"/>
<ellipse cx="515.6" cy="383.4" rx="7.3" ry="9.1" fill="url(#hb)" opacity="0.71"/>
<ellipse cx="503.7" cy="475.4" rx="5.5" ry="6.8" fill="url(#hb)" opacity="0.54"/>
<ellipse cx="559.0" cy="288.4" rx="7.1" ry="8.9" fill="url(#hb)" opacity="0.58"/>
<ellipse cx="449.5" cy="293.7" rx="6.2" ry="7.8" fill="url(#hb)" opacity="0.53"/>
<ellipse cx="551.9" cy="422.9" rx="6.9" ry="8.6" fill="url(#hb)" opacity="0.58"/>
<ellipse cx="431.2" cy="390.8" rx="6.9" ry="8.6" fill="url(#hb)" opacity="0.65"/>
<ellipse cx="481.3" cy="284.1" rx="5.6" ry="7.0" fill="url(#hb)" opacity="0.41"/>
<ellipse cx="500.8" cy="374.6" rx="7.2" ry="9.1" fill="url(#hb)" opacity="0.72"/>
<ellipse cx="526.4" cy="276.0" rx="6.3" ry="7.9" fill="url(#hb)" opacity="0.46"/>
<ellipse cx="459.2" cy="427.2" rx="7.1" ry="8.9" fill="url(#hb)" opacity="0.57"/>
<ellipse cx="442.1" cy="301.0" rx="6.7" ry="8.4" fill="url(#hb)" opacity="0.58"/>
<ellipse cx="443.6" cy="415.0" rx="6.2" ry="7.7" fill="url(#hb)" opacity="0.60"/>
<ellipse cx="522.7" cy="362.8" rx="6.4" ry="8.1" fill="url(#hb)" opacity="0.48"/>
<ellipse cx="439.7" cy="321.3" rx="8.0" ry="10.0" fill="url(#hb)" opacity="0.92"/>
<ellipse cx="501.0" cy="421.0" rx="6.6" ry="8.2" fill="url(#hb)" opacity="0.45"/>
<ellipse cx="551.3" cy="327.8" rx="5.7" ry="7.2" fill="url(#hb)" opacity="0.48"/>
<ellipse cx="448.3" cy="271.4" rx="6.8" ry="8.6" fill="url(#hb)" opacity="0.60"/>
<ellipse cx="537.8" cy="352.9" rx="7.0" ry="8.8" fill="url(#hb)" opacity="0.64"/>
<ellipse cx="520.4" cy="314.2" rx="6.3" ry="7.9" fill="url(#hb)" opacity="0.62"/>
<ellipse cx="582.7" cy="465.6" rx="7.2" ry="9.0" fill="url(#hb)" opacity="0.65"/>
<ellipse cx="429.3" cy="352.0" rx="5.9" ry="7.4" fill="url(#hb)" opacity="0.64"/>
<ellipse cx="534.4" cy="324.1" rx="6.7" ry="8.3" fill="url(#hb)" opacity="0.63"/>
<ellipse cx="559.2" cy="469.6" rx="7.4" ry="9.2" fill="url(#hb)" opacity="0.62"/>
<ellipse cx="455.5" cy="368.9" rx="5.4" ry="6.8" fill="url(#hb)" opacity="0.44"/>
<ellipse cx="566.2" cy="372.9" rx="6.4" ry="8.0" fill="url(#hb)" opacity="0.50"/>
<ellipse cx="560.2" cy="323.2" rx="6.4" ry="7.9" fill="url(#hb)" opacity="0.55"/>
<ellipse cx="565.0" cy="411.1" rx="6.9" ry="8.6" fill="url(#hb)" opacity="0.70"/>
<ellipse cx="556.8" cy="398.1" rx="6.3" ry="7.9" fill="url(#hb)" opacity="0.74"/>
<ellipse cx="485.1" cy="470.2" rx="7.0" ry="8.7" fill="url(#hb)" opacity="0.44"/>
<ellipse cx="463.3" cy="373.3" rx="6.4" ry="8.0" fill="url(#hb)" opacity="0.64"/>
<ellipse cx="583.2" cy="356.6" rx="6.4" ry="8.0" fill="url(#hb)" opacity="0.47"/>
<ellipse cx="497.6" cy="461.9" rx="7.1" ry="8.8" fill="url(#hb)" opacity="0.72"/>
<ellipse cx="513.3" cy="439.6" rx="6.8" ry="8.4" fill="url(#hb)" opacity="0.68"/>
<ellipse cx="492.8" cy="323.6" rx="6.6" ry="8.3" fill="url(#hb)" opacity="0.46"/>
<ellipse cx="541.6" cy="362.5" rx="6.1" ry="7.6" fill="url(#hb)" opacity="0.46"/>
<ellipse cx="521.1" cy="443.0" rx="5.9" ry="7.4" fill="url(#hb)" opacity="0.53"/>
<ellipse cx="529.8" cy="460.7" rx="7.3" ry="9.2" fill="url(#hb)" opacity="0.63"/>
<ellipse cx="525.4" cy="295.2" rx="7.0" ry="8.7" fill="url(#hb)" opacity="0.64"/>
<ellipse cx="583.0" cy="411.0" rx="6.5" ry="8.1" fill="url(#hb)" opacity="0.54"/>
<ellipse cx="453.0" cy="335.5" rx="7.7" ry="9.7" fill="url(#hb)" opacity="0.73"/>
<ellipse cx="497.5" cy="299.1" rx="6.7" ry="8.4" fill="url(#hb)" opacity="0.61"/>
<ellipse cx="449.2" cy="324.5" rx="6.0" ry="7.5" fill="url(#hb)" opacity="0.67"/>
<ellipse cx="575.9" cy="421.6" rx="6.9" ry="8.6" fill="url(#hb)" opacity="0.64"/>
<ellipse cx="520.4" cy="375.8" rx="5.6" ry="7.0" fill="url(#hb)" opacity="0.55"/>
<ellipse cx="495.0" cy="448.0" rx="6.5" ry="8.1" fill="url(#hb)" opacity="0.67"/>
<ellipse cx="542.0" cy="282.6" rx="5.7" ry="7.1" fill="url(#hb)" opacity="0.55"/>
<ellipse cx="477.6" cy="404.3" rx="6.1" ry="7.6" fill="url(#hb)" opacity="0.52"/>
<ellipse cx="447.7" cy="349.6" rx="7.3" ry="9.1" fill="url(#hb)" opacity="0.68"/>
<ellipse cx="464.4" cy="419.7" rx="6.6" ry="8.2" fill="url(#hb)" opacity="0.50"/>
<ellipse cx="527.8" cy="435.2" rx="6.6" ry="8.2" fill="url(#hb)" opacity="0.66"/>
<ellipse cx="546.7" cy="317.4" rx="6.2" ry="7.8" fill="url(#hb)" opacity="0.42"/>
<ellipse cx="531.8" cy="391.2" rx="6.0" ry="7.5" fill="url(#hb)" opacity="0.49"/>
<ellipse cx="519.4" cy="405.3" rx="6.2" ry="7.8" fill="url(#hb)" opacity="0.71"/>
<ellipse cx="494.4" cy="389.4" rx="6.1" ry="7.7" fill="url(#hb)" opacity="0.46"/>
<ellipse cx="515.1" cy="448.8" rx="7.1" ry="8.9" fill="url(#hb)" opacity="0.52"/>
<ellipse cx="434.4" cy="404.6" rx="6.5" ry="8.2" fill="url(#hb)" opacity="0.71"/>
<ellipse cx="467.7" cy="335.5" rx="6.8" ry="8.5" fill="url(#hb)" opacity="0.51"/>
<ellipse cx="543.6" cy="343.4" rx="7.4" ry="9.3" fill="url(#hb)" opacity="0.59"/>
<ellipse cx="560.1" cy="271.4" rx="6.2" ry="7.7" fill="url(#hb)" opacity="0.61"/>
<ellipse cx="458.0" cy="400.5" rx="7.0" ry="8.8" fill="url(#hb)" opacity="0.62"/>
<ellipse cx="564.6" cy="361.1" rx="6.9" ry="8.7" fill="url(#hb)" opacity="0.57"/>
<ellipse cx="571.0" cy="442.9" rx="7.2" ry="9.0" fill="url(#hb)" opacity="0.70"/>
<ellipse cx="481.2" cy="438.7" rx="6.2" ry="7.8" fill="url(#hb)" opacity="0.69"/>
<ellipse cx="471.5" cy="309.6" rx="7.0" ry="8.8" fill="url(#hb)" opacity="0.45"/>
<ellipse cx="420.2" cy="277.0" rx="6.2" ry="7.8" fill="url(#hb)" opacity="0.70"/>
<ellipse cx="533.9" cy="285.6" rx="6.6" ry="8.2" fill="url(#hb)" opacity="0.56"/>
<ellipse cx="457.5" cy="354.5" rx="6.8" ry="8.5" fill="url(#hb)" opacity="0.72"/>
<ellipse cx="580.3" cy="332.3" rx="7.5" ry="9.3" fill="url(#hb)" opacity="0.71"/>
<ellipse cx="570.0" cy="394.9" rx="6.7" ry="8.4" fill="url(#hb)" opacity="0.73"/>
<ellipse cx="489.0" cy="367.8" rx="6.9" ry="8.6" fill="url(#hb)" opacity="0.54"/>
<ellipse cx="475.5" cy="292.9" rx="7.0" ry="8.7" fill="url(#hb)" opacity="0.54"/>
<ellipse cx="551.9" cy="341.6" rx="6.8" ry="8.6" fill="url(#hb)" opacity="0.64"/>
<ellipse cx="440.0" cy="397.7" rx="6.4" ry="8.0" fill="url(#hb)" opacity="0.53"/>
<ellipse cx="528.1" cy="411.5" rx="6.9" ry="8.7" fill="url(#hb)" opacity="0.52"/>
<ellipse cx="445.5" cy="446.7" rx="6.0" ry="7.4" fill="url(#hb)" opacity="0.61"/>
<ellipse cx="455.0" cy="469.6" rx="5.9" ry="7.4" fill="url(#hb)" opacity="0.46"/>
<ellipse cx="458.3" cy="271.8" rx="5.7" ry="7.2" fill="url(#hb)" opacity="0.41"/>
<ellipse cx="582.5" cy="321.5" rx="5.8" ry="7.3" fill="url(#hb)" opacity="0.49"/>
<ellipse cx="512.5" cy="357.0" rx="5.6" ry="7.0" fill="url(#hb)" opacity="0.41"/>
<ellipse cx="430.2" cy="320.7" rx="6.5" ry="8.1" fill="url(#hb)" opacity="0.65"/>
<ellipse cx="551.9" cy="372.3" rx="5.9" ry="7.4" fill="url(#hb)" opacity="0.65"/>
<ellipse cx="567.9" cy="452.0" rx="7.3" ry="9.2" fill="url(#hb)" opacity="0.71"/>
<ellipse cx="564.7" cy="401.4" rx="5.5" ry="6.9" fill="url(#hb)" opacity="0.60"/>
<ellipse cx="584.8" cy="440.8" rx="5.8" ry="7.3" fill="url(#hb)" opacity="0.56"/>
<ellipse cx="515.8" cy="343.9" rx="6.8" ry="8.5" fill="url(#hb)" opacity="0.63"/>
<ellipse cx="566.1" cy="464.4" rx="6.1" ry="7.7" fill="url(#hb)" opacity="0.71"/>
<ellipse cx="558.6" cy="354.0" rx="7.0" ry="8.7" fill="url(#hb)" opacity="0.55"/>
<ellipse cx="421.9" cy="324.3" rx="6.8" ry="8.6" fill="url(#hb)" opacity="0.60"/>
<ellipse cx="482.2" cy="342.5" rx="5.6" ry="7.0" fill="url(#hb)" opacity="0.47"/>
<ellipse cx="559.7" cy="431.7" rx="7.1" ry="8.8" fill="url(#hb)" opacity="0.71"/>
<ellipse cx="560.1" cy="301.5" rx="6.9" ry="8.7" fill="url(#hb)" opacity="0.55"/>
<ellipse cx="453.5" cy="316.6" rx="7.1" ry="8.9" fill="url(#hb)" opacity="0.47"/>
<ellipse cx="471.5" cy="453.6" rx="6.6" ry="8.3" fill="url(#hb)" opacity="0.43"/>
<ellipse cx="464.7" cy="276.8" rx="6.4" ry="8.0" fill="url(#hb)" opacity="0.72"/>
<ellipse cx="535.0" cy="427.0" rx="6.9" ry="8.6" fill="url(#hb)" opacity="0.45"/>
<ellipse cx="426.7" cy="300.4" rx="5.9" ry="7.3" fill="url(#hb)" opacity="0.58"/>
<ellipse cx="537.7" cy="461.9" rx="5.5" ry="6.9" fill="url(#hb)" opacity="0.57"/>
<ellipse cx="505.0" cy="329.2" rx="6.6" ry="8.3" fill="url(#hb)" opacity="0.72"/>
<ellipse cx="548.2" cy="384.0" rx="7.2" ry="9.0" fill="url(#hb)" opacity="0.67"/>
<ellipse cx="442.1" cy="291.1" rx="7.3" ry="9.1" fill="url(#hb)" opacity="0.62"/>
<ellipse cx="434.1" cy="414.7" rx="6.4" ry="8.0" fill="url(#hb)" opacity="0.40"/>
<ellipse cx="544.0" cy="331.5" rx="7.3" ry="9.1" fill="url(#hb)" opacity="0.60"/>
<ellipse cx="550.6" cy="289.0" rx="6.5" ry="8.1" fill="url(#hb)" opacity="0.69"/>
<ellipse cx="447.1" cy="470.4" rx="6.3" ry="7.9" fill="url(#hb)" opacity="0.69"/>
<ellipse cx="517.3" cy="294.5" rx="5.6" ry="7.0" fill="url(#hb)" opacity="0.56"/>
<ellipse cx="441.2" cy="343.9" rx="6.0" ry="7.5" fill="url(#hb)" opacity="0.70"/>
<ellipse cx="573.5" cy="361.9" rx="6.5" ry="8.2" fill="url(#hb)" opacity="0.52"/>
<ellipse cx="585.2" cy="274.5" rx="6.5" ry="8.2" fill="url(#hb)" opacity="0.57"/>
<ellipse cx="431.3" cy="450.8" rx="6.9" ry="8.6" fill="url(#hb)" opacity="0.72"/>
<ellipse cx="454.2" cy="413.0" rx="6.5" ry="8.1" fill="url(#hb)" opacity="0.42"/>
<ellipse cx="504.1" cy="384.1" rx="6.0" ry="7.5" fill="url(#hb)" opacity="0.71"/>
<ellipse cx="480.3" cy="366.9" rx="6.2" ry="7.8" fill="url(#hb)" opacity="0.56"/>
<ellipse cx="486.5" cy="420.6" rx="6.0" ry="7.5" fill="url(#hb)" opacity="0.60"/>
<ellipse cx="559.1" cy="369.6" rx="5.9" ry="7.4" fill="url(#hb)" opacity="0.68"/>
<ellipse cx="538.6" cy="302.5" rx="6.5" ry="8.1" fill="url(#hb)" opacity="0.69"/>
<ellipse cx="515.0" cy="466.4" rx="6.0" ry="7.5" fill="url(#hb)" opacity="0.63"/>
<ellipse cx="515.1" cy="368.2" rx="5.7" ry="7.1" fill="url(#hb)" opacity="0.46"/>
<ellipse cx="515.0" cy="329.7" rx="6.8" ry="8.5" fill="url(#hb)" opacity="0.51"/>
<ellipse cx="525.3" cy="306.6" rx="7.1" ry="8.9" fill="url(#hb)" opacity="0.49"/>
<ellipse cx="540.3" cy="311.5" rx="6.0" ry="7.5" fill="url(#hb)" opacity="0.59"/>
<ellipse cx="440.3" cy="384.4" rx="6.8" ry="8.5" fill="url(#hb)" opacity="0.58"/>
<ellipse cx="583.6" cy="450.8" rx="5.6" ry="7.1" fill="url(#hb)" opacity="0.60"/>
<ellipse cx="467.7" cy="381.6" rx="7.2" ry="8.9" fill="url(#hb)" opacity="0.47"/>
<ellipse cx="475.3" cy="466.0" rx="6.4" ry="8.0" fill="url(#hb)" opacity="0.61"/>
<ellipse cx="421.0" cy="341.1" rx="6.5" ry="8.2" fill="url(#hb)" opacity="0.56"/>
<ellipse cx="449.2" cy="427.4" rx="6.0" ry="7.5" fill="url(#hb)" opacity="0.44"/>
<ellipse cx="451.6" cy="458.1" rx="6.8" ry="8.5" fill="url(#hb)" opacity="0.64"/>
<ellipse cx="425.6" cy="369.9" rx="5.6" ry="7.0" fill="url(#hb)" opacity="0.48"/>
<ellipse cx="473.6" cy="424.0" rx="7.3" ry="9.2" fill="url(#hb)" opacity="0.68"/>
<ellipse cx="584.5" cy="422.0" rx="6.7" ry="8.4" fill="url(#hb)" opacity="0.42"/>
<ellipse cx="531.3" cy="357.8" rx="2.6" ry="3.1" fill="url(#hb)" opacity="0.20"/>
<ellipse cx="531.5" cy="468.9" rx="2.6" ry="3.1" fill="url(#hb)" opacity="0.13"/>
<ellipse cx="554.2" cy="423.9" rx="2.6" ry="3.1" fill="url(#hb)" opacity="0.20"/>
<ellipse cx="542.5" cy="370.7" rx="2.6" ry="3.1" fill="url(#hb)" opacity="0.17"/>
<ellipse cx="515.1" cy="359.5" rx="2.6" ry="3.1" fill="url(#hb)" opacity="0.15"/>
<ellipse cx="569.8" cy="399.8" rx="2.6" ry="3.1" fill="url(#hb)" opacity="0.20"/>
<ellipse cx="522.9" cy="279.9" rx="2.6" ry="3.1" fill="url(#hb)" opacity="0.16"/>
<ellipse cx="474.6" cy="406.7" rx="2.6" ry="3.1" fill="url(#hb)" opacity="0.20"/>
<ellipse cx="571.0" cy="456.3" rx="2.6" ry="3.1" fill="url(#hb)" opacity="0.13"/>
<ellipse cx="578.8" cy="384.4" rx="2.6" ry="3.1" fill="url(#hb)" opacity="0.23"/>
<ellipse cx="465.1" cy="291.1" rx="2.6" ry="3.1" fill="url(#hb)" opacity="0.19"/>
<ellipse cx="427.0" cy="381.8" rx="2.6" ry="3.1" fill="url(#hb)" opacity="0.22"/>
<ellipse cx="500.1" cy="430.2" rx="2.6" ry="3.1" fill="url(#hb)" opacity="0.20"/>
<ellipse cx="471.4" cy="386.3" rx="2.6" ry="3.1" fill="url(#hb)" opacity="0.19"/>
<ellipse cx="537.5" cy="362.9" rx="2.6" ry="3.1" fill="url(#hb)" opacity="0.18"/>
<ellipse cx="564.7" cy="461.9" rx="2.6" ry="3.1" fill="url(#hb)" opacity="0.13"/>
<ellipse cx="421.1" cy="331.7" rx="2.6" ry="3.1" fill="url(#hb)" opacity="0.19"/>
<ellipse cx="478.5" cy="425.2" rx="2.6" ry="3.1" fill="url(#hb)" opacity="0.23"/>
<ellipse cx="428.6" cy="471.2" rx="2.6" ry="3.1" fill="url(#hb)" opacity="0.21"/>
<ellipse cx="442.9" cy="439.3" rx="2.6" ry="3.1" fill="url(#hb)" opacity="0.18"/>
<ellipse cx="426.3" cy="356.4" rx="2.6" ry="3.1" fill="url(#hb)" opacity="0.21"/>
<ellipse cx="550.3" cy="359.2" rx="2.6" ry="3.1" fill="url(#hb)" opacity="0.16"/>
<ellipse cx="450.5" cy="319.3" rx="2.6" ry="3.1" fill="url(#hb)" opacity="0.16"/>
<ellipse cx="546.5" cy="426.6" rx="2.6" ry="3.1" fill="url(#hb)" opacity="0.13"/>
<ellipse cx="543.1" cy="272.2" rx="2.6" ry="3.1" fill="url(#hb)" opacity="0.14"/>
<ellipse cx="424.2" cy="343.7" rx="2.6" ry="3.1" fill="url(#hb)" opacity="0.17"/>
<ellipse cx="486.5" cy="432.7" rx="2.6" ry="3.1" fill="url(#hb)" opacity="0.13"/>
<ellipse cx="445.8" cy="294.3" rx="2.6" ry="3.1" fill="url(#hb)" opacity="0.19"/>
<ellipse cx="436.3" cy="410.2" rx="2.6" ry="3.1" fill="url(#hb)" opacity="0.21"/>
<ellipse cx="501.2" cy="338.4" rx="2.6" ry="3.1" fill="url(#hb)" opacity="0.14"/>
<ellipse cx="531.9" cy="331.5" rx="2.6" ry="3.1" fill="url(#hb)" opacity="0.19"/>
<ellipse cx="457.7" cy="327.1" rx="2.6" ry="3.1" fill="url(#hb)" opacity="0.23"/>
<ellipse cx="543.6" cy="387.5" rx="2.6" ry="3.1" fill="url(#hb)" opacity="0.14"/>
<ellipse cx="502.0" cy="464.7" rx="2.6" ry="3.1" fill="url(#hb)" opacity="0.16"/>
<ellipse cx="425.5" cy="320.2" rx="2.6" ry="3.1" fill="url(#hb)" opacity="0.17"/>
<ellipse cx="436.4" cy="329.1" rx="2.6" ry="3.1" fill="url(#hb)" opacity="0.18"/>
<ellipse cx="542.8" cy="344.0" rx="2.6" ry="3.1" fill="url(#hb)" opacity="0.18"/>
<ellipse cx="460.5" cy="419.7" rx="2.6" ry="3.1" fill="url(#hb)" opacity="0.18"/>
<ellipse cx="541.2" cy="416.2" rx="2.6" ry="3.1" fill="url(#hb)" opacity="0.21"/>
<ellipse cx="487.7" cy="446.3" rx="2.6" ry="3.1" fill="url(#hb)" opacity="0.24"/>
<ellipse cx="425.0" cy="410.0" rx="2.6" ry="3.1" fill="url(#hb)" opacity="0.24"/>
<ellipse cx="446.1" cy="475.3" rx="2.6" ry="3.1" fill="url(#hb)" opacity="0.16"/>
<ellipse cx="486.7" cy="344.4" rx="2.6" ry="3.1" fill="url(#hb)" opacity="0.15"/>
<ellipse cx="444.9" cy="414.8" rx="2.6" ry="3.1" fill="url(#hb)" opacity="0.23"/>
<ellipse cx="553.8" cy="430.1" rx="2.6" ry="3.1" fill="url(#hb)" opacity="0.14"/>
<ellipse cx="551.3" cy="274.6" rx="2.6" ry="3.1" fill="url(#hb)" opacity="0.22"/>
<ellipse cx="582.8" cy="274.5" rx="2.6" ry="3.1" fill="url(#hb)" opacity="0.16"/>
<ellipse cx="427.2" cy="345.2" rx="2.6" ry="3.1" fill="url(#hb)" opacity="0.21"/>
<ellipse cx="425.7" cy="397.9" rx="2.6" ry="3.1" fill="url(#hb)" opacity="0.16"/>
<ellipse cx="507.4" cy="337.8" rx="2.6" ry="3.1" fill="url(#hb)" opacity="0.21"/>
<ellipse cx="523.1" cy="426.2" rx="2.6" ry="3.1" fill="url(#hb)" opacity="0.20"/>
<ellipse cx="458.8" cy="412.8" rx="2.6" ry="3.1" fill="url(#hb)" opacity="0.19"/>
<ellipse cx="516.8" cy="464.0" rx="2.6" ry="3.1" fill="url(#hb)" opacity="0.13"/>
<ellipse cx="495.9" cy="338.5" rx="2.6" ry="3.1" fill="url(#hb)" opacity="0.16"/>
<ellipse cx="548.4" cy="413.5" rx="2.6" ry="3.1" fill="url(#hb)" opacity="0.25"/>
<ellipse cx="458.3" cy="376.2" rx="2.6" ry="3.1" fill="url(#hb)" opacity="0.21"/>
<ellipse cx="509.3" cy="377.9" rx="2.6" ry="3.1" fill="url(#hb)" opacity="0.19"/>
<ellipse cx="575.6" cy="378.1" rx="2.6" ry="3.1" fill="url(#hb)" opacity="0.12"/>
<ellipse cx="552.5" cy="384.9" rx="2.6" ry="3.1" fill="url(#hb)" opacity="0.14"/>
<ellipse cx="488.1" cy="451.6" rx="2.6" ry="3.1" fill="url(#hb)" opacity="0.14"/>
<ellipse cx="501.8" cy="437.2" rx="2.6" ry="3.1" fill="url(#hb)" opacity="0.22"/>
<ellipse cx="524.2" cy="336.0" rx="2.6" ry="3.1" fill="url(#hb)" opacity="0.13"/>
<ellipse cx="517.3" cy="383.3" rx="2.6" ry="3.1" fill="url(#hb)" opacity="0.22"/>
<ellipse cx="496.2" cy="399.2" rx="2.6" ry="3.1" fill="url(#hb)" opacity="0.17"/>
<ellipse cx="424.8" cy="279.9" rx="2.6" ry="3.1" fill="url(#hb)" opacity="0.23"/>
<ellipse cx="509.1" cy="357.3" rx="2.6" ry="3.1" fill="url(#hb)" opacity="0.13"/>
<ellipse cx="479.2" cy="427.2" rx="2.6" ry="3.1" fill="url(#hb)" opacity="0.24"/>
<ellipse cx="440.5" cy="358.2" rx="2.6" ry="3.1" fill="url(#hb)" opacity="0.20"/>
<ellipse cx="578.6" cy="451.8" rx="2.6" ry="3.1" fill="url(#hb)" opacity="0.24"/>
<ellipse cx="427.8" cy="271.8" rx="2.6" ry="3.1" fill="url(#hb)" opacity="0.18"/></g></g>
<rect x="420.0" y="269.3" width="165.2" height="207.3" fill="none" stroke="#e9f0b0" stroke-width="1" opacity="0.9"/>
<path d="M420.0,269.3 v-3 M420.0,476.6 v4 M420.0,269.3 h-4 M585.2,269.3 h3 M433.2,269.3 v-3 M433.2,476.6 v4 M420.0,285.9 h-4 M585.2,285.9 h3 M446.4,269.3 v-3 M446.4,476.6 v4 M420.0,302.5 h-4 M585.2,302.5 h3 M459.6,269.3 v-3 M459.6,476.6 v4 M420.0,319.1 h-4 M585.2,319.1 h3 M472.9,269.3 v-3 M472.9,476.6 v4 M420.0,335.6 h-4 M585.2,335.6 h3 M486.1,269.3 v-3 M486.1,476.6 v4 M420.0,352.2 h-4 M585.2,352.2 h3 M499.3,269.3 v-3 M499.3,476.6 v4 M420.0,368.8 h-4 M585.2,368.8 h3 M512.5,269.3 v-3 M512.5,476.6 v4 M420.0,385.4 h-4 M585.2,385.4 h3 M525.7,269.3 v-3 M525.7,476.6 v4 M420.0,402.0 h-4 M585.2,402.0 h3 M538.9,269.3 v-3 M538.9,476.6 v4 M420.0,418.6 h-4 M585.2,418.6 h3 M552.2,269.3 v-3 M552.2,476.6 v4 M420.0,435.1 h-4 M585.2,435.1 h3 M565.4,269.3 v-3 M565.4,476.6 v4 M420.0,451.7 h-4 M585.2,451.7 h3 M578.6,269.3 v-3 M578.6,476.6 v4 M420.0,468.3 h-4 M585.2,468.3 h3" stroke="#e6ecc0" stroke-width="0.9" fill="none"/>
<text x="420" y="261.2" text-anchor="middle" font-family="Liberation Sans, sans-serif" font-size="9.2" fill="#e9e9cc" textLength="4.4" lengthAdjust="spacingAndGlyphs">0</text>
<text x="446.4" y="261.2" text-anchor="middle" font-family="Liberation Sans, sans-serif" font-size="9.2" fill="#e9e9cc" textLength="10.5" lengthAdjust="spacingAndGlyphs">0.2</text>
<text x="472.9" y="261.2" text-anchor="middle" font-family="Liberation Sans, sans-serif" font-size="9.2" fill="#e9e9cc" textLength="10.5" lengthAdjust="spacingAndGlyphs">0.4</text>
<text x="499.3" y="261.2" text-anchor="middle" font-family="Liberation Sans, sans-serif" font-size="9.2" fill="#e9e9cc" textLength="10.5" lengthAdjust="spacingAndGlyphs">0.6</text>
<text x="525.7" y="261.2" text-anchor="middle" font-family="Liberation Sans, sans-serif" font-size="9.2" fill="#e9e9cc" textLength="10.5" lengthAdjust="spacingAndGlyphs">0.8</text>
<text x="552.2" y="261.2" text-anchor="middle" font-family="Liberation Sans, sans-serif" font-size="9.2" fill="#e9e9cc" textLength="4.4" lengthAdjust="spacingAndGlyphs">1</text>
<text x="573.1" y="261.2" text-anchor="start" font-family="Liberation Sans, sans-serif" font-size="9.2" fill="#e9e9cc" textLength="22" lengthAdjust="spacingAndGlyphs">1.2 µm</text>
<text x="414.2" y="272.5" text-anchor="end" font-family="Liberation Sans, sans-serif" font-size="9.2" fill="#e9e9cc" textLength="4.4" lengthAdjust="spacingAndGlyphs">0</text>
<text x="414.2" y="289.1" text-anchor="end" font-family="Liberation Sans, sans-serif" font-size="9.2" fill="#e9e9cc" textLength="10.5" lengthAdjust="spacingAndGlyphs">0.1</text>
<text x="414.2" y="305.7" text-anchor="end" font-family="Liberation Sans, sans-serif" font-size="9.2" fill="#e9e9cc" textLength="10.5" lengthAdjust="spacingAndGlyphs">0.2</text>
<text x="414.2" y="322.3" text-anchor="end" font-family="Liberation Sans, sans-serif" font-size="9.2" fill="#e9e9cc" textLength="10.5" lengthAdjust="spacingAndGlyphs">0.3</text>
<text x="414.2" y="338.8" text-anchor="end" font-family="Liberation Sans, sans-serif" font-size="9.2" fill="#e9e9cc" textLength="10.5" lengthAdjust="spacingAndGlyphs">0.4</text>
<text x="414.2" y="355.4" text-anchor="end" font-family="Liberation Sans, sans-serif" font-size="9.2" fill="#e9e9cc" textLength="10.5" lengthAdjust="spacingAndGlyphs">0.5</text>
<text x="414.2" y="372" text-anchor="end" font-family="Liberation Sans, sans-serif" font-size="9.2" fill="#e9e9cc" textLength="10.5" lengthAdjust="spacingAndGlyphs">0.6</text>
<text x="414.2" y="388.6" text-anchor="end" font-family="Liberation Sans, sans-serif" font-size="9.2" fill="#e9e9cc" textLength="10.5" lengthAdjust="spacingAndGlyphs">0.7</text>
<text x="414.2" y="405.2" text-anchor="end" font-family="Liberation Sans, sans-serif" font-size="9.2" fill="#e9e9cc" textLength="10.5" lengthAdjust="spacingAndGlyphs">0.8</text>
<text x="414.2" y="421.8" text-anchor="end" font-family="Liberation Sans, sans-serif" font-size="9.2" fill="#e9e9cc" textLength="10.5" lengthAdjust="spacingAndGlyphs">0.9</text>
<text x="414.2" y="438.3" text-anchor="end" font-family="Liberation Sans, sans-serif" font-size="9.2" fill="#e9e9cc" textLength="4.4" lengthAdjust="spacingAndGlyphs">1</text>
<text x="414.2" y="454.9" text-anchor="end" font-family="Liberation Sans, sans-serif" font-size="9.2" fill="#e9e9cc" textLength="10.5" lengthAdjust="spacingAndGlyphs">1.1</text>
<text x="414.2" y="471.5" text-anchor="end" font-family="Liberation Sans, sans-serif" font-size="9.2" fill="#e9e9cc" textLength="10.5" lengthAdjust="spacingAndGlyphs">1.2</text>
<text x="403.5" y="494.6" text-anchor="start" font-family="Liberation Sans, sans-serif" font-size="8.6" fill="#e9e9cc" textLength="9.5" lengthAdjust="spacingAndGlyphs">µm</text>
<rect x="612.8" y="264.3" width="10.6" height="219" fill="url(#dcb)" stroke="#f2ecd0" stroke-width="1.1"/>
<path d="M623.4,483.3 h3.6 M623.4,462.0 h3.6 M623.4,440.7 h3.6 M623.4,419.4 h3.6 M623.4,398.1 h3.6 M623.4,376.8 h3.6 M623.4,355.5 h3.6 M623.4,334.2 h3.6 M623.4,312.9 h3.6 M623.4,291.6 h3.6 M623.4,270.3 h3.6" stroke="#ecd8d8" stroke-width="0.9" fill="none"/>
<text x="629.4" y="486.6" text-anchor="start" font-family="Liberation Sans, sans-serif" font-size="9.2" fill="#e9e9cc" textLength="4.4" lengthAdjust="spacingAndGlyphs">0</text>
<text x="629.4" y="465.3" text-anchor="start" font-family="Liberation Sans, sans-serif" font-size="9.2" fill="#e9e9cc" textLength="10.8" lengthAdjust="spacingAndGlyphs">2.5</text>
<text x="629.4" y="444" text-anchor="start" font-family="Liberation Sans, sans-serif" font-size="9.2" fill="#e9e9cc" textLength="4.4" lengthAdjust="spacingAndGlyphs">5</text>
<text x="629.4" y="422.7" text-anchor="start" font-family="Liberation Sans, sans-serif" font-size="9.2" fill="#e9e9cc" textLength="10.8" lengthAdjust="spacingAndGlyphs">7.5</text>
<text x="629.4" y="401.4" text-anchor="start" font-family="Liberation Sans, sans-serif" font-size="9.2" fill="#e9e9cc" textLength="9" lengthAdjust="spacingAndGlyphs">10</text>
<text x="629.4" y="380.1" text-anchor="start" font-family="Liberation Sans, sans-serif" font-size="9.2" fill="#e9e9cc" textLength="15.4" lengthAdjust="spacingAndGlyphs">12.5</text>
<text x="629.4" y="358.8" text-anchor="start" font-family="Liberation Sans, sans-serif" font-size="9.2" fill="#e9e9cc" textLength="9" lengthAdjust="spacingAndGlyphs">15</text>
<text x="629.4" y="337.5" text-anchor="start" font-family="Liberation Sans, sans-serif" font-size="9.2" fill="#e9e9cc" textLength="15.4" lengthAdjust="spacingAndGlyphs">17.5</text>
<text x="629.4" y="316.2" text-anchor="start" font-family="Liberation Sans, sans-serif" font-size="9.2" fill="#e9e9cc" textLength="9" lengthAdjust="spacingAndGlyphs">20</text>
<text x="629.4" y="294.9" text-anchor="start" font-family="Liberation Sans, sans-serif" font-size="9.2" fill="#e9e9cc" textLength="15.4" lengthAdjust="spacingAndGlyphs">22.5</text>
<text x="629.4" y="273.6" text-anchor="start" font-family="Liberation Sans, sans-serif" font-size="9.2" fill="#e9e9cc" textLength="9" lengthAdjust="spacingAndGlyphs">25</text>
<text x="630.5" y="256.8" text-anchor="start" font-family="Liberation Sans, sans-serif" font-size="8.6" fill="#e9e9cc" textLength="9.6" lengthAdjust="spacingAndGlyphs">nm</text>
<text x="564.2" y="461.2" text-anchor="middle" font-family="Liberation Sans, sans-serif" font-size="9" fill="#111" textLength="27.4" lengthAdjust="spacingAndGlyphs">0.25 µm</text>
<rect x="545.2" y="465.4" width="33.6" height="5" fill="#0a0a0a" stroke="#111" stroke-width="0.9"/>
<rect x="546.0" y="466.2" width="5.4" height="3.4" fill="#ffffff"/>
<rect x="557.4" y="466.2" width="6.8" height="3.4" fill="#ffffff"/>
<rect x="570.2" y="466.2" width="7.8" height="3.4" fill="#ffffff"/>
<text x="645.4" y="493.8" text-anchor="middle" font-family="Liberation Serif, serif" font-weight="bold" font-size="13" fill="#111">D</text>
</g>
</svg>
</body></html>
